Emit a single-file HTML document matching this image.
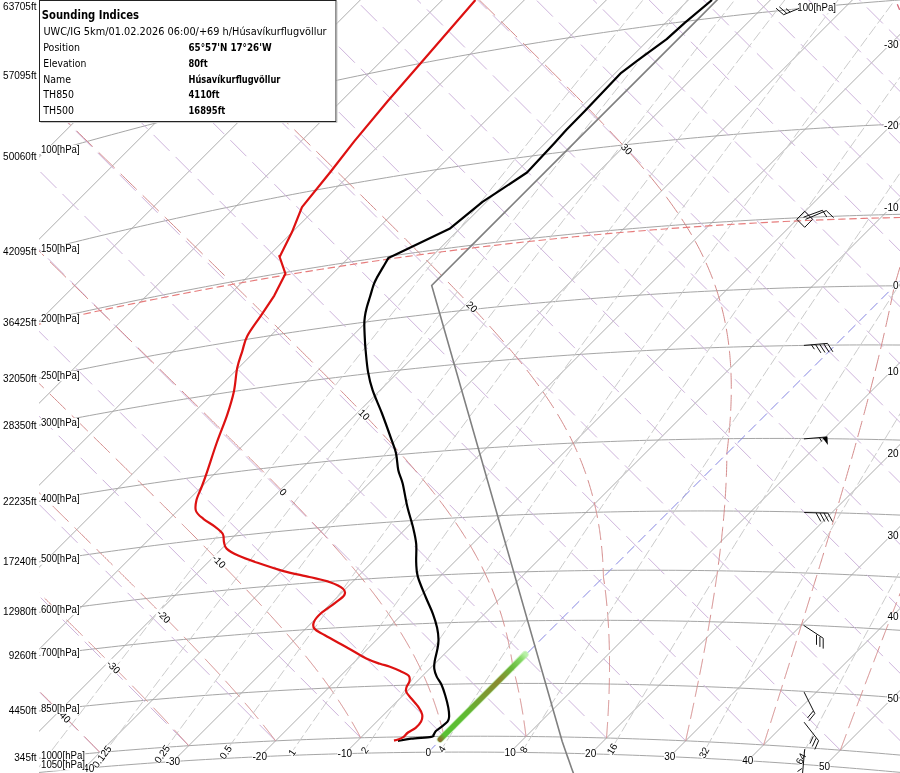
<!DOCTYPE html>
<html><head><meta charset="utf-8"><title>Sounding</title>
<style>html,body{margin:0;padding:0;background:#fff;width:900px;height:773px;overflow:hidden}svg{position:absolute;left:0;top:0;display:block}</style>
</head><body>
<svg width="900" height="773" viewBox="0 0 900 773">
<defs><clipPath id="pa"><rect x="39" y="0" width="861" height="773"/></clipPath></defs>
<rect width="900" height="773" fill="#fff"/>
<g clip-path="url(#pa)">
<path d="M-1230.41 1098.67 L-330.41 198.67 M-1093.06 1043.34 L-193.06 143.34 M-963.24 995.53 L-63.24 95.53 M-839.86 954.16 L60.14 54.16 M-722.04 918.35 L177.96 18.35 M-609.08 887.4 L290.92 -12.6 M-500.4 860.74 L399.6 -39.26 M-395.52 837.87 L504.48 -62.13 M-294.04 818.4 L605.96 -81.6 M-195.61 801.99 L704.39 -98.01 M-99.94 788.33 L800.06 -111.67 M-6.78 777.18 L893.22 -122.82 M84.09 768.32 L984.09 -131.68 M172.87 761.55 L1072.87 -138.45 M259.73 756.71 L1159.73 -143.29 M344.81 753.64 L1244.81 -146.36 M510.15 752.32 L1410.15 -147.68 M590.64 753.85 L1490.64 -146.15 M669.8 756.7 L1569.8 -143.3 M747.73 760.78 L1647.73 -139.22 M824.49 766.03 L1724.49 -133.97" stroke="#acacac" stroke-width="1" fill="none"/>
<path d="M39 1.59 L46.24 -0.92 L53.47 -3.42 L60.71 -5.91 L67.94 -8.38 L75.18 -10.83 L82.41 -13.28 L89.65 -15.71 L96.88 -18.12 L104.12 -20.52 L111.35 -22.91 L118.59 -25.29 L125.82 -27.65 L133.06 -30 L140.29 -32.33 L147.53 -34.65 L154.76 -36.96 L162 -39.25 L169.24 -41.53 L176.47 -43.8 L183.71 -46.05 L190.94 -48.29 L198.18 -50.52 L205.41 -52.73 L212.65 -54.93 L219.88 -57.11 L227.12 -59.28 L234.35 -61.44 L241.59 -63.58 L248.82 -65.71 L256.06 -67.83 L263.29 -69.93 L270.53 -72.02 L277.76 -74.1 L285 -76.16 L292.24 -78.21 L299.47 -80.24 L306.71 -82.26 L313.94 -84.27 L321.18 -86.26 L328.41 -88.24 L335.65 -90.21 L342.88 -92.16 L350.12 -94.1 L357.35 -96.03 L364.59 -97.94 L371.82 -99.84 L379.06 -101.73 L386.29 -103.6 L393.53 -105.46 L400.76 -107.31 L408 -109.14 L415.24 -110.96 L422.47 -112.76 L429.71 -114.55 L436.94 -116.33 L444.18 -118.09 L451.41 -119.85 L458.65 -121.58 L465.88 -123.31 L473.12 -125.02 L480.35 -126.71 L487.59 -128.4 L494.82 -130.07 L502.06 -131.73 L509.29 -133.37 L516.53 -135 L523.76 -136.62 L531 -138.22 L538.24 -139.81 L545.47 -141.39 L552.71 -142.95 L559.94 -144.5 L567.18 -146.04 L574.41 -147.56 L581.65 -149.07 L588.88 -150.57 L596.12 -152.05 L603.35 -153.52 L610.59 -154.98 L617.82 -156.42 L625.06 -157.85 L632.29 -159.27 L639.53 -160.67 L646.76 -162.06 L654 -163.44 L661.24 -164.81 L668.47 -166.16 L675.71 -167.5 L682.94 -168.82 L690.18 -170.13 L697.41 -171.43 L704.65 -172.72 L711.88 -173.99 L719.12 -175.25 L726.35 -176.5 L733.59 -177.73 L740.82 -178.95 L748.06 -180.16 L755.29 -181.35 L762.53 -182.53 L769.76 -183.7 L777 -184.85 L784.24 -185.99 L791.47 -187.12 L798.71 -188.24 L805.94 -189.34 L813.18 -190.43 L820.41 -191.51 L827.65 -192.57 L834.88 -193.63 L842.12 -194.66 L849.35 -195.69 L856.59 -196.7 L863.82 -197.7 L871.06 -198.69 L878.29 -199.66 L885.53 -200.62 L892.76 -201.57 L900 -202.51 M39 74.44 L46.24 72.13 L53.47 69.84 L60.71 67.56 L67.94 65.3 L75.18 63.05 L82.41 60.81 L89.65 58.59 L96.88 56.38 L104.12 54.18 L111.35 52 L118.59 49.83 L125.82 47.67 L133.06 45.53 L140.29 43.4 L147.53 41.29 L154.76 39.19 L162 37.1 L169.24 35.02 L176.47 32.96 L183.71 30.92 L190.94 28.88 L198.18 26.86 L205.41 24.86 L212.65 22.86 L219.88 20.89 L227.12 18.92 L234.35 16.97 L241.59 15.03 L248.82 13.1 L256.06 11.19 L263.29 9.3 L270.53 7.41 L277.76 5.54 L285 3.68 L292.24 1.84 L299.47 0.01 L306.71 -1.81 L313.94 -3.61 L321.18 -5.4 L328.41 -7.18 L335.65 -8.94 L342.88 -10.69 L350.12 -12.43 L357.35 -14.15 L364.59 -15.86 L371.82 -17.55 L379.06 -19.23 L386.29 -20.9 L393.53 -22.56 L400.76 -24.2 L408 -25.83 L415.24 -27.45 L422.47 -29.05 L429.71 -30.64 L436.94 -32.21 L444.18 -33.77 L451.41 -35.32 L458.65 -36.86 L465.88 -38.38 L473.12 -39.89 L480.35 -41.38 L487.59 -42.86 L494.82 -44.33 L502.06 -45.79 L509.29 -47.23 L516.53 -48.66 L523.76 -50.08 L531 -51.48 L538.24 -52.87 L545.47 -54.24 L552.71 -55.61 L559.94 -56.96 L567.18 -58.29 L574.41 -59.62 L581.65 -60.93 L588.88 -62.22 L596.12 -63.51 L603.35 -64.78 L610.59 -66.04 L617.82 -67.28 L625.06 -68.51 L632.29 -69.73 L639.53 -70.94 L646.76 -72.13 L654 -73.31 L661.24 -74.48 L668.47 -75.63 L675.71 -76.77 L682.94 -77.9 L690.18 -79.01 L697.41 -80.11 L704.65 -81.2 L711.88 -82.28 L719.12 -83.34 L726.35 -84.39 L733.59 -85.43 L740.82 -86.45 L748.06 -87.46 L755.29 -88.46 L762.53 -89.45 L769.76 -90.42 L777 -91.38 L784.24 -92.33 L791.47 -93.26 L798.71 -94.18 L805.94 -95.09 L813.18 -95.99 L820.41 -96.87 L827.65 -97.74 L834.88 -98.6 L842.12 -99.44 L849.35 -100.28 L856.59 -101.1 L863.82 -101.9 L871.06 -102.7 L878.29 -103.48 L885.53 -104.25 L892.76 -105.01 L900 -105.75 M39 155.06 L46.24 152.97 L53.47 150.9 L60.71 148.84 L67.94 146.79 L75.18 144.76 L82.41 142.74 L89.65 140.74 L96.88 138.74 L104.12 136.76 L111.35 134.8 L118.59 132.85 L125.82 130.91 L133.06 128.98 L140.29 127.07 L147.53 125.18 L154.76 123.29 L162 121.42 L169.24 119.56 L176.47 117.72 L183.71 115.89 L190.94 114.07 L198.18 112.27 L205.41 110.48 L212.65 108.71 L219.88 106.94 L227.12 105.19 L234.35 103.46 L241.59 101.74 L248.82 100.03 L256.06 98.33 L263.29 96.65 L270.53 94.98 L277.76 93.33 L285 91.68 L292.24 90.06 L299.47 88.44 L306.71 86.84 L313.94 85.25 L321.18 83.68 L328.41 82.11 L335.65 80.57 L342.88 79.03 L350.12 77.51 L357.35 76 L364.59 74.51 L371.82 73.02 L379.06 71.56 L386.29 70.1 L393.53 68.66 L400.76 67.23 L408 65.81 L415.24 64.41 L422.47 63.02 L429.71 61.65 L436.94 60.28 L444.18 58.94 L451.41 57.6 L458.65 56.28 L465.88 54.97 L473.12 53.67 L480.35 52.39 L487.59 51.11 L494.82 49.86 L502.06 48.61 L509.29 47.38 L516.53 46.16 L523.76 44.96 L531 43.77 L538.24 42.59 L545.47 41.42 L552.71 40.27 L559.94 39.13 L567.18 38 L574.41 36.89 L581.65 35.78 L588.88 34.7 L596.12 33.62 L603.35 32.56 L610.59 31.51 L617.82 30.47 L625.06 29.45 L632.29 28.44 L639.53 27.44 L646.76 26.45 L654 25.48 L661.24 24.52 L668.47 23.58 L675.71 22.64 L682.94 21.72 L690.18 20.81 L697.41 19.92 L704.65 19.03 L711.88 18.16 L719.12 17.3 L726.35 16.46 L733.59 15.63 L740.82 14.81 L748.06 14 L755.29 13.21 L762.53 12.42 L769.76 11.66 L777 10.9 L784.24 10.15 L791.47 9.42 L798.71 8.7 L805.94 8 L813.18 7.3 L820.41 6.62 L827.65 5.95 L834.88 5.3 L842.12 4.65 L849.35 4.02 L856.59 3.4 L863.82 2.79 L871.06 2.2 L878.29 1.62 L885.53 1.05 L892.76 0.49 L900 -0.05 M39 250.95 L46.24 249.11 L53.47 247.28 L60.71 245.47 L67.94 243.67 L75.18 241.88 L82.41 240.11 L89.65 238.35 L96.88 236.6 L104.12 234.87 L111.35 233.15 L118.59 231.44 L125.82 229.75 L133.06 228.07 L140.29 226.41 L147.53 224.75 L154.76 223.11 L162 221.49 L169.24 219.88 L176.47 218.28 L183.71 216.69 L190.94 215.12 L198.18 213.56 L205.41 212.02 L212.65 210.48 L219.88 208.96 L227.12 207.46 L234.35 205.97 L241.59 204.49 L248.82 203.02 L256.06 201.57 L263.29 200.13 L270.53 198.71 L277.76 197.29 L285 195.89 L292.24 194.51 L299.47 193.13 L306.71 191.77 L313.94 190.43 L321.18 189.09 L328.41 187.77 L335.65 186.47 L342.88 185.17 L350.12 183.89 L357.35 182.62 L364.59 181.37 L371.82 180.13 L379.06 178.9 L386.29 177.68 L393.53 176.48 L400.76 175.29 L408 174.11 L415.24 172.95 L422.47 171.8 L429.71 170.66 L436.94 169.54 L444.18 168.43 L451.41 167.33 L458.65 166.24 L465.88 165.17 L473.12 164.11 L480.35 163.06 L487.59 162.03 L494.82 161.01 L502.06 160 L509.29 159.01 L516.53 158.02 L523.76 157.05 L531 156.1 L538.24 155.15 L545.47 154.22 L552.71 153.3 L559.94 152.4 L567.18 151.5 L574.41 150.62 L581.65 149.76 L588.88 148.9 L596.12 148.06 L603.35 147.23 L610.59 146.41 L617.82 145.61 L625.06 144.82 L632.29 144.04 L639.53 143.27 L646.76 142.52 L654 141.78 L661.24 141.05 L668.47 140.33 L675.71 139.63 L682.94 138.94 L690.18 138.26 L697.41 137.59 L704.65 136.94 L711.88 136.29 L719.12 135.67 L726.35 135.05 L733.59 134.44 L740.82 133.85 L748.06 133.27 L755.29 132.71 L762.53 132.15 L769.76 131.61 L777 131.08 L784.24 130.56 L791.47 130.05 L798.71 129.56 L805.94 129.08 L813.18 128.61 L820.41 128.15 L827.65 127.71 L834.88 127.28 L842.12 126.86 L849.35 126.45 L856.59 126.05 L863.82 125.67 L871.06 125.3 L878.29 124.94 L885.53 124.59 L892.76 124.25 L900 123.93 M39 321.7 L46.24 320.03 L53.47 318.38 L60.71 316.74 L67.94 315.11 L75.18 313.5 L82.41 311.9 L89.65 310.31 L96.88 308.74 L104.12 307.18 L111.35 305.63 L118.59 304.1 L125.82 302.58 L133.06 301.07 L140.29 299.58 L147.53 298.1 L154.76 296.63 L162 295.18 L169.24 293.74 L176.47 292.31 L183.71 290.9 L190.94 289.5 L198.18 288.11 L205.41 286.74 L212.65 285.38 L219.88 284.03 L227.12 282.69 L234.35 281.37 L241.59 280.06 L248.82 278.77 L256.06 277.49 L263.29 276.22 L270.53 274.96 L277.76 273.72 L285 272.49 L292.24 271.27 L299.47 270.07 L306.71 268.88 L313.94 267.7 L321.18 266.54 L328.41 265.39 L335.65 264.25 L342.88 263.12 L350.12 262.01 L357.35 260.91 L364.59 259.83 L371.82 258.75 L379.06 257.69 L386.29 256.64 L393.53 255.61 L400.76 254.59 L408 253.58 L415.24 252.58 L422.47 251.6 L429.71 250.63 L436.94 249.67 L444.18 248.72 L451.41 247.79 L458.65 246.87 L465.88 245.96 L473.12 245.07 L480.35 244.19 L487.59 243.32 L494.82 242.47 L502.06 241.62 L509.29 240.79 L516.53 239.97 L523.76 239.17 L531 238.38 L538.24 237.6 L545.47 236.83 L552.71 236.07 L559.94 235.33 L567.18 234.6 L574.41 233.88 L581.65 233.18 L588.88 232.49 L596.12 231.81 L603.35 231.14 L610.59 230.48 L617.82 229.84 L625.06 229.21 L632.29 228.59 L639.53 227.99 L646.76 227.4 L654 226.82 L661.24 226.25 L668.47 225.69 L675.71 225.15 L682.94 224.62 L690.18 224.1 L697.41 223.59 L704.65 223.1 L711.88 222.61 L719.12 222.14 L726.35 221.69 L733.59 221.24 L740.82 220.81 L748.06 220.39 L755.29 219.98 L762.53 219.58 L769.76 219.19 L777 218.82 L784.24 218.46 L791.47 218.11 L798.71 217.78 L805.94 217.45 L813.18 217.14 L820.41 216.84 L827.65 216.55 L834.88 216.27 L842.12 216.01 L849.35 215.75 L856.59 215.51 L863.82 215.28 L871.06 215.06 L878.29 214.86 L885.53 214.66 L892.76 214.48 L900 214.31 M39 378.12 L46.24 376.59 L53.47 375.07 L60.71 373.56 L67.94 372.07 L75.18 370.59 L82.41 369.12 L89.65 367.67 L96.88 366.23 L104.12 364.8 L111.35 363.39 L118.59 361.99 L125.82 360.6 L133.06 359.23 L140.29 357.87 L147.53 356.52 L154.76 355.19 L162 353.86 L169.24 352.56 L176.47 351.26 L183.71 349.98 L190.94 348.71 L198.18 347.46 L205.41 346.21 L212.65 344.98 L219.88 343.77 L227.12 342.57 L234.35 341.38 L241.59 340.2 L248.82 339.03 L256.06 337.88 L263.29 336.75 L270.53 335.62 L277.76 334.51 L285 333.41 L292.24 332.32 L299.47 331.25 L306.71 330.19 L313.94 329.14 L321.18 328.11 L328.41 327.08 L335.65 326.08 L342.88 325.08 L350.12 324.1 L357.35 323.13 L364.59 322.17 L371.82 321.22 L379.06 320.29 L386.29 319.37 L393.53 318.47 L400.76 317.57 L408 316.69 L415.24 315.82 L422.47 314.97 L429.71 314.12 L436.94 313.29 L444.18 312.48 L451.41 311.67 L458.65 310.88 L465.88 310.1 L473.12 309.33 L480.35 308.58 L487.59 307.84 L494.82 307.11 L502.06 306.39 L509.29 305.68 L516.53 304.99 L523.76 304.31 L531 303.65 L538.24 302.99 L545.47 302.35 L552.71 301.72 L559.94 301.1 L567.18 300.5 L574.41 299.91 L581.65 299.32 L588.88 298.76 L596.12 298.2 L603.35 297.66 L610.59 297.13 L617.82 296.61 L625.06 296.1 L632.29 295.61 L639.53 295.13 L646.76 294.66 L654 294.2 L661.24 293.75 L668.47 293.32 L675.71 292.9 L682.94 292.49 L690.18 292.09 L697.41 291.71 L704.65 291.34 L711.88 290.98 L719.12 290.63 L726.35 290.29 L733.59 289.97 L740.82 289.65 L748.06 289.35 L755.29 289.06 L762.53 288.79 L769.76 288.52 L777 288.27 L784.24 288.03 L791.47 287.8 L798.71 287.58 L805.94 287.38 L813.18 287.18 L820.41 287 L827.65 286.83 L834.88 286.67 L842.12 286.53 L849.35 286.39 L856.59 286.27 L863.82 286.16 L871.06 286.06 L878.29 285.97 L885.53 285.89 L892.76 285.83 L900 285.77 M39 425.21 L46.24 423.79 L53.47 422.38 L60.71 420.98 L67.94 419.6 L75.18 418.22 L82.41 416.87 L89.65 415.52 L96.88 414.19 L104.12 412.87 L111.35 411.57 L118.59 410.27 L125.82 408.99 L133.06 407.73 L140.29 406.48 L147.53 405.24 L154.76 404.01 L162 402.79 L169.24 401.59 L176.47 400.41 L183.71 399.23 L190.94 398.07 L198.18 396.92 L205.41 395.79 L212.65 394.66 L219.88 393.55 L227.12 392.46 L234.35 391.37 L241.59 390.3 L248.82 389.24 L256.06 388.2 L263.29 387.17 L270.53 386.15 L277.76 385.14 L285 384.15 L292.24 383.17 L299.47 382.2 L306.71 381.24 L313.94 380.3 L321.18 379.37 L328.41 378.46 L335.65 377.55 L342.88 376.66 L350.12 375.78 L357.35 374.92 L364.59 374.06 L371.82 373.22 L379.06 372.39 L386.29 371.58 L393.53 370.78 L400.76 369.99 L408 369.21 L415.24 368.44 L422.47 367.69 L429.71 366.95 L436.94 366.22 L444.18 365.51 L451.41 364.81 L458.65 364.12 L465.88 363.44 L473.12 362.78 L480.35 362.12 L487.59 361.48 L494.82 360.86 L502.06 360.24 L509.29 359.64 L516.53 359.05 L523.76 358.47 L531 357.91 L538.24 357.35 L545.47 356.81 L552.71 356.28 L559.94 355.77 L567.18 355.26 L574.41 354.77 L581.65 354.29 L588.88 353.82 L596.12 353.37 L603.35 352.93 L610.59 352.49 L617.82 352.08 L625.06 351.67 L632.29 351.27 L639.53 350.89 L646.76 350.52 L654 350.16 L661.24 349.82 L668.47 349.48 L675.71 349.16 L682.94 348.85 L690.18 348.55 L697.41 348.27 L704.65 347.99 L711.88 347.73 L719.12 347.48 L726.35 347.24 L733.59 347.01 L740.82 346.8 L748.06 346.59 L755.29 346.4 L762.53 346.22 L769.76 346.06 L777 345.9 L784.24 345.75 L791.47 345.62 L798.71 345.5 L805.94 345.39 L813.18 345.29 L820.41 345.21 L827.65 345.13 L834.88 345.07 L842.12 345.02 L849.35 344.98 L856.59 344.95 L863.82 344.94 L871.06 344.93 L878.29 344.94 L885.53 344.96 L892.76 344.99 L900 345.03 M39 501.32 L46.24 500.07 L53.47 498.83 L60.71 497.6 L67.94 496.39 L75.18 495.18 L82.41 494 L89.65 492.82 L96.88 491.66 L104.12 490.51 L111.35 489.37 L118.59 488.25 L125.82 487.14 L133.06 486.04 L140.29 484.95 L147.53 483.88 L154.76 482.82 L162 481.78 L169.24 480.74 L176.47 479.72 L183.71 478.72 L190.94 477.72 L198.18 476.74 L205.41 475.77 L212.65 474.82 L219.88 473.87 L227.12 472.94 L234.35 472.02 L241.59 471.12 L248.82 470.23 L256.06 469.35 L263.29 468.48 L270.53 467.63 L277.76 466.78 L285 465.96 L292.24 465.14 L299.47 464.34 L306.71 463.54 L313.94 462.77 L321.18 462 L328.41 461.25 L335.65 460.51 L342.88 459.78 L350.12 459.06 L357.35 458.36 L364.59 457.67 L371.82 456.99 L379.06 456.33 L386.29 455.67 L393.53 455.03 L400.76 454.4 L408 453.79 L415.24 453.18 L422.47 452.59 L429.71 452.01 L436.94 451.45 L444.18 450.89 L451.41 450.35 L458.65 449.82 L465.88 449.3 L473.12 448.8 L480.35 448.31 L487.59 447.83 L494.82 447.36 L502.06 446.9 L509.29 446.46 L516.53 446.03 L523.76 445.61 L531 445.2 L538.24 444.8 L545.47 444.42 L552.71 444.05 L559.94 443.69 L567.18 443.34 L574.41 443.01 L581.65 442.68 L588.88 442.37 L596.12 442.07 L603.35 441.79 L610.59 441.51 L617.82 441.25 L625.06 440.99 L632.29 440.76 L639.53 440.53 L646.76 440.31 L654 440.11 L661.24 439.92 L668.47 439.73 L675.71 439.57 L682.94 439.41 L690.18 439.26 L697.41 439.13 L704.65 439.01 L711.88 438.9 L719.12 438.8 L726.35 438.71 L733.59 438.64 L740.82 438.57 L748.06 438.52 L755.29 438.48 L762.53 438.45 L769.76 438.44 L777 438.43 L784.24 438.44 L791.47 438.45 L798.71 438.48 L805.94 438.52 L813.18 438.57 L820.41 438.64 L827.65 438.71 L834.88 438.8 L842.12 438.89 L849.35 439 L856.59 439.12 L863.82 439.25 L871.06 439.39 L878.29 439.55 L885.53 439.71 L892.76 439.89 L900 440.08 M39 561.87 L46.24 560.74 L53.47 559.63 L60.71 558.54 L67.94 557.45 L75.18 556.38 L82.41 555.32 L89.65 554.28 L96.88 553.24 L104.12 552.22 L111.35 551.22 L118.59 550.22 L125.82 549.24 L133.06 548.27 L140.29 547.32 L147.53 546.37 L154.76 545.44 L162 544.52 L169.24 543.62 L176.47 542.73 L183.71 541.85 L190.94 540.98 L198.18 540.13 L205.41 539.29 L212.65 538.46 L219.88 537.64 L227.12 536.84 L234.35 536.05 L241.59 535.27 L248.82 534.51 L256.06 533.75 L263.29 533.01 L270.53 532.28 L277.76 531.57 L285 530.87 L292.24 530.18 L299.47 529.5 L306.71 528.83 L313.94 528.18 L321.18 527.54 L328.41 526.91 L335.65 526.3 L342.88 525.69 L350.12 525.1 L357.35 524.52 L364.59 523.96 L371.82 523.4 L379.06 522.86 L386.29 522.33 L393.53 521.81 L400.76 521.31 L408 520.82 L415.24 520.34 L422.47 519.87 L429.71 519.41 L436.94 518.97 L444.18 518.54 L451.41 518.12 L458.65 517.71 L465.88 517.32 L473.12 516.93 L480.35 516.56 L487.59 516.2 L494.82 515.86 L502.06 515.52 L509.29 515.2 L516.53 514.89 L523.76 514.59 L531 514.3 L538.24 514.03 L545.47 513.76 L552.71 513.51 L559.94 513.27 L567.18 513.04 L574.41 512.83 L581.65 512.63 L588.88 512.43 L596.12 512.25 L603.35 512.08 L610.59 511.93 L617.82 511.78 L625.06 511.65 L632.29 511.53 L639.53 511.42 L646.76 511.32 L654 511.23 L661.24 511.16 L668.47 511.1 L675.71 511.04 L682.94 511 L690.18 510.97 L697.41 510.96 L704.65 510.95 L711.88 510.96 L719.12 510.98 L726.35 511 L733.59 511.05 L740.82 511.1 L748.06 511.16 L755.29 511.23 L762.53 511.32 L769.76 511.42 L777 511.53 L784.24 511.65 L791.47 511.78 L798.71 511.92 L805.94 512.07 L813.18 512.24 L820.41 512.42 L827.65 512.6 L834.88 512.8 L842.12 513.01 L849.35 513.23 L856.59 513.47 L863.82 513.71 L871.06 513.96 L878.29 514.23 L885.53 514.51 L892.76 514.79 L900 515.09 M39 612.3 L46.24 611.29 L53.47 610.28 L60.71 609.29 L67.94 608.31 L75.18 607.34 L82.41 606.39 L89.65 605.45 L96.88 604.52 L104.12 603.61 L111.35 602.71 L118.59 601.82 L125.82 600.94 L133.06 600.07 L140.29 599.22 L147.53 598.38 L154.76 597.56 L162 596.74 L169.24 595.94 L176.47 595.16 L183.71 594.38 L190.94 593.62 L198.18 592.87 L205.41 592.13 L212.65 591.4 L219.88 590.69 L227.12 589.99 L234.35 589.3 L241.59 588.63 L248.82 587.96 L256.06 587.31 L263.29 586.67 L270.53 586.05 L277.76 585.44 L285 584.83 L292.24 584.25 L299.47 583.67 L306.71 583.11 L313.94 582.55 L321.18 582.02 L328.41 581.49 L335.65 580.97 L342.88 580.47 L350.12 579.98 L357.35 579.5 L364.59 579.04 L371.82 578.58 L379.06 578.14 L386.29 577.71 L393.53 577.3 L400.76 576.89 L408 576.5 L415.24 576.12 L422.47 575.75 L429.71 575.39 L436.94 575.05 L444.18 574.71 L451.41 574.39 L458.65 574.08 L465.88 573.79 L473.12 573.5 L480.35 573.23 L487.59 572.97 L494.82 572.72 L502.06 572.48 L509.29 572.26 L516.53 572.04 L523.76 571.84 L531 571.65 L538.24 571.48 L545.47 571.31 L552.71 571.15 L559.94 571.01 L567.18 570.88 L574.41 570.76 L581.65 570.65 L588.88 570.56 L596.12 570.47 L603.35 570.4 L610.59 570.34 L617.82 570.29 L625.06 570.25 L632.29 570.23 L639.53 570.21 L646.76 570.21 L654 570.22 L661.24 570.24 L668.47 570.27 L675.71 570.31 L682.94 570.36 L690.18 570.43 L697.41 570.51 L704.65 570.59 L711.88 570.69 L719.12 570.8 L726.35 570.93 L733.59 571.06 L740.82 571.2 L748.06 571.36 L755.29 571.53 L762.53 571.71 L769.76 571.9 L777 572.1 L784.24 572.31 L791.47 572.53 L798.71 572.77 L805.94 573.01 L813.18 573.27 L820.41 573.54 L827.65 573.81 L834.88 574.1 L842.12 574.4 L849.35 574.72 L856.59 575.04 L863.82 575.37 L871.06 575.72 L878.29 576.07 L885.53 576.44 L892.76 576.82 L900 577.2 M39 655.62 L46.24 654.69 L53.47 653.78 L60.71 652.87 L67.94 651.98 L75.18 651.1 L82.41 650.24 L89.65 649.39 L96.88 648.55 L104.12 647.72 L111.35 646.91 L118.59 646.1 L125.82 645.31 L133.06 644.54 L140.29 643.77 L147.53 643.02 L154.76 642.28 L162 641.56 L169.24 640.84 L176.47 640.14 L183.71 639.45 L190.94 638.78 L198.18 638.11 L205.41 637.46 L212.65 636.82 L219.88 636.2 L227.12 635.58 L234.35 634.98 L241.59 634.39 L248.82 633.81 L256.06 633.25 L263.29 632.7 L270.53 632.16 L277.76 631.63 L285 631.11 L292.24 630.61 L299.47 630.12 L306.71 629.64 L313.94 629.17 L321.18 628.72 L328.41 628.27 L335.65 627.84 L342.88 627.43 L350.12 627.02 L357.35 626.63 L364.59 626.25 L371.82 625.88 L379.06 625.52 L386.29 625.17 L393.53 624.84 L400.76 624.52 L408 624.21 L415.24 623.91 L422.47 623.62 L429.71 623.35 L436.94 623.09 L444.18 622.84 L451.41 622.6 L458.65 622.37 L465.88 622.16 L473.12 621.96 L480.35 621.77 L487.59 621.59 L494.82 621.42 L502.06 621.27 L509.29 621.12 L516.53 620.99 L523.76 620.87 L531 620.76 L538.24 620.66 L545.47 620.58 L552.71 620.51 L559.94 620.44 L567.18 620.39 L574.41 620.35 L581.65 620.33 L588.88 620.31 L596.12 620.31 L603.35 620.31 L610.59 620.33 L617.82 620.36 L625.06 620.41 L632.29 620.46 L639.53 620.52 L646.76 620.6 L654 620.69 L661.24 620.78 L668.47 620.89 L675.71 621.02 L682.94 621.15 L690.18 621.29 L697.41 621.45 L704.65 621.61 L711.88 621.79 L719.12 621.98 L726.35 622.18 L733.59 622.39 L740.82 622.61 L748.06 622.85 L755.29 623.09 L762.53 623.35 L769.76 623.61 L777 623.89 L784.24 624.18 L791.47 624.48 L798.71 624.79 L805.94 625.11 L813.18 625.45 L820.41 625.79 L827.65 626.15 L834.88 626.51 L842.12 626.89 L849.35 627.27 L856.59 627.67 L863.82 628.08 L871.06 628.5 L878.29 628.93 L885.53 629.37 L892.76 629.83 L900 630.29 M39 711.05 L46.24 710.23 L53.47 709.43 L60.71 708.63 L67.94 707.85 L75.18 707.09 L82.41 706.33 L89.65 705.59 L96.88 704.86 L104.12 704.14 L111.35 703.44 L118.59 702.74 L125.82 702.06 L133.06 701.4 L140.29 700.74 L147.53 700.1 L154.76 699.47 L162 698.85 L169.24 698.25 L176.47 697.65 L183.71 697.07 L190.94 696.51 L198.18 695.95 L205.41 695.41 L212.65 694.87 L219.88 694.36 L227.12 693.85 L234.35 693.35 L241.59 692.87 L248.82 692.4 L256.06 691.94 L263.29 691.5 L270.53 691.06 L277.76 690.64 L285 690.23 L292.24 689.84 L299.47 689.45 L306.71 689.08 L313.94 688.72 L321.18 688.37 L328.41 688.03 L335.65 687.71 L342.88 687.39 L350.12 687.09 L357.35 686.8 L364.59 686.53 L371.82 686.26 L379.06 686.01 L386.29 685.77 L393.53 685.54 L400.76 685.32 L408 685.11 L415.24 684.92 L422.47 684.74 L429.71 684.57 L436.94 684.41 L444.18 684.26 L451.41 684.13 L458.65 684 L465.88 683.89 L473.12 683.79 L480.35 683.7 L487.59 683.63 L494.82 683.56 L502.06 683.51 L509.29 683.47 L516.53 683.44 L523.76 683.42 L531 683.41 L538.24 683.41 L545.47 683.43 L552.71 683.46 L559.94 683.49 L567.18 683.54 L574.41 683.61 L581.65 683.68 L588.88 683.76 L596.12 683.86 L603.35 683.96 L610.59 684.08 L617.82 684.21 L625.06 684.35 L632.29 684.51 L639.53 684.67 L646.76 684.84 L654 685.03 L661.24 685.23 L668.47 685.43 L675.71 685.65 L682.94 685.88 L690.18 686.12 L697.41 686.38 L704.65 686.64 L711.88 686.92 L719.12 687.2 L726.35 687.5 L733.59 687.81 L740.82 688.12 L748.06 688.45 L755.29 688.8 L762.53 689.15 L769.76 689.51 L777 689.88 L784.24 690.27 L791.47 690.66 L798.71 691.07 L805.94 691.48 L813.18 691.91 L820.41 692.35 L827.65 692.8 L834.88 693.26 L842.12 693.73 L849.35 694.21 L856.59 694.7 L863.82 695.21 L871.06 695.72 L878.29 696.24 L885.53 696.78 L892.76 697.32 L900 697.88 M39 758.19 L46.24 757.46 L53.47 756.75 L60.71 756.05 L67.94 755.36 L75.18 754.68 L82.41 754.02 L89.65 753.37 L96.88 752.73 L104.12 752.1 L111.35 751.49 L118.59 750.89 L125.82 750.3 L133.06 749.72 L140.29 749.16 L147.53 748.6 L154.76 748.06 L162 747.54 L169.24 747.02 L176.47 746.52 L183.71 746.03 L190.94 745.55 L198.18 745.08 L205.41 744.63 L212.65 744.19 L219.88 743.76 L227.12 743.34 L234.35 742.93 L241.59 742.54 L248.82 742.16 L256.06 741.79 L263.29 741.43 L270.53 741.09 L277.76 740.75 L285 740.43 L292.24 740.12 L299.47 739.82 L306.71 739.54 L313.94 739.27 L321.18 739 L328.41 738.75 L335.65 738.52 L342.88 738.29 L350.12 738.08 L357.35 737.87 L364.59 737.68 L371.82 737.51 L379.06 737.34 L386.29 737.18 L393.53 737.04 L400.76 736.91 L408 736.79 L415.24 736.68 L422.47 736.58 L429.71 736.5 L436.94 736.42 L444.18 736.36 L451.41 736.31 L458.65 736.27 L465.88 736.25 L473.12 736.23 L480.35 736.23 L487.59 736.24 L494.82 736.25 L502.06 736.29 L509.29 736.33 L516.53 736.38 L523.76 736.45 L531 736.52 L538.24 736.61 L545.47 736.71 L552.71 736.82 L559.94 736.94 L567.18 737.07 L574.41 737.22 L581.65 737.37 L588.88 737.54 L596.12 737.72 L603.35 737.91 L610.59 738.11 L617.82 738.32 L625.06 738.54 L632.29 738.77 L639.53 739.02 L646.76 739.27 L654 739.54 L661.24 739.82 L668.47 740.11 L675.71 740.41 L682.94 740.72 L690.18 741.04 L697.41 741.37 L704.65 741.72 L711.88 742.07 L719.12 742.44 L726.35 742.82 L733.59 743.2 L740.82 743.6 L748.06 744.01 L755.29 744.43 L762.53 744.86 L769.76 745.3 L777 745.76 L784.24 746.22 L791.47 746.69 L798.71 747.18 L805.94 747.67 L813.18 748.18 L820.41 748.7 L827.65 749.22 L834.88 749.76 L842.12 750.31 L849.35 750.87 L856.59 751.44 L863.82 752.02 L871.06 752.61 L878.29 753.21 L885.53 753.82 L892.76 754.44 L900 755.07 M39 772.47 L46.24 771.77 L53.47 771.09 L60.71 770.41 L67.94 769.75 L75.18 769.1 L82.41 768.47 L89.65 767.84 L96.88 767.23 L104.12 766.63 L111.35 766.04 L118.59 765.47 L125.82 764.91 L133.06 764.36 L140.29 763.82 L147.53 763.29 L154.76 762.78 L162 762.28 L169.24 761.79 L176.47 761.32 L183.71 760.85 L190.94 760.4 L198.18 759.96 L205.41 759.53 L212.65 759.12 L219.88 758.71 L227.12 758.32 L234.35 757.94 L241.59 757.58 L248.82 757.22 L256.06 756.88 L263.29 756.55 L270.53 756.23 L277.76 755.92 L285 755.63 L292.24 755.34 L299.47 755.07 L306.71 754.81 L313.94 754.56 L321.18 754.33 L328.41 754.11 L335.65 753.89 L342.88 753.69 L350.12 753.51 L357.35 753.33 L364.59 753.16 L371.82 753.01 L379.06 752.87 L386.29 752.74 L393.53 752.62 L400.76 752.52 L408 752.42 L415.24 752.34 L422.47 752.27 L429.71 752.21 L436.94 752.16 L444.18 752.13 L451.41 752.1 L458.65 752.09 L465.88 752.09 L473.12 752.1 L480.35 752.12 L487.59 752.15 L494.82 752.19 L502.06 752.25 L509.29 752.32 L516.53 752.39 L523.76 752.48 L531 752.59 L538.24 752.7 L545.47 752.82 L552.71 752.96 L559.94 753.1 L567.18 753.26 L574.41 753.43 L581.65 753.61 L588.88 753.8 L596.12 754 L603.35 754.22 L610.59 754.44 L617.82 754.68 L625.06 754.92 L632.29 755.18 L639.53 755.45 L646.76 755.73 L654 756.02 L661.24 756.32 L668.47 756.64 L675.71 756.96 L682.94 757.3 L690.18 757.64 L697.41 758 L704.65 758.37 L711.88 758.75 L719.12 759.14 L726.35 759.54 L733.59 759.95 L740.82 760.37 L748.06 760.8 L755.29 761.25 L762.53 761.7 L769.76 762.17 L777 762.64 L784.24 763.13 L791.47 763.63 L798.71 764.13 L805.94 764.65 L813.18 765.18 L820.41 765.72 L827.65 766.27 L834.88 766.83 L842.12 767.4 L849.35 767.99 L856.59 768.58 L863.82 769.18 L871.06 769.79 L878.29 770.42 L885.53 771.05 L892.76 771.7 L900 772.35" stroke="#a6a6a6" stroke-width="1" fill="none"/>
<path d="M-84.09 772.47 L-100.09 756.47 M-106.09 750.47 L-122.09 734.47 M-128.09 728.47 L-144.09 712.47 M-150.09 706.47 L-166.09 690.47 M-172.09 684.47 L-188.09 668.47 M-194.09 662.47 L-210.09 646.47 M-216.09 640.47 L-232.09 624.47 M-238.09 618.47 L-254.09 602.47 M-260.09 596.47 L-276.09 580.47 M-282.09 574.47 L-298.09 558.47 M-304.09 552.47 L-320.09 536.47 M-326.09 530.47 L-342.09 514.47 M-348.09 508.47 L-364.09 492.47 M-370.09 486.47 L-386.09 470.47 M-392.09 464.47 L-408.09 448.47 M-414.09 442.47 L-430.09 426.47 M-436.09 420.47 L-452.09 404.47 M-458.09 398.47 L-474.09 382.47 M-480.09 376.47 L-496.09 360.47 M-502.09 354.47 L-518.09 338.47 M-524.09 332.47 L-540.09 316.47 M-546.09 310.47 L-562.09 294.47 M-568.09 288.47 L-584.09 272.47 M-590.09 266.47 L-606.09 250.47 M-612.09 244.47 L-628.09 228.47 M-634.09 222.47 L-650.09 206.47 M-656.09 200.47 L-672.09 184.47 M-678.09 178.47 L-694.09 162.47 M-700.09 156.47 L-716.09 140.47 M-722.09 134.47 L-738.09 118.47 M-744.09 112.47 L-760.09 96.47 M-766.09 90.47 L-782.09 74.47 M-788.09 68.47 L-804.09 52.47 M-810.09 46.47 L-826.09 30.47 M-832.09 24.47 L-848.09 8.47 M-854.09 2.47 L-870.09 -13.53 M-876.09 -19.53 L-892.09 -35.53 M-898.09 -41.53 L-914.09 -57.53 M-920.09 -63.53 L-936.09 -79.53 M-942.09 -85.53 L-958.09 -101.53 M-964.09 -107.53 L-980.09 -123.53 M-986.09 -129.53 L-1002.09 -145.53 M-1008.09 -151.53 L-1024.09 -167.53 M-1030.09 -173.53 L-1046.09 -189.53 M-1052.09 -195.53 L-1068.09 -211.53 M-1074.09 -217.53 L-1084.09 -227.53 M9.08 761.32 L-6.92 745.32 M-12.92 739.32 L-28.92 723.32 M-34.92 717.32 L-50.92 701.32 M-56.92 695.32 L-72.92 679.32 M-78.92 673.32 L-94.92 657.32 M-100.92 651.32 L-116.92 635.32 M-122.92 629.32 L-138.92 613.32 M-144.92 607.32 L-160.92 591.32 M-166.92 585.32 L-182.92 569.32 M-188.92 563.32 L-204.92 547.32 M-210.92 541.32 L-226.92 525.32 M-232.92 519.32 L-248.92 503.32 M-254.92 497.32 L-270.92 481.32 M-276.92 475.32 L-292.92 459.32 M-298.92 453.32 L-314.92 437.32 M-320.92 431.32 L-336.92 415.32 M-342.92 409.32 L-358.92 393.32 M-364.92 387.32 L-380.92 371.32 M-386.92 365.32 L-402.92 349.32 M-408.92 343.32 L-424.92 327.32 M-430.92 321.32 L-446.92 305.32 M-452.92 299.32 L-468.92 283.32 M-474.92 277.32 L-490.92 261.32 M-496.92 255.32 L-512.92 239.32 M-518.92 233.32 L-534.92 217.32 M-540.92 211.32 L-556.92 195.32 M-562.92 189.32 L-578.92 173.32 M-584.92 167.32 L-600.92 151.32 M-606.92 145.32 L-622.92 129.32 M-628.92 123.32 L-644.92 107.32 M-650.92 101.32 L-666.92 85.32 M-672.92 79.32 L-688.92 63.32 M-694.92 57.32 L-710.92 41.32 M-716.92 35.32 L-732.92 19.32 M-738.92 13.32 L-754.92 -2.68 M-760.92 -8.68 L-776.92 -24.68 M-782.92 -30.68 L-798.92 -46.68 M-804.92 -52.68 L-820.92 -68.68 M-826.92 -74.68 L-842.92 -90.68 M-848.92 -96.68 L-864.92 -112.68 M-870.92 -118.68 L-886.92 -134.68 M-892.92 -140.68 L-908.92 -156.68 M-914.92 -162.68 L-930.92 -178.68 M-936.92 -184.68 L-952.92 -200.68 M-958.92 -206.68 L-974.92 -222.68 M-980.92 -228.68 L-990.92 -238.68 M99.95 752.46 L83.95 736.46 M77.95 730.46 L61.95 714.46 M55.95 708.46 L39.95 692.46 M33.95 686.46 L17.95 670.46 M11.95 664.46 L-4.05 648.46 M-10.05 642.46 L-26.05 626.46 M-32.05 620.46 L-48.05 604.46 M-54.05 598.46 L-70.05 582.46 M-76.05 576.46 L-92.05 560.46 M-98.05 554.46 L-114.05 538.46 M-120.05 532.46 L-136.05 516.46 M-142.05 510.46 L-158.05 494.46 M-164.05 488.46 L-180.05 472.46 M-186.05 466.46 L-202.05 450.46 M-208.05 444.46 L-224.05 428.46 M-230.05 422.46 L-246.05 406.46 M-252.05 400.46 L-268.05 384.46 M-274.05 378.46 L-290.05 362.46 M-296.05 356.46 L-312.05 340.46 M-318.05 334.46 L-334.05 318.46 M-340.05 312.46 L-356.05 296.46 M-362.05 290.46 L-378.05 274.46 M-384.05 268.46 L-400.05 252.46 M-406.05 246.46 L-422.05 230.46 M-428.05 224.46 L-444.05 208.46 M-450.05 202.46 L-466.05 186.46 M-472.05 180.46 L-488.05 164.46 M-494.05 158.46 L-510.05 142.46 M-516.05 136.46 L-532.05 120.46 M-538.05 114.46 L-554.05 98.46 M-560.05 92.46 L-576.05 76.46 M-582.05 70.46 L-598.05 54.46 M-604.05 48.46 L-620.05 32.46 M-626.05 26.46 L-642.05 10.46 M-648.05 4.46 L-664.05 -11.54 M-670.05 -17.54 L-686.05 -33.54 M-692.05 -39.54 L-708.05 -55.54 M-714.05 -61.54 L-730.05 -77.54 M-736.05 -83.54 L-752.05 -99.54 M-758.05 -105.54 L-774.05 -121.54 M-780.05 -127.54 L-796.05 -143.54 M-802.05 -149.54 L-818.05 -165.54 M-824.05 -171.54 L-840.05 -187.54 M-846.05 -193.54 L-862.05 -209.54 M-868.05 -215.54 L-884.05 -231.54 M-890.05 -237.54 L-900.05 -247.54 M188.73 745.69 L172.73 729.69 M166.73 723.69 L150.73 707.69 M144.73 701.69 L128.73 685.69 M122.73 679.69 L106.73 663.69 M100.73 657.69 L84.73 641.69 M78.73 635.69 L62.73 619.69 M56.73 613.69 L40.73 597.69 M34.73 591.69 L18.73 575.69 M12.73 569.69 L-3.27 553.69 M-9.27 547.69 L-25.27 531.69 M-31.27 525.69 L-47.27 509.69 M-53.27 503.69 L-69.27 487.69 M-75.27 481.69 L-91.27 465.69 M-97.27 459.69 L-113.27 443.69 M-119.27 437.69 L-135.27 421.69 M-141.27 415.69 L-157.27 399.69 M-163.27 393.69 L-179.27 377.69 M-185.27 371.69 L-201.27 355.69 M-207.27 349.69 L-223.27 333.69 M-229.27 327.69 L-245.27 311.69 M-251.27 305.69 L-267.27 289.69 M-273.27 283.69 L-289.27 267.69 M-295.27 261.69 L-311.27 245.69 M-317.27 239.69 L-333.27 223.69 M-339.27 217.69 L-355.27 201.69 M-361.27 195.69 L-377.27 179.69 M-383.27 173.69 L-399.27 157.69 M-405.27 151.69 L-421.27 135.69 M-427.27 129.69 L-443.27 113.69 M-449.27 107.69 L-465.27 91.69 M-471.27 85.69 L-487.27 69.69 M-493.27 63.69 L-509.27 47.69 M-515.27 41.69 L-531.27 25.69 M-537.27 19.69 L-553.27 3.69 M-559.27 -2.31 L-575.27 -18.31 M-581.27 -24.31 L-597.27 -40.31 M-603.27 -46.31 L-619.27 -62.31 M-625.27 -68.31 L-641.27 -84.31 M-647.27 -90.31 L-663.27 -106.31 M-669.27 -112.31 L-685.27 -128.31 M-691.27 -134.31 L-707.27 -150.31 M-713.27 -156.31 L-729.27 -172.31 M-735.27 -178.31 L-751.27 -194.31 M-757.27 -200.31 L-773.27 -216.31 M-779.27 -222.31 L-795.27 -238.31 M-801.27 -244.31 L-811.27 -254.31 M275.58 740.85 L259.58 724.85 M253.58 718.85 L237.58 702.85 M231.58 696.85 L215.58 680.85 M209.58 674.85 L193.58 658.85 M187.58 652.85 L171.58 636.85 M165.58 630.85 L149.58 614.85 M143.58 608.85 L127.58 592.85 M121.58 586.85 L105.58 570.85 M99.58 564.85 L83.58 548.85 M77.58 542.85 L61.58 526.85 M55.58 520.85 L39.58 504.85 M33.58 498.85 L17.58 482.85 M11.58 476.85 L-4.42 460.85 M-10.42 454.85 L-26.42 438.85 M-32.42 432.85 L-48.42 416.85 M-54.42 410.85 L-70.42 394.85 M-76.42 388.85 L-92.42 372.85 M-98.42 366.85 L-114.42 350.85 M-120.42 344.85 L-136.42 328.85 M-142.42 322.85 L-158.42 306.85 M-164.42 300.85 L-180.42 284.85 M-186.42 278.85 L-202.42 262.85 M-208.42 256.85 L-224.42 240.85 M-230.42 234.85 L-246.42 218.85 M-252.42 212.85 L-268.42 196.85 M-274.42 190.85 L-290.42 174.85 M-296.42 168.85 L-312.42 152.85 M-318.42 146.85 L-334.42 130.85 M-340.42 124.85 L-356.42 108.85 M-362.42 102.85 L-378.42 86.85 M-384.42 80.85 L-400.42 64.85 M-406.42 58.85 L-422.42 42.85 M-428.42 36.85 L-444.42 20.85 M-450.42 14.85 L-466.42 -1.15 M-472.42 -7.15 L-488.42 -23.15 M-494.42 -29.15 L-510.42 -45.15 M-516.42 -51.15 L-532.42 -67.15 M-538.42 -73.15 L-554.42 -89.15 M-560.42 -95.15 L-576.42 -111.15 M-582.42 -117.15 L-598.42 -133.15 M-604.42 -139.15 L-620.42 -155.15 M-626.42 -161.15 L-642.42 -177.15 M-648.42 -183.15 L-664.42 -199.15 M-670.42 -205.15 L-686.42 -221.15 M-692.42 -227.15 L-708.42 -243.15 M-714.42 -249.15 L-724.42 -259.15 M360.66 737.79 L344.66 721.79 M338.66 715.79 L322.66 699.79 M316.66 693.79 L300.66 677.79 M294.66 671.79 L278.66 655.79 M272.66 649.79 L256.66 633.79 M250.66 627.79 L234.66 611.79 M228.66 605.79 L212.66 589.79 M206.66 583.79 L190.66 567.79 M184.66 561.79 L168.66 545.79 M162.66 539.79 L146.66 523.79 M140.66 517.79 L124.66 501.79 M118.66 495.79 L102.66 479.79 M96.66 473.79 L80.66 457.79 M74.66 451.79 L58.66 435.79 M52.66 429.79 L36.66 413.79 M30.66 407.79 L14.66 391.79 M8.66 385.79 L-7.34 369.79 M-13.34 363.79 L-29.34 347.79 M-35.34 341.79 L-51.34 325.79 M-57.34 319.79 L-73.34 303.79 M-79.34 297.79 L-95.34 281.79 M-101.34 275.79 L-117.34 259.79 M-123.34 253.79 L-139.34 237.79 M-145.34 231.79 L-161.34 215.79 M-167.34 209.79 L-183.34 193.79 M-189.34 187.79 L-205.34 171.79 M-211.34 165.79 L-227.34 149.79 M-233.34 143.79 L-249.34 127.79 M-255.34 121.79 L-271.34 105.79 M-277.34 99.79 L-293.34 83.79 M-299.34 77.79 L-315.34 61.79 M-321.34 55.79 L-337.34 39.79 M-343.34 33.79 L-359.34 17.79 M-365.34 11.79 L-381.34 -4.21 M-387.34 -10.21 L-403.34 -26.21 M-409.34 -32.21 L-425.34 -48.21 M-431.34 -54.21 L-447.34 -70.21 M-453.34 -76.21 L-469.34 -92.21 M-475.34 -98.21 L-491.34 -114.21 M-497.34 -120.21 L-513.34 -136.21 M-519.34 -142.21 L-535.34 -158.21 M-541.34 -164.21 L-557.34 -180.21 M-563.34 -186.21 L-579.34 -202.21 M-585.34 -208.21 L-601.34 -224.21 M-607.34 -230.21 L-623.34 -246.21 M-629.34 -252.21 L-639.34 -262.21 M444.1 736.36 L428.1 720.36 M422.1 714.36 L406.1 698.36 M400.1 692.36 L384.1 676.36 M378.1 670.36 L362.1 654.36 M356.1 648.36 L340.1 632.36 M334.1 626.36 L318.1 610.36 M312.1 604.36 L296.1 588.36 M290.1 582.36 L274.1 566.36 M268.1 560.36 L252.1 544.36 M246.1 538.36 L230.1 522.36 M224.1 516.36 L208.1 500.36 M202.1 494.36 L186.1 478.36 M180.1 472.36 L164.1 456.36 M158.1 450.36 L142.1 434.36 M136.1 428.36 L120.1 412.36 M114.1 406.36 L98.1 390.36 M92.1 384.36 L76.1 368.36 M70.1 362.36 L54.1 346.36 M48.1 340.36 L32.1 324.36 M26.1 318.36 L10.1 302.36 M4.1 296.36 L-11.9 280.36 M-17.9 274.36 L-33.9 258.36 M-39.9 252.36 L-55.9 236.36 M-61.9 230.36 L-77.9 214.36 M-83.9 208.36 L-99.9 192.36 M-105.9 186.36 L-121.9 170.36 M-127.9 164.36 L-143.9 148.36 M-149.9 142.36 L-165.9 126.36 M-171.9 120.36 L-187.9 104.36 M-193.9 98.36 L-209.9 82.36 M-215.9 76.36 L-231.9 60.36 M-237.9 54.36 L-253.9 38.36 M-259.9 32.36 L-275.9 16.36 M-281.9 10.36 L-297.9 -5.64 M-303.9 -11.64 L-319.9 -27.64 M-325.9 -33.64 L-341.9 -49.64 M-347.9 -55.64 L-363.9 -71.64 M-369.9 -77.64 L-385.9 -93.64 M-391.9 -99.64 L-407.9 -115.64 M-413.9 -121.64 L-429.9 -137.64 M-435.9 -143.64 L-451.9 -159.64 M-457.9 -165.64 L-473.9 -181.64 M-479.9 -187.64 L-495.9 -203.64 M-501.9 -209.64 L-517.9 -225.64 M-523.9 -231.64 L-539.9 -247.64 M-545.9 -253.64 L-555.9 -263.64 M526 736.47 L510 720.47 M504 714.47 L488 698.47 M482 692.47 L466 676.47 M460 670.47 L444 654.47 M438 648.47 L422 632.47 M416 626.47 L400 610.47 M394 604.47 L378 588.47 M372 582.47 L356 566.47 M350 560.47 L334 544.47 M328 538.47 L312 522.47 M306 516.47 L290 500.47 M284 494.47 L268 478.47 M262 472.47 L246 456.47 M240 450.47 L224 434.47 M218 428.47 L202 412.47 M196 406.47 L180 390.47 M174 384.47 L158 368.47 M152 362.47 L136 346.47 M130 340.47 L114 324.47 M108 318.47 L92 302.47 M86 296.47 L70 280.47 M64 274.47 L48 258.47 M42 252.47 L26 236.47 M20 230.47 L4 214.47 M-2 208.47 L-18 192.47 M-24 186.47 L-40 170.47 M-46 164.47 L-62 148.47 M-68 142.47 L-84 126.47 M-90 120.47 L-106 104.47 M-112 98.47 L-128 82.47 M-134 76.47 L-150 60.47 M-156 54.47 L-172 38.47 M-178 32.47 L-194 16.47 M-200 10.47 L-216 -5.53 M-222 -11.53 L-238 -27.53 M-244 -33.53 L-260 -49.53 M-266 -55.53 L-282 -71.53 M-288 -77.53 L-304 -93.53 M-310 -99.53 L-326 -115.53 M-332 -121.53 L-348 -137.53 M-354 -143.53 L-370 -159.53 M-376 -165.53 L-392 -181.53 M-398 -187.53 L-414 -203.53 M-420 -209.53 L-436 -225.53 M-442 -231.53 L-458 -247.53 M-464 -253.53 L-474 -263.53 M606.49 737.99 L590.49 721.99 M584.49 715.99 L568.49 699.99 M562.49 693.99 L546.49 677.99 M540.49 671.99 L524.49 655.99 M518.49 649.99 L502.49 633.99 M496.49 627.99 L480.49 611.99 M474.49 605.99 L458.49 589.99 M452.49 583.99 L436.49 567.99 M430.49 561.99 L414.49 545.99 M408.49 539.99 L392.49 523.99 M386.49 517.99 L370.49 501.99 M364.49 495.99 L348.49 479.99 M342.49 473.99 L326.49 457.99 M320.49 451.99 L304.49 435.99 M298.49 429.99 L282.49 413.99 M276.49 407.99 L260.49 391.99 M254.49 385.99 L238.49 369.99 M232.49 363.99 L216.49 347.99 M210.49 341.99 L194.49 325.99 M188.49 319.99 L172.49 303.99 M166.49 297.99 L150.49 281.99 M144.49 275.99 L128.49 259.99 M122.49 253.99 L106.49 237.99 M100.49 231.99 L84.49 215.99 M78.49 209.99 L62.49 193.99 M56.49 187.99 L40.49 171.99 M34.49 165.99 L18.49 149.99 M12.49 143.99 L-3.51 127.99 M-9.51 121.99 L-25.51 105.99 M-31.51 99.99 L-47.51 83.99 M-53.51 77.99 L-69.51 61.99 M-75.51 55.99 L-91.51 39.99 M-97.51 33.99 L-113.51 17.99 M-119.51 11.99 L-135.51 -4.01 M-141.51 -10.01 L-157.51 -26.01 M-163.51 -32.01 L-179.51 -48.01 M-185.51 -54.01 L-201.51 -70.01 M-207.51 -76.01 L-223.51 -92.01 M-229.51 -98.01 L-245.51 -114.01 M-251.51 -120.01 L-267.51 -136.01 M-273.51 -142.01 L-289.51 -158.01 M-295.51 -164.01 L-311.51 -180.01 M-317.51 -186.01 L-333.51 -202.01 M-339.51 -208.01 L-355.51 -224.01 M-361.51 -230.01 L-377.51 -246.01 M-383.51 -252.01 L-393.51 -262.01 M685.66 740.84 L669.66 724.84 M663.66 718.84 L647.66 702.84 M641.66 696.84 L625.66 680.84 M619.66 674.84 L603.66 658.84 M597.66 652.84 L581.66 636.84 M575.66 630.84 L559.66 614.84 M553.66 608.84 L537.66 592.84 M531.66 586.84 L515.66 570.84 M509.66 564.84 L493.66 548.84 M487.66 542.84 L471.66 526.84 M465.66 520.84 L449.66 504.84 M443.66 498.84 L427.66 482.84 M421.66 476.84 L405.66 460.84 M399.66 454.84 L383.66 438.84 M377.66 432.84 L361.66 416.84 M355.66 410.84 L339.66 394.84 M333.66 388.84 L317.66 372.84 M311.66 366.84 L295.66 350.84 M289.66 344.84 L273.66 328.84 M267.66 322.84 L251.66 306.84 M245.66 300.84 L229.66 284.84 M223.66 278.84 L207.66 262.84 M201.66 256.84 L185.66 240.84 M179.66 234.84 L163.66 218.84 M157.66 212.84 L141.66 196.84 M135.66 190.84 L119.66 174.84 M113.66 168.84 L97.66 152.84 M91.66 146.84 L75.66 130.84 M69.66 124.84 L53.66 108.84 M47.66 102.84 L31.66 86.84 M25.66 80.84 L9.66 64.84 M3.66 58.84 L-12.34 42.84 M-18.34 36.84 L-34.34 20.84 M-40.34 14.84 L-56.34 -1.16 M-62.34 -7.16 L-78.34 -23.16 M-84.34 -29.16 L-100.34 -45.16 M-106.34 -51.16 L-122.34 -67.16 M-128.34 -73.16 L-144.34 -89.16 M-150.34 -95.16 L-166.34 -111.16 M-172.34 -117.16 L-188.34 -133.16 M-194.34 -139.16 L-210.34 -155.16 M-216.34 -161.16 L-232.34 -177.16 M-238.34 -183.16 L-254.34 -199.16 M-260.34 -205.16 L-276.34 -221.16 M-282.34 -227.16 L-298.34 -243.16 M-304.34 -249.16 L-314.34 -259.16 M763.58 744.93 L747.58 728.93 M741.58 722.93 L725.58 706.93 M719.58 700.93 L703.58 684.93 M697.58 678.93 L681.58 662.93 M675.58 656.93 L659.58 640.93 M653.58 634.93 L637.58 618.93 M631.58 612.93 L615.58 596.93 M609.58 590.93 L593.58 574.93 M587.58 568.93 L571.58 552.93 M565.58 546.93 L549.58 530.93 M543.58 524.93 L527.58 508.93 M521.58 502.93 L505.58 486.93 M499.58 480.93 L483.58 464.93 M477.58 458.93 L461.58 442.93 M455.58 436.93 L439.58 420.93 M433.58 414.93 L417.58 398.93 M411.58 392.93 L395.58 376.93 M389.58 370.93 L373.58 354.93 M367.58 348.93 L351.58 332.93 M345.58 326.93 L329.58 310.93 M323.58 304.93 L307.58 288.93 M301.58 282.93 L285.58 266.93 M279.58 260.93 L263.58 244.93 M257.58 238.93 L241.58 222.93 M235.58 216.93 L219.58 200.93 M213.58 194.93 L197.58 178.93 M191.58 172.93 L175.58 156.93 M169.58 150.93 L153.58 134.93 M147.58 128.93 L131.58 112.93 M125.58 106.93 L109.58 90.93 M103.58 84.93 L87.58 68.93 M81.58 62.93 L65.58 46.93 M59.58 40.93 L43.58 24.93 M37.58 18.93 L21.58 2.93 M15.58 -3.07 L-0.42 -19.07 M-6.42 -25.07 L-22.42 -41.07 M-28.42 -47.07 L-44.42 -63.07 M-50.42 -69.07 L-66.42 -85.07 M-72.42 -91.07 L-88.42 -107.07 M-94.42 -113.07 L-110.42 -129.07 M-116.42 -135.07 L-132.42 -151.07 M-138.42 -157.07 L-154.42 -173.07 M-160.42 -179.07 L-176.42 -195.07 M-182.42 -201.07 L-198.42 -217.07 M-204.42 -223.07 L-220.42 -239.07 M-226.42 -245.07 L-236.42 -255.07 M840.35 750.17 L824.35 734.17 M818.35 728.17 L802.35 712.17 M796.35 706.17 L780.35 690.17 M774.35 684.17 L758.35 668.17 M752.35 662.17 L736.35 646.17 M730.35 640.17 L714.35 624.17 M708.35 618.17 L692.35 602.17 M686.35 596.17 L670.35 580.17 M664.35 574.17 L648.35 558.17 M642.35 552.17 L626.35 536.17 M620.35 530.17 L604.35 514.17 M598.35 508.17 L582.35 492.17 M576.35 486.17 L560.35 470.17 M554.35 464.17 L538.35 448.17 M532.35 442.17 L516.35 426.17 M510.35 420.17 L494.35 404.17 M488.35 398.17 L472.35 382.17 M466.35 376.17 L450.35 360.17 M444.35 354.17 L428.35 338.17 M422.35 332.17 L406.35 316.17 M400.35 310.17 L384.35 294.17 M378.35 288.17 L362.35 272.17 M356.35 266.17 L340.35 250.17 M334.35 244.17 L318.35 228.17 M312.35 222.17 L296.35 206.17 M290.35 200.17 L274.35 184.17 M268.35 178.17 L252.35 162.17 M246.35 156.17 L230.35 140.17 M224.35 134.17 L208.35 118.17 M202.35 112.17 L186.35 96.17 M180.35 90.17 L164.35 74.17 M158.35 68.17 L142.35 52.17 M136.35 46.17 L120.35 30.17 M114.35 24.17 L98.35 8.17 M92.35 2.17 L76.35 -13.83 M70.35 -19.83 L54.35 -35.83 M48.35 -41.83 L32.35 -57.83 M26.35 -63.83 L10.35 -79.83 M4.35 -85.83 L-11.65 -101.83 M-17.65 -107.83 L-33.65 -123.83 M-39.65 -129.83 L-55.65 -145.83 M-61.65 -151.83 L-77.65 -167.83 M-83.65 -173.83 L-99.65 -189.83 M-105.65 -195.83 L-121.65 -211.83 M-127.65 -217.83 L-143.65 -233.83 M-149.65 -239.83 L-159.65 -249.83 M904.9 745.39 L888.9 729.39 M882.9 723.39 L866.9 707.39 M860.9 701.39 L844.9 685.39 M838.9 679.39 L822.9 663.39 M816.9 657.39 L800.9 641.39 M794.9 635.39 L778.9 619.39 M772.9 613.39 L756.9 597.39 M750.9 591.39 L734.9 575.39 M728.9 569.39 L712.9 553.39 M706.9 547.39 L690.9 531.39 M684.9 525.39 L668.9 509.39 M662.9 503.39 L646.9 487.39 M640.9 481.39 L624.9 465.39 M618.9 459.39 L602.9 443.39 M596.9 437.39 L580.9 421.39 M574.9 415.39 L558.9 399.39 M552.9 393.39 L536.9 377.39 M530.9 371.39 L514.9 355.39 M508.9 349.39 L492.9 333.39 M486.9 327.39 L470.9 311.39 M464.9 305.39 L448.9 289.39 M442.9 283.39 L426.9 267.39 M420.9 261.39 L404.9 245.39 M398.9 239.39 L382.9 223.39 M376.9 217.39 L360.9 201.39 M354.9 195.39 L338.9 179.39 M332.9 173.39 L316.9 157.39 M310.9 151.39 L294.9 135.39 M288.9 129.39 L272.9 113.39 M266.9 107.39 L250.9 91.39 M244.9 85.39 L228.9 69.39 M222.9 63.39 L206.9 47.39 M200.9 41.39 L184.9 25.39 M178.9 19.39 L162.9 3.39 M156.9 -2.61 L140.9 -18.61 M134.9 -24.61 L118.9 -40.61 M112.9 -46.61 L96.9 -62.61 M90.9 -68.61 L74.9 -84.61 M68.9 -90.61 L52.9 -106.61 M46.9 -112.61 L30.9 -128.61 M24.9 -134.61 L8.9 -150.61 M2.9 -156.61 L-13.1 -172.61 M-19.1 -178.61 L-35.1 -194.61 M-41.1 -200.61 L-57.1 -216.61 M-63.1 -222.61 L-79.1 -238.61 M-85.1 -244.61 L-95.1 -254.61 M904.9 678.1 L888.9 662.1 M882.9 656.1 L866.9 640.1 M860.9 634.1 L844.9 618.1 M838.9 612.1 L822.9 596.1 M816.9 590.1 L800.9 574.1 M794.9 568.1 L778.9 552.1 M772.9 546.1 L756.9 530.1 M750.9 524.1 L734.9 508.1 M728.9 502.1 L712.9 486.1 M706.9 480.1 L690.9 464.1 M684.9 458.1 L668.9 442.1 M662.9 436.1 L646.9 420.1 M640.9 414.1 L624.9 398.1 M618.9 392.1 L602.9 376.1 M596.9 370.1 L580.9 354.1 M574.9 348.1 L558.9 332.1 M552.9 326.1 L536.9 310.1 M530.9 304.1 L514.9 288.1 M508.9 282.1 L492.9 266.1 M486.9 260.1 L470.9 244.1 M464.9 238.1 L448.9 222.1 M442.9 216.1 L426.9 200.1 M420.9 194.1 L404.9 178.1 M398.9 172.1 L382.9 156.1 M376.9 150.1 L360.9 134.1 M354.9 128.1 L338.9 112.1 M332.9 106.1 L316.9 90.1 M310.9 84.1 L294.9 68.1 M288.9 62.1 L272.9 46.1 M266.9 40.1 L250.9 24.1 M244.9 18.1 L228.9 2.1 M222.9 -3.9 L206.9 -19.9 M200.9 -25.9 L184.9 -41.9 M178.9 -47.9 L162.9 -63.9 M156.9 -69.9 L140.9 -85.9 M134.9 -91.9 L118.9 -107.9 M112.9 -113.9 L96.9 -129.9 M90.9 -135.9 L74.9 -151.9 M68.9 -157.9 L52.9 -173.9 M46.9 -179.9 L30.9 -195.9 M24.9 -201.9 L8.9 -217.9 M2.9 -223.9 L-13.1 -239.9 M-19.1 -245.9 L-35.1 -261.9 M-41.1 -267.9 L-57.1 -283.9 M-63.1 -289.9 L-79.1 -305.9 M-85.1 -311.9 L-95.1 -321.9 M904.9 612.75 L888.9 596.75 M882.9 590.75 L866.9 574.75 M860.9 568.75 L844.9 552.75 M838.9 546.75 L822.9 530.75 M816.9 524.75 L800.9 508.75 M794.9 502.75 L778.9 486.75 M772.9 480.75 L756.9 464.75 M750.9 458.75 L734.9 442.75 M728.9 436.75 L712.9 420.75 M706.9 414.75 L690.9 398.75 M684.9 392.75 L668.9 376.75 M662.9 370.75 L646.9 354.75 M640.9 348.75 L624.9 332.75 M618.9 326.75 L602.9 310.75 M596.9 304.75 L580.9 288.75 M574.9 282.75 L558.9 266.75 M552.9 260.75 L536.9 244.75 M530.9 238.75 L514.9 222.75 M508.9 216.75 L492.9 200.75 M486.9 194.75 L470.9 178.75 M464.9 172.75 L448.9 156.75 M442.9 150.75 L426.9 134.75 M420.9 128.75 L404.9 112.75 M398.9 106.75 L382.9 90.75 M376.9 84.75 L360.9 68.75 M354.9 62.75 L338.9 46.75 M332.9 40.75 L316.9 24.75 M310.9 18.75 L294.9 2.75 M288.9 -3.25 L272.9 -19.25 M266.9 -25.25 L250.9 -41.25 M244.9 -47.25 L228.9 -63.25 M222.9 -69.25 L206.9 -85.25 M200.9 -91.25 L184.9 -107.25 M178.9 -113.25 L162.9 -129.25 M156.9 -135.25 L140.9 -151.25 M134.9 -157.25 L118.9 -173.25 M112.9 -179.25 L96.9 -195.25 M90.9 -201.25 L74.9 -217.25 M68.9 -223.25 L52.9 -239.25 M46.9 -245.25 L30.9 -261.25 M24.9 -267.25 L8.9 -283.25 M2.9 -289.25 L-13.1 -305.25 M-19.1 -311.25 L-35.1 -327.25 M-41.1 -333.25 L-57.1 -349.25 M-63.1 -355.25 L-79.1 -371.25 M-85.1 -377.25 L-95.1 -387.25 M904.9 549.22 L888.9 533.22 M882.9 527.22 L866.9 511.22 M860.9 505.22 L844.9 489.22 M838.9 483.22 L822.9 467.22 M816.9 461.22 L800.9 445.22 M794.9 439.22 L778.9 423.22 M772.9 417.22 L756.9 401.22 M750.9 395.22 L734.9 379.22 M728.9 373.22 L712.9 357.22 M706.9 351.22 L690.9 335.22 M684.9 329.22 L668.9 313.22 M662.9 307.22 L646.9 291.22 M640.9 285.22 L624.9 269.22 M618.9 263.22 L602.9 247.22 M596.9 241.22 L580.9 225.22 M574.9 219.22 L558.9 203.22 M552.9 197.22 L536.9 181.22 M530.9 175.22 L514.9 159.22 M508.9 153.22 L492.9 137.22 M486.9 131.22 L470.9 115.22 M464.9 109.22 L448.9 93.22 M442.9 87.22 L426.9 71.22 M420.9 65.22 L404.9 49.22 M398.9 43.22 L382.9 27.22 M376.9 21.22 L360.9 5.22 M354.9 -0.78 L338.9 -16.78 M332.9 -22.78 L316.9 -38.78 M310.9 -44.78 L294.9 -60.78 M288.9 -66.78 L272.9 -82.78 M266.9 -88.78 L250.9 -104.78 M244.9 -110.78 L228.9 -126.78 M222.9 -132.78 L206.9 -148.78 M200.9 -154.78 L184.9 -170.78 M178.9 -176.78 L162.9 -192.78 M156.9 -198.78 L140.9 -214.78 M134.9 -220.78 L118.9 -236.78 M112.9 -242.78 L96.9 -258.78 M90.9 -264.78 L74.9 -280.78 M68.9 -286.78 L52.9 -302.78 M46.9 -308.78 L30.9 -324.78 M24.9 -330.78 L8.9 -346.78 M2.9 -352.78 L-13.1 -368.78 M-19.1 -374.78 L-35.1 -390.78 M-41.1 -396.78 L-57.1 -412.78 M-63.1 -418.78 L-79.1 -434.78 M-85.1 -440.78 L-95.1 -450.78 M904.9 487.42 L888.9 471.42 M882.9 465.42 L866.9 449.42 M860.9 443.42 L844.9 427.42 M838.9 421.42 L822.9 405.42 M816.9 399.42 L800.9 383.42 M794.9 377.42 L778.9 361.42 M772.9 355.42 L756.9 339.42 M750.9 333.42 L734.9 317.42 M728.9 311.42 L712.9 295.42 M706.9 289.42 L690.9 273.42 M684.9 267.42 L668.9 251.42 M662.9 245.42 L646.9 229.42 M640.9 223.42 L624.9 207.42 M618.9 201.42 L602.9 185.42 M596.9 179.42 L580.9 163.42 M574.9 157.42 L558.9 141.42 M552.9 135.42 L536.9 119.42 M530.9 113.42 L514.9 97.42 M508.9 91.42 L492.9 75.42 M486.9 69.42 L470.9 53.42 M464.9 47.42 L448.9 31.42 M442.9 25.42 L426.9 9.42 M420.9 3.42 L404.9 -12.58 M398.9 -18.58 L382.9 -34.58 M376.9 -40.58 L360.9 -56.58 M354.9 -62.58 L338.9 -78.58 M332.9 -84.58 L316.9 -100.58 M310.9 -106.58 L294.9 -122.58 M288.9 -128.58 L272.9 -144.58 M266.9 -150.58 L250.9 -166.58 M244.9 -172.58 L228.9 -188.58 M222.9 -194.58 L206.9 -210.58 M200.9 -216.58 L184.9 -232.58 M178.9 -238.58 L162.9 -254.58 M156.9 -260.58 L140.9 -276.58 M134.9 -282.58 L118.9 -298.58 M112.9 -304.58 L96.9 -320.58 M90.9 -326.58 L74.9 -342.58 M68.9 -348.58 L52.9 -364.58 M46.9 -370.58 L30.9 -386.58 M24.9 -392.58 L8.9 -408.58 M2.9 -414.58 L-13.1 -430.58 M-19.1 -436.58 L-35.1 -452.58 M-41.1 -458.58 L-57.1 -474.58 M-63.1 -480.58 L-79.1 -496.58 M-85.1 -502.58 L-95.1 -512.58 M904.9 427.25 L888.9 411.25 M882.9 405.25 L866.9 389.25 M860.9 383.25 L844.9 367.25 M838.9 361.25 L822.9 345.25 M816.9 339.25 L800.9 323.25 M794.9 317.25 L778.9 301.25 M772.9 295.25 L756.9 279.25 M750.9 273.25 L734.9 257.25 M728.9 251.25 L712.9 235.25 M706.9 229.25 L690.9 213.25 M684.9 207.25 L668.9 191.25 M662.9 185.25 L646.9 169.25 M640.9 163.25 L624.9 147.25 M618.9 141.25 L602.9 125.25 M596.9 119.25 L580.9 103.25 M574.9 97.25 L558.9 81.25 M552.9 75.25 L536.9 59.25 M530.9 53.25 L514.9 37.25 M508.9 31.25 L492.9 15.25 M486.9 9.25 L470.9 -6.75 M464.9 -12.75 L448.9 -28.75 M442.9 -34.75 L426.9 -50.75 M420.9 -56.75 L404.9 -72.75 M398.9 -78.75 L382.9 -94.75 M376.9 -100.75 L360.9 -116.75 M354.9 -122.75 L338.9 -138.75 M332.9 -144.75 L316.9 -160.75 M310.9 -166.75 L294.9 -182.75 M288.9 -188.75 L272.9 -204.75 M266.9 -210.75 L250.9 -226.75 M244.9 -232.75 L228.9 -248.75 M222.9 -254.75 L206.9 -270.75 M200.9 -276.75 L184.9 -292.75 M178.9 -298.75 L162.9 -314.75 M156.9 -320.75 L140.9 -336.75 M134.9 -342.75 L118.9 -358.75 M112.9 -364.75 L96.9 -380.75 M90.9 -386.75 L74.9 -402.75 M68.9 -408.75 L52.9 -424.75 M46.9 -430.75 L30.9 -446.75 M24.9 -452.75 L8.9 -468.75 M2.9 -474.75 L-13.1 -490.75 M-19.1 -496.75 L-35.1 -512.75 M-41.1 -518.75 L-57.1 -534.75 M-63.1 -540.75 L-79.1 -556.75 M-85.1 -562.75 L-95.1 -572.75 M904.9 368.63 L888.9 352.63 M882.9 346.63 L866.9 330.63 M860.9 324.63 L844.9 308.63 M838.9 302.63 L822.9 286.63 M816.9 280.63 L800.9 264.63 M794.9 258.63 L778.9 242.63 M772.9 236.63 L756.9 220.63 M750.9 214.63 L734.9 198.63 M728.9 192.63 L712.9 176.63 M706.9 170.63 L690.9 154.63 M684.9 148.63 L668.9 132.63 M662.9 126.63 L646.9 110.63 M640.9 104.63 L624.9 88.63 M618.9 82.63 L602.9 66.63 M596.9 60.63 L580.9 44.63 M574.9 38.63 L558.9 22.63 M552.9 16.63 L536.9 0.63 M530.9 -5.37 L514.9 -21.37 M508.9 -27.37 L492.9 -43.37 M486.9 -49.37 L470.9 -65.37 M464.9 -71.37 L448.9 -87.37 M442.9 -93.37 L426.9 -109.37 M420.9 -115.37 L404.9 -131.37 M398.9 -137.37 L382.9 -153.37 M376.9 -159.37 L360.9 -175.37 M354.9 -181.37 L338.9 -197.37 M332.9 -203.37 L316.9 -219.37 M310.9 -225.37 L294.9 -241.37 M288.9 -247.37 L272.9 -263.37 M266.9 -269.37 L250.9 -285.37 M244.9 -291.37 L228.9 -307.37 M222.9 -313.37 L206.9 -329.37 M200.9 -335.37 L184.9 -351.37 M178.9 -357.37 L162.9 -373.37 M156.9 -379.37 L140.9 -395.37 M134.9 -401.37 L118.9 -417.37 M112.9 -423.37 L96.9 -439.37 M90.9 -445.37 L74.9 -461.37 M68.9 -467.37 L52.9 -483.37 M46.9 -489.37 L30.9 -505.37 M24.9 -511.37 L8.9 -527.37 M2.9 -533.37 L-13.1 -549.37 M-19.1 -555.37 L-35.1 -571.37 M-41.1 -577.37 L-57.1 -593.37 M-63.1 -599.37 L-79.1 -615.37 M-85.1 -621.37 L-95.1 -631.37 M904.9 311.48 L888.9 295.48 M882.9 289.48 L866.9 273.48 M860.9 267.48 L844.9 251.48 M838.9 245.48 L822.9 229.48 M816.9 223.48 L800.9 207.48 M794.9 201.48 L778.9 185.48 M772.9 179.48 L756.9 163.48 M750.9 157.48 L734.9 141.48 M728.9 135.48 L712.9 119.48 M706.9 113.48 L690.9 97.48 M684.9 91.48 L668.9 75.48 M662.9 69.48 L646.9 53.48 M640.9 47.48 L624.9 31.48 M618.9 25.48 L602.9 9.48 M596.9 3.48 L580.9 -12.52 M574.9 -18.52 L558.9 -34.52 M552.9 -40.52 L536.9 -56.52 M530.9 -62.52 L514.9 -78.52 M508.9 -84.52 L492.9 -100.52 M486.9 -106.52 L470.9 -122.52 M464.9 -128.52 L448.9 -144.52 M442.9 -150.52 L426.9 -166.52 M420.9 -172.52 L404.9 -188.52 M398.9 -194.52 L382.9 -210.52 M376.9 -216.52 L360.9 -232.52 M354.9 -238.52 L338.9 -254.52 M332.9 -260.52 L316.9 -276.52 M310.9 -282.52 L294.9 -298.52 M288.9 -304.52 L272.9 -320.52 M266.9 -326.52 L250.9 -342.52 M244.9 -348.52 L228.9 -364.52 M222.9 -370.52 L206.9 -386.52 M200.9 -392.52 L184.9 -408.52 M178.9 -414.52 L162.9 -430.52 M156.9 -436.52 L140.9 -452.52 M134.9 -458.52 L118.9 -474.52 M112.9 -480.52 L96.9 -496.52 M90.9 -502.52 L74.9 -518.52 M68.9 -524.52 L52.9 -540.52 M46.9 -546.52 L30.9 -562.52 M24.9 -568.52 L8.9 -584.52 M2.9 -590.52 L-13.1 -606.52 M-19.1 -612.52 L-35.1 -628.52 M-41.1 -634.52 L-57.1 -650.52 M-63.1 -656.52 L-79.1 -672.52 M-85.1 -678.52 L-95.1 -688.52 M904.9 255.74 L888.9 239.74 M882.9 233.74 L866.9 217.74 M860.9 211.74 L844.9 195.74 M838.9 189.74 L822.9 173.74 M816.9 167.74 L800.9 151.74 M794.9 145.74 L778.9 129.74 M772.9 123.74 L756.9 107.74 M750.9 101.74 L734.9 85.74 M728.9 79.74 L712.9 63.74 M706.9 57.74 L690.9 41.74 M684.9 35.74 L668.9 19.74 M662.9 13.74 L646.9 -2.26 M640.9 -8.26 L624.9 -24.26 M618.9 -30.26 L602.9 -46.26 M596.9 -52.26 L580.9 -68.26 M574.9 -74.26 L558.9 -90.26 M552.9 -96.26 L536.9 -112.26 M530.9 -118.26 L514.9 -134.26 M508.9 -140.26 L492.9 -156.26 M486.9 -162.26 L470.9 -178.26 M464.9 -184.26 L448.9 -200.26 M442.9 -206.26 L426.9 -222.26 M420.9 -228.26 L404.9 -244.26 M398.9 -250.26 L382.9 -266.26 M376.9 -272.26 L360.9 -288.26 M354.9 -294.26 L338.9 -310.26 M332.9 -316.26 L316.9 -332.26 M310.9 -338.26 L294.9 -354.26 M288.9 -360.26 L272.9 -376.26 M266.9 -382.26 L250.9 -398.26 M244.9 -404.26 L228.9 -420.26 M222.9 -426.26 L206.9 -442.26 M200.9 -448.26 L184.9 -464.26 M178.9 -470.26 L162.9 -486.26 M156.9 -492.26 L140.9 -508.26 M134.9 -514.26 L118.9 -530.26 M112.9 -536.26 L96.9 -552.26 M90.9 -558.26 L74.9 -574.26 M68.9 -580.26 L52.9 -596.26 M46.9 -602.26 L30.9 -618.26 M24.9 -624.26 L8.9 -640.26 M2.9 -646.26 L-13.1 -662.26 M-19.1 -668.26 L-35.1 -684.26 M-41.1 -690.26 L-57.1 -706.26 M-63.1 -712.26 L-79.1 -728.26 M-85.1 -734.26 L-95.1 -744.26 M904.9 201.32 L888.9 185.32 M882.9 179.32 L866.9 163.32 M860.9 157.32 L844.9 141.32 M838.9 135.32 L822.9 119.32 M816.9 113.32 L800.9 97.32 M794.9 91.32 L778.9 75.32 M772.9 69.32 L756.9 53.32 M750.9 47.32 L734.9 31.32 M728.9 25.32 L712.9 9.32 M706.9 3.32 L690.9 -12.68 M684.9 -18.68 L668.9 -34.68 M662.9 -40.68 L646.9 -56.68 M640.9 -62.68 L624.9 -78.68 M618.9 -84.68 L602.9 -100.68 M596.9 -106.68 L580.9 -122.68 M574.9 -128.68 L558.9 -144.68 M552.9 -150.68 L536.9 -166.68 M530.9 -172.68 L514.9 -188.68 M508.9 -194.68 L492.9 -210.68 M486.9 -216.68 L470.9 -232.68 M464.9 -238.68 L448.9 -254.68 M442.9 -260.68 L426.9 -276.68 M420.9 -282.68 L404.9 -298.68 M398.9 -304.68 L382.9 -320.68 M376.9 -326.68 L360.9 -342.68 M354.9 -348.68 L338.9 -364.68 M332.9 -370.68 L316.9 -386.68 M310.9 -392.68 L294.9 -408.68 M288.9 -414.68 L272.9 -430.68 M266.9 -436.68 L250.9 -452.68 M244.9 -458.68 L228.9 -474.68 M222.9 -480.68 L206.9 -496.68 M200.9 -502.68 L184.9 -518.68 M178.9 -524.68 L162.9 -540.68 M156.9 -546.68 L140.9 -562.68 M134.9 -568.68 L118.9 -584.68 M112.9 -590.68 L96.9 -606.68 M90.9 -612.68 L74.9 -628.68 M68.9 -634.68 L52.9 -650.68 M46.9 -656.68 L30.9 -672.68 M24.9 -678.68 L8.9 -694.68 M2.9 -700.68 L-13.1 -716.68 M-19.1 -722.68 L-35.1 -738.68 M-41.1 -744.68 L-57.1 -760.68 M-63.1 -766.68 L-79.1 -782.68 M-85.1 -788.68 L-95.1 -798.68 M904.9 148.18 L888.9 132.18 M882.9 126.18 L866.9 110.18 M860.9 104.18 L844.9 88.18 M838.9 82.18 L822.9 66.18 M816.9 60.18 L800.9 44.18 M794.9 38.18 L778.9 22.18 M772.9 16.18 L756.9 0.18 M750.9 -5.82 L734.9 -21.82 M728.9 -27.82 L712.9 -43.82 M706.9 -49.82 L690.9 -65.82 M684.9 -71.82 L668.9 -87.82 M662.9 -93.82 L646.9 -109.82 M640.9 -115.82 L624.9 -131.82 M618.9 -137.82 L602.9 -153.82 M596.9 -159.82 L580.9 -175.82 M574.9 -181.82 L558.9 -197.82 M552.9 -203.82 L536.9 -219.82 M530.9 -225.82 L514.9 -241.82 M508.9 -247.82 L492.9 -263.82 M486.9 -269.82 L470.9 -285.82 M464.9 -291.82 L448.9 -307.82 M442.9 -313.82 L426.9 -329.82 M420.9 -335.82 L404.9 -351.82 M398.9 -357.82 L382.9 -373.82 M376.9 -379.82 L360.9 -395.82 M354.9 -401.82 L338.9 -417.82 M332.9 -423.82 L316.9 -439.82 M310.9 -445.82 L294.9 -461.82 M288.9 -467.82 L272.9 -483.82 M266.9 -489.82 L250.9 -505.82 M244.9 -511.82 L228.9 -527.82 M222.9 -533.82 L206.9 -549.82 M200.9 -555.82 L184.9 -571.82 M178.9 -577.82 L162.9 -593.82 M156.9 -599.82 L140.9 -615.82 M134.9 -621.82 L118.9 -637.82 M112.9 -643.82 L96.9 -659.82 M90.9 -665.82 L74.9 -681.82 M68.9 -687.82 L52.9 -703.82 M46.9 -709.82 L30.9 -725.82 M24.9 -731.82 L8.9 -747.82 M2.9 -753.82 L-13.1 -769.82 M-19.1 -775.82 L-35.1 -791.82 M-41.1 -797.82 L-57.1 -813.82 M-63.1 -819.82 L-79.1 -835.82 M-85.1 -841.82 L-95.1 -851.82 M904.9 96.26 L888.9 80.26 M882.9 74.26 L866.9 58.26 M860.9 52.26 L844.9 36.26 M838.9 30.26 L822.9 14.26 M816.9 8.26 L800.9 -7.74 M794.9 -13.74 L778.9 -29.74 M772.9 -35.74 L756.9 -51.74 M750.9 -57.74 L734.9 -73.74 M728.9 -79.74 L712.9 -95.74 M706.9 -101.74 L690.9 -117.74 M684.9 -123.74 L668.9 -139.74 M662.9 -145.74 L646.9 -161.74 M640.9 -167.74 L624.9 -183.74 M618.9 -189.74 L602.9 -205.74 M596.9 -211.74 L580.9 -227.74 M574.9 -233.74 L558.9 -249.74 M552.9 -255.74 L536.9 -271.74 M530.9 -277.74 L514.9 -293.74 M508.9 -299.74 L492.9 -315.74 M486.9 -321.74 L470.9 -337.74 M464.9 -343.74 L448.9 -359.74 M442.9 -365.74 L426.9 -381.74 M420.9 -387.74 L404.9 -403.74 M398.9 -409.74 L382.9 -425.74 M376.9 -431.74 L360.9 -447.74 M354.9 -453.74 L338.9 -469.74 M332.9 -475.74 L316.9 -491.74 M310.9 -497.74 L294.9 -513.74 M288.9 -519.74 L272.9 -535.74 M266.9 -541.74 L250.9 -557.74 M244.9 -563.74 L228.9 -579.74 M222.9 -585.74 L206.9 -601.74 M200.9 -607.74 L184.9 -623.74 M178.9 -629.74 L162.9 -645.74 M156.9 -651.74 L140.9 -667.74 M134.9 -673.74 L118.9 -689.74 M112.9 -695.74 L96.9 -711.74 M90.9 -717.74 L74.9 -733.74 M68.9 -739.74 L52.9 -755.74 M46.9 -761.74 L30.9 -777.74 M24.9 -783.74 L8.9 -799.74 M2.9 -805.74 L-13.1 -821.74 M-19.1 -827.74 L-35.1 -843.74 M-41.1 -849.74 L-57.1 -865.74 M-63.1 -871.74 L-79.1 -887.74 M-85.1 -893.74 L-95.1 -903.74 M904.9 45.49 L888.9 29.49 M882.9 23.49 L866.9 7.49 M860.9 1.49 L844.9 -14.51 M838.9 -20.51 L822.9 -36.51 M816.9 -42.51 L800.9 -58.51 M794.9 -64.51 L778.9 -80.51 M772.9 -86.51 L756.9 -102.51 M750.9 -108.51 L734.9 -124.51 M728.9 -130.51 L712.9 -146.51 M706.9 -152.51 L690.9 -168.51 M684.9 -174.51 L668.9 -190.51 M662.9 -196.51 L646.9 -212.51 M640.9 -218.51 L624.9 -234.51 M618.9 -240.51 L602.9 -256.51 M596.9 -262.51 L580.9 -278.51 M574.9 -284.51 L558.9 -300.51 M552.9 -306.51 L536.9 -322.51 M530.9 -328.51 L514.9 -344.51 M508.9 -350.51 L492.9 -366.51 M486.9 -372.51 L470.9 -388.51 M464.9 -394.51 L448.9 -410.51 M442.9 -416.51 L426.9 -432.51 M420.9 -438.51 L404.9 -454.51 M398.9 -460.51 L382.9 -476.51 M376.9 -482.51 L360.9 -498.51 M354.9 -504.51 L338.9 -520.51 M332.9 -526.51 L316.9 -542.51 M310.9 -548.51 L294.9 -564.51 M288.9 -570.51 L272.9 -586.51 M266.9 -592.51 L250.9 -608.51 M244.9 -614.51 L228.9 -630.51 M222.9 -636.51 L206.9 -652.51 M200.9 -658.51 L184.9 -674.51 M178.9 -680.51 L162.9 -696.51 M156.9 -702.51 L140.9 -718.51 M134.9 -724.51 L118.9 -740.51 M112.9 -746.51 L96.9 -762.51 M90.9 -768.51 L74.9 -784.51 M68.9 -790.51 L52.9 -806.51 M46.9 -812.51 L30.9 -828.51 M24.9 -834.51 L8.9 -850.51 M2.9 -856.51 L-13.1 -872.51 M-19.1 -878.51 L-35.1 -894.51 M-41.1 -900.51 L-57.1 -916.51 M-63.1 -922.51 L-79.1 -938.51 M-85.1 -944.51 L-95.1 -954.51 M904.9 -4.18 L888.9 -20.18 M882.9 -26.18 L866.9 -42.18 M860.9 -48.18 L844.9 -64.18 M838.9 -70.18 L822.9 -86.18 M816.9 -92.18 L800.9 -108.18 M794.9 -114.18 L778.9 -130.18 M772.9 -136.18 L756.9 -152.18 M750.9 -158.18 L734.9 -174.18 M728.9 -180.18 L712.9 -196.18 M706.9 -202.18 L690.9 -218.18 M684.9 -224.18 L668.9 -240.18 M662.9 -246.18 L646.9 -262.18 M640.9 -268.18 L624.9 -284.18 M618.9 -290.18 L602.9 -306.18 M596.9 -312.18 L580.9 -328.18 M574.9 -334.18 L558.9 -350.18 M552.9 -356.18 L536.9 -372.18 M530.9 -378.18 L514.9 -394.18 M508.9 -400.18 L492.9 -416.18 M486.9 -422.18 L470.9 -438.18 M464.9 -444.18 L448.9 -460.18 M442.9 -466.18 L426.9 -482.18 M420.9 -488.18 L404.9 -504.18 M398.9 -510.18 L382.9 -526.18 M376.9 -532.18 L360.9 -548.18 M354.9 -554.18 L338.9 -570.18 M332.9 -576.18 L316.9 -592.18 M310.9 -598.18 L294.9 -614.18 M288.9 -620.18 L272.9 -636.18 M266.9 -642.18 L250.9 -658.18 M244.9 -664.18 L228.9 -680.18 M222.9 -686.18 L206.9 -702.18 M200.9 -708.18 L184.9 -724.18 M178.9 -730.18 L162.9 -746.18 M156.9 -752.18 L140.9 -768.18 M134.9 -774.18 L118.9 -790.18 M112.9 -796.18 L96.9 -812.18 M90.9 -818.18 L74.9 -834.18 M68.9 -840.18 L52.9 -856.18 M46.9 -862.18 L30.9 -878.18 M24.9 -884.18 L8.9 -900.18 M2.9 -906.18 L-13.1 -922.18 M-19.1 -928.18 L-35.1 -944.18 M-41.1 -950.18 L-57.1 -966.18 M-63.1 -972.18 L-79.1 -988.18 M-85.1 -994.18 L-95.1 -1004.18" stroke="#ceb4dc" stroke-width="1" fill="none"/>
<path d="M99.95 752.46 L99.42 751.91 L98.89 751.37 L98.35 750.82 L97.82 750.27 L97.29 749.71 L96.75 749.16 L96.21 748.61 L95.67 748.06 L95.14 747.5 L94.6 746.95 L94.05 746.39 L93.51 745.83 L92.97 745.28 L92.42 744.72 L91.88 744.16 L91.33 743.6 L90.78 743.04 L90.24 742.48 L89.69 741.91 L89.14 741.35 L88.58 740.79 L88.03 740.22 L87.48 739.66 L86.92 739.09 L86.37 738.52 L85.81 737.95 L85.25 737.39 L84.69 736.82 L84.34 736.46 M78.44 730.46 L77.9 729.91 L77.32 729.33 L76.75 728.75 L76.17 728.17 L75.6 727.58 L75.02 727 L74.44 726.41 L73.86 725.82 L73.28 725.24 L72.69 724.65 L72.11 724.06 L71.53 723.47 L70.94 722.88 L70.35 722.29 L69.77 721.69 L69.18 721.1 L68.59 720.51 L68 719.91 L67.4 719.31 L66.81 718.72 L66.21 718.12 L65.62 717.52 L65.02 716.92 L64.42 716.32 L63.82 715.71 L63.22 715.11 L62.62 714.51 L62.58 714.46 M56.6 708.46 L56.54 708.41 L55.93 707.79 L55.31 707.18 L54.69 706.56 L54.08 705.94 L53.46 705.32 L52.84 704.7 L52.21 704.08 L51.59 703.46 L50.97 702.83 L50.34 702.21 L49.71 701.58 L49.09 700.96 L48.46 700.33 L47.83 699.7 L47.19 699.07 L46.56 698.44 L45.93 697.8 L45.29 697.17 L44.66 696.54 L44.02 695.9 L43.38 695.26 L42.74 694.63 L42.1 693.99 L41.45 693.35 L40.81 692.71 L40.6 692.5 M34.6 686.53 L34.3 686.23 L33.64 685.58 L32.98 684.92 L32.32 684.27 L31.66 683.61 L30.99 682.95 L30.33 682.29 L29.66 681.63 L28.99 680.97 L28.32 680.31 L27.65 679.64 L26.98 678.97 L26.31 678.31 L25.63 677.64 L24.96 676.97 L24.28 676.3 L23.6 675.63 L22.92 674.95 L22.24 674.28 L21.56 673.6 L20.87 672.92 L20.19 672.25 L19.5 671.57 L18.81 670.88 L18.6 670.67 M12.6 664.74 L12.55 664.69 L11.84 664 L11.14 663.3 L10.43 662.6 L9.72 661.91 L9.02 661.21 L8.3 660.5 L7.59 659.8 L6.88 659.1 L6.16 658.39 L5.45 657.68 L4.73 656.97 L4.01 656.26 L3.29 655.55 L2.56 654.84 L1.84 654.12 L1.11 653.41 L0.39 652.69 L-0.34 651.97 L-1.08 651.25 L-1.81 650.53 L-2.54 649.81 L-3.28 649.08 L-3.4 648.96 M-9.4 643.05 L-9.97 642.48 L-10.73 641.74 L-11.48 641 L-12.24 640.26 L-12.99 639.51 L-13.75 638.76 L-14.52 638.01 L-15.28 637.26 L-16.04 636.51 L-16.81 635.76 L-17.58 635 L-18.35 634.24 L-19.12 633.49 L-19.89 632.72 L-20.67 631.96 L-21.44 631.2 L-22.22 630.43 L-23 629.66 L-23.79 628.89 L-24.57 628.12 L-25.36 627.35 L-25.4 627.31 M-31.4 621.41 L-31.72 621.1 L-32.52 620.31 L-33.33 619.52 L-34.13 618.73 L-34.94 617.93 L-35.76 617.13 L-36.57 616.34 L-37.38 615.53 L-38.2 614.73 L-39.02 613.93 L-39.84 613.12 L-40.67 612.31 L-41.49 611.5 L-42.32 610.69 L-43.15 609.87 L-43.98 609.06 L-44.82 608.24 L-45.65 607.42 L-46.49 606.59 L-47.33 605.77 L-47.4 605.7 M-53.4 599.81 L-54.14 599.09 L-55 598.24 L-55.86 597.4 L-56.73 596.55 L-57.6 595.7 L-58.47 594.84 L-59.34 593.99 L-60.22 593.13 L-61.09 592.27 L-61.97 591.41 L-62.85 590.54 L-63.74 589.67 L-64.63 588.81 L-65.52 587.93 L-66.41 587.06 L-67.3 586.18 L-68.2 585.3 L-69.1 584.42 L-69.4 584.12 M-75.4 578.24 L-75.47 578.18 L-76.39 577.28 L-77.31 576.37 L-78.24 575.46 L-79.17 574.55 L-80.1 573.64 L-81.03 572.73 L-81.97 571.81 L-82.91 570.89 L-83.85 569.96 L-84.8 569.04 L-85.74 568.11 L-86.7 567.18 L-87.65 566.24 L-88.61 565.31 L-89.57 564.37 L-90.53 563.42 L-91.4 562.57 M-97.4 556.69 L-98.34 555.77 L-99.33 554.8 L-100.33 553.83 L-101.32 552.85 L-102.32 551.87 L-103.33 550.89 L-104.34 549.91 L-105.35 548.92 L-106.36 547.92 L-107.38 546.93 L-108.4 545.93 L-109.42 544.93 L-110.45 543.92 L-111.48 542.91 L-112.51 541.9 L-113.4 541.03 M-119.4 535.16 L-119.85 534.72 L-120.92 533.68 L-121.99 532.63 L-123.06 531.58 L-124.13 530.53 L-125.21 529.48 L-126.29 528.42 L-127.38 527.36 L-128.47 526.29 L-129.57 525.22 L-130.67 524.14 L-131.77 523.06 L-132.88 521.98 L-133.99 520.89 L-135.1 519.8 L-135.4 519.51 M-141.4 513.64 L-141.89 513.17 L-143.03 512.05 L-144.18 510.92 L-145.34 509.79 L-146.5 508.66 L-147.66 507.52 L-148.83 506.38 L-150.01 505.23 L-151.19 504.08 L-152.37 502.92 L-153.56 501.76 L-154.75 500.59 L-155.95 499.42 L-157.16 498.25 L-157.4 498 M-163.4 492.14 L-164.49 491.08 L-165.73 489.87 L-166.97 488.65 L-168.23 487.43 L-169.48 486.2 L-170.75 484.97 L-172.01 483.73 L-173.29 482.49 L-174.57 481.24 L-175.86 479.98 L-177.15 478.72 L-178.45 477.45 L-179.4 476.52 M-185.4 470.66 L-186.37 469.72 L-187.71 468.41 L-189.06 467.09 L-190.42 465.76 L-191.78 464.43 L-193.15 463.1 L-194.53 461.75 L-195.91 460.4 L-197.3 459.05 L-198.7 457.68 L-200.1 456.31 L-201.4 455.04 M-207.4 449.19 L-208.7 447.93 L-210.16 446.5 L-211.62 445.07 L-213.1 443.63 L-214.58 442.19 L-216.08 440.73 L-217.58 439.27 L-219.09 437.8 L-220.61 436.31 L-222.13 434.83 L-223.4 433.59 M-229.4 427.74 L-229.91 427.24 L-231.5 425.7 L-233.09 424.15 L-234.69 422.59 L-236.31 421.01 L-237.93 419.43 L-239.57 417.84 L-241.21 416.23 L-242.87 414.62 L-244.54 413 L-245.4 412.15 M-251.4 406.31 L-253.05 404.71 L-254.78 403.02 L-256.53 401.31 L-258.3 399.6 L-260.07 397.87 L-261.86 396.13 L-263.66 394.38 L-265.48 392.61 L-267.31 390.83 L-267.4 390.74 M-273.4 384.9 L-274.76 383.57 L-276.67 381.73 L-278.58 379.86 L-280.52 377.98 L-282.46 376.09 L-284.43 374.18 L-286.41 372.25 L-288.41 370.31 L-289.4 369.34 M-295.4 363.51 L-296.58 362.37 L-298.67 360.34 L-300.78 358.29 L-302.9 356.22 L-305.05 354.14 L-307.22 352.03 L-309.41 349.91 L-311.4 347.97 M-317.4 342.15 L-318.39 341.19 L-320.69 338.95 L-323.02 336.7 L-325.37 334.41 L-327.75 332.11 L-330.15 329.78 L-332.59 327.42 L-333.4 326.62 M-339.4 320.81 L-340.05 320.18 L-342.6 317.71 L-345.18 315.21 L-347.79 312.68 L-350.43 310.12 L-353.11 307.53 L-355.4 305.31 M-361.4 299.5 L-364.18 296.81 L-367.05 294.03 L-369.95 291.22 L-372.9 288.37 L-375.9 285.47 L-377.4 284.02 M-383.4 278.21 L-385.16 276.51 L-388.35 273.43 L-391.59 270.3 L-394.89 267.11 L-398.25 263.87 L-399.4 262.76 M-405.4 256.97 L-408.7 253.79 L-412.31 250.3 L-416 246.74 L-419.77 243.11 L-421.4 241.54 M-427.4 235.75 L-427.54 235.62 L-431.56 231.75 L-435.68 227.78 L-439.89 223.73 L-443.4 220.35 M-449.4 214.58 L-453.19 210.94 L-457.87 206.44 L-462.69 201.82 L-465.4 199.21 M-471.4 193.45 L-472.76 192.14 L-478.05 187.07 L-483.52 181.83 L-487.4 178.11 M-493.4 172.37 L-495.09 170.76 L-501.22 164.89 L-507.62 158.78 L-509.4 157.07 M-515.4 151.34 L-521.32 145.69 L-528.71 138.65 L-531.4 136.09 M-537.4 130.38 L-544.82 123.32 L-553.4 115.17 M-559.4 109.48 L-563.19 105.89 L-573.5 96.13 L-575.4 94.33 M-581.4 88.66 L-584.79 85.46 M188.73 745.69 L188.22 745.12 L187.7 744.55 L187.18 743.97 L186.67 743.39 L186.15 742.82 L185.63 742.24 L185.1 741.66 L184.58 741.08 L184.05 740.5 L183.53 739.92 L183 739.34 L182.47 738.75 L181.94 738.17 L181.41 737.59 L180.88 737 L180.34 736.41 L179.8 735.83 L179.27 735.24 L178.73 734.65 L178.19 734.06 L177.65 733.47 L177.1 732.88 L176.56 732.29 L176.01 731.69 L175.47 731.1 L174.92 730.5 L174.37 729.91 L174.17 729.69 M168.6 723.69 L168.22 723.29 L167.66 722.69 L167.09 722.08 L166.52 721.47 L165.95 720.86 L165.37 720.25 L164.8 719.64 L164.23 719.03 L163.65 718.42 L163.07 717.8 L162.49 717.19 L161.91 716.57 L161.33 715.95 L160.74 715.34 L160.16 714.72 L159.57 714.1 L158.98 713.48 L158.39 712.85 L157.8 712.23 L157.21 711.61 L156.61 710.98 L156.02 710.36 L155.42 709.73 L154.82 709.1 L154.22 708.47 L153.62 707.84 L153.48 707.69 M147.73 701.69 L147.53 701.49 L146.92 700.85 L146.3 700.21 L145.68 699.57 L145.06 698.92 L144.43 698.28 L143.81 697.63 L143.18 696.98 L142.55 696.33 L141.93 695.68 L141.3 695.03 L140.66 694.38 L140.03 693.73 L139.4 693.08 L138.76 692.42 L138.12 691.76 L137.48 691.11 L136.84 690.45 L136.2 689.79 L135.56 689.13 L134.91 688.47 L134.26 687.8 L133.62 687.14 L132.97 686.47 L132.32 685.81 L132.2 685.69 M126.32 679.69 L125.72 679.08 L125.05 678.4 L124.38 677.72 L123.71 677.04 L123.04 676.36 L122.37 675.67 L121.69 674.99 L121.01 674.3 L120.33 673.61 L119.65 672.92 L118.97 672.23 L118.29 671.54 L117.6 670.85 L116.92 670.15 L116.23 669.46 L115.54 668.76 L114.85 668.06 L114.15 667.36 L113.46 666.66 L112.76 665.96 L112.07 665.26 L111.37 664.55 L110.67 663.84 L110.52 663.69 M104.55 657.69 L104.28 657.43 L103.57 656.71 L102.85 655.99 L102.13 655.27 L101.41 654.54 L100.68 653.82 L99.96 653.09 L99.23 652.36 L98.5 651.63 L97.77 650.9 L97.04 650.17 L96.3 649.43 L95.57 648.7 L94.83 647.96 L94.09 647.22 L93.35 646.48 L92.61 645.74 L91.86 645 L91.12 644.25 L90.37 643.51 L89.62 642.76 L88.87 642.01 L88.56 641.71 M82.56 635.73 L82.02 635.2 L81.25 634.43 L80.48 633.67 L79.71 632.9 L78.94 632.13 L78.16 631.36 L77.38 630.59 L76.6 629.81 L75.82 629.03 L75.03 628.26 L74.25 627.48 L73.46 626.69 L72.67 625.91 L71.88 625.13 L71.08 624.34 L70.29 623.55 L69.49 622.76 L68.69 621.97 L67.89 621.18 L67.09 620.38 L66.56 619.86 M60.56 613.92 L59.77 613.14 L58.94 612.32 L58.12 611.51 L57.29 610.69 L56.46 609.87 L55.63 609.05 L54.8 608.22 L53.96 607.4 L53.12 606.57 L52.28 605.74 L51.44 604.91 L50.59 604.08 L49.75 603.24 L48.9 602.4 L48.05 601.56 L47.19 600.72 L46.34 599.88 L45.48 599.03 L44.62 598.19 L44.56 598.13 M38.56 592.21 L38.54 592.19 L37.66 591.33 L36.78 590.46 L35.9 589.59 L35.01 588.72 L34.12 587.85 L33.24 586.97 L32.34 586.09 L31.45 585.21 L30.55 584.33 L29.65 583.44 L28.75 582.55 L27.84 581.66 L26.94 580.77 L26.03 579.88 L25.12 578.98 L24.2 578.08 L23.28 577.18 L22.56 576.47 M16.56 570.57 L15.85 569.88 L14.91 568.95 L13.97 568.02 L13.02 567.09 L12.07 566.16 L11.12 565.23 L10.17 564.29 L9.21 563.35 L8.25 562.41 L7.29 561.46 L6.32 560.51 L5.35 559.56 L4.38 558.61 L3.41 557.65 L2.43 556.69 L1.45 555.73 L0.56 554.86 M-5.44 548.97 L-5.5 548.91 L-6.5 547.93 L-7.51 546.94 L-8.52 545.94 L-9.54 544.95 L-10.55 543.95 L-11.58 542.95 L-12.6 541.95 L-13.63 540.94 L-14.66 539.93 L-15.69 538.91 L-16.73 537.9 L-17.77 536.88 L-18.81 535.85 L-19.86 534.83 L-20.91 533.8 L-21.44 533.28 M-27.44 527.4 L-28.37 526.49 L-29.45 525.43 L-30.53 524.37 L-31.62 523.3 L-32.71 522.23 L-33.81 521.16 L-34.9 520.08 L-36.01 519 L-37.11 517.92 L-38.22 516.83 L-39.34 515.74 L-40.46 514.65 L-41.58 513.55 L-42.7 512.44 L-43.44 511.73 M-49.44 505.85 L-49.55 505.74 L-50.71 504.61 L-51.87 503.47 L-53.03 502.33 L-54.2 501.19 L-55.37 500.04 L-56.55 498.88 L-57.74 497.73 L-58.92 496.56 L-60.12 495.4 L-61.31 494.23 L-62.51 493.05 L-63.72 491.87 L-64.93 490.68 L-65.44 490.19 M-71.44 484.32 L-72.3 483.47 L-73.55 482.25 L-74.8 481.03 L-76.06 479.8 L-77.32 478.56 L-78.59 477.32 L-79.86 476.08 L-81.14 474.83 L-82.42 473.57 L-83.71 472.31 L-85.01 471.04 L-86.31 469.77 L-87.44 468.67 M-93.44 462.8 L-94.24 462.02 L-95.58 460.7 L-96.93 459.39 L-98.29 458.06 L-99.65 456.73 L-101.02 455.39 L-102.39 454.05 L-103.78 452.7 L-105.16 451.34 L-106.56 449.98 L-107.96 448.61 L-109.37 447.23 L-109.44 447.16 M-115.44 441.3 L-116.52 440.24 L-117.98 438.82 L-119.44 437.4 L-120.9 435.96 L-122.38 434.52 L-123.86 433.07 L-125.35 431.62 L-126.85 430.15 L-128.36 428.68 L-129.88 427.2 L-131.4 425.71 L-131.44 425.68 M-137.44 419.82 L-137.58 419.68 L-139.15 418.15 L-140.73 416.61 L-142.31 415.06 L-143.91 413.51 L-145.51 411.94 L-147.12 410.36 L-148.75 408.78 L-150.38 407.19 L-152.03 405.58 L-153.44 404.21 M-159.44 398.35 L-160.4 397.41 L-162.11 395.75 L-163.83 394.07 L-165.56 392.38 L-167.3 390.69 L-169.05 388.98 L-170.82 387.26 L-172.59 385.52 L-174.38 383.78 L-175.44 382.75 M-181.44 376.9 L-181.67 376.68 L-183.52 374.88 L-185.39 373.06 L-187.27 371.22 L-189.16 369.38 L-191.07 367.52 L-193 365.64 L-194.94 363.75 L-196.89 361.85 L-197.44 361.32 M-203.44 355.47 L-204.86 354.09 L-206.9 352.11 L-208.95 350.11 L-211.02 348.09 L-213.11 346.06 L-215.21 344.02 L-217.33 341.95 L-219.44 339.9 M-225.44 334.07 L-226.02 333.5 L-228.24 331.34 L-230.48 329.16 L-232.75 326.96 L-235.03 324.74 L-237.34 322.49 L-239.67 320.23 L-241.44 318.51 M-247.44 312.68 L-249.24 310.93 L-251.7 308.54 L-254.18 306.13 L-256.69 303.69 L-259.23 301.23 L-261.8 298.73 L-263.44 297.14 M-269.44 291.32 L-269.68 291.08 L-272.37 288.47 L-275.1 285.82 L-277.86 283.14 L-280.66 280.43 L-283.49 277.69 L-285.44 275.8 M-291.44 269.98 L-292.22 269.22 L-295.21 266.32 L-298.24 263.38 L-301.32 260.4 L-304.45 257.37 L-307.44 254.48 M-313.44 248.67 L-314.12 248.01 L-317.45 244.79 L-320.84 241.51 L-324.28 238.18 L-327.78 234.79 L-329.44 233.19 M-335.44 227.39 L-338.69 224.25 L-342.46 220.6 L-346.31 216.88 L-350.25 213.09 L-351.44 211.93 M-357.44 206.14 L-358.36 205.25 L-362.56 201.2 L-366.86 197.06 L-371.25 192.82 L-373.44 190.71 M-379.44 184.93 L-380.39 184.02 L-385.14 179.44 L-390.02 174.74 L-395.05 169.91 L-395.44 169.53 M-401.44 163.76 L-405.57 159.79 L-411.09 154.49 L-416.8 149.01 L-417.44 148.39 M-423.44 142.64 L-428.87 137.43 L-435.27 131.29 L-439.44 127.3 M-445.44 121.56 L-448.93 118.22 L-456.25 111.22 L-461.44 106.26 M-467.44 100.54 L-472.12 96.07 L-480.77 87.82 L-483.44 85.28 M-489.44 79.57 L-490.01 79.03 L-499.94 69.59 L-505.44 64.37 M-511.44 58.68 L-522.48 48.22 M275.58 740.85 L275.13 740.25 L274.68 739.65 L274.22 739.05 L273.77 738.45 L273.31 737.84 L272.85 737.24 L272.38 736.63 L271.92 736.03 L271.45 735.42 L270.99 734.81 L270.52 734.2 L270.04 733.59 L269.57 732.98 L269.09 732.37 L268.62 731.76 L268.14 731.14 L267.66 730.53 L267.17 729.91 L266.69 729.3 L266.2 728.68 L265.71 728.06 L265.22 727.44 L264.73 726.82 L264.23 726.2 L263.74 725.58 L263.24 724.96 L263.16 724.85 M258.3 718.85 L258.15 718.67 L257.63 718.04 L257.11 717.41 L256.59 716.77 L256.07 716.13 L255.54 715.5 L255.01 714.86 L254.48 714.22 L253.95 713.58 L253.41 712.94 L252.87 712.29 L252.34 711.65 L251.8 711.01 L251.25 710.36 L250.71 709.72 L250.16 709.07 L249.62 708.42 L249.06 707.77 L248.51 707.12 L247.96 706.47 L247.4 705.81 L246.85 705.16 L246.29 704.51 L245.72 703.85 L245.16 703.19 L244.87 702.85 M239.66 696.85 L239.41 696.57 L238.83 695.9 L238.24 695.23 L237.65 694.56 L237.06 693.89 L236.47 693.21 L235.87 692.54 L235.28 691.86 L234.68 691.19 L234.08 690.51 L233.47 689.83 L232.87 689.15 L232.26 688.47 L231.65 687.79 L231.04 687.1 L230.43 686.42 L229.81 685.73 L229.19 685.05 L228.58 684.36 L227.95 683.67 L227.33 682.98 L226.71 682.29 L226.08 681.6 L225.45 680.9 L225.41 680.85 M219.93 674.85 L219.7 674.6 L219.05 673.9 L218.4 673.19 L217.75 672.48 L217.09 671.77 L216.44 671.06 L215.78 670.35 L215.12 669.63 L214.45 668.92 L213.79 668.2 L213.12 667.49 L212.45 666.77 L211.78 666.05 L211.11 665.33 L210.43 664.6 L209.75 663.88 L209.08 663.15 L208.39 662.43 L207.71 661.7 L207.03 660.97 L206.34 660.24 L205.65 659.51 L205.03 658.85 M199.34 652.85 L198.64 652.11 L197.93 651.37 L197.22 650.62 L196.5 649.87 L195.78 649.12 L195.06 648.36 L194.34 647.61 L193.61 646.85 L192.89 646.1 L192.16 645.34 L191.43 644.58 L190.7 643.81 L189.96 643.05 L189.22 642.29 L188.49 641.52 L187.74 640.75 L187 639.98 L186.26 639.21 L185.51 638.44 L184.76 637.67 L184.01 636.89 L183.97 636.85 M178.13 630.85 L177.92 630.63 L177.15 629.84 L176.38 629.05 L175.6 628.26 L174.82 627.46 L174.04 626.67 L173.26 625.87 L172.48 625.07 L171.69 624.27 L170.9 623.46 L170.11 622.66 L169.32 621.85 L168.53 621.04 L167.73 620.23 L166.93 619.42 L166.13 618.61 L165.33 617.79 L164.52 616.98 L163.71 616.16 L162.9 615.34 L162.42 614.85 M156.48 608.85 L156.34 608.71 L155.51 607.87 L154.68 607.03 L153.84 606.19 L153.01 605.35 L152.17 604.5 L151.32 603.66 L150.48 602.81 L149.63 601.96 L148.78 601.1 L147.93 600.25 L147.08 599.39 L146.22 598.53 L145.36 597.67 L144.5 596.81 L143.64 595.95 L142.77 595.08 L141.91 594.21 L141.04 593.34 L140.55 592.85 M134.55 586.86 L133.98 586.3 L133.09 585.41 L132.2 584.52 L131.3 583.62 L130.4 582.73 L129.5 581.83 L128.59 580.93 L127.68 580.02 L126.77 579.12 L125.86 578.21 L124.94 577.3 L124.02 576.39 L123.1 575.47 L122.18 574.56 L121.25 573.64 L120.33 572.72 L119.39 571.79 L118.55 570.95 M112.55 565 L111.84 564.31 L110.89 563.36 L109.93 562.41 L108.97 561.46 L108 560.51 L107.04 559.55 L106.07 558.59 L105.09 557.63 L104.12 556.66 L103.14 555.7 L102.16 554.72 L101.17 553.75 L100.18 552.78 L99.19 551.8 L98.2 550.82 L97.2 549.83 L96.55 549.19 M90.55 543.27 L90.14 542.86 L89.12 541.86 L88.09 540.85 L87.06 539.83 L86.03 538.82 L85 537.8 L83.96 536.78 L82.92 535.75 L81.87 534.72 L80.83 533.69 L79.77 532.66 L78.72 531.62 L77.66 530.58 L76.6 529.53 L75.54 528.48 L74.55 527.51 M68.55 521.61 L67.99 521.06 L66.89 519.98 L65.8 518.9 L64.69 517.82 L63.59 516.74 L62.48 515.65 L61.37 514.56 L60.25 513.46 L59.14 512.36 L58.01 511.26 L56.89 510.15 L55.75 509.04 L54.62 507.92 L53.48 506.81 L52.55 505.89 M46.55 500 L45.39 498.87 L44.22 497.72 L43.04 496.56 L41.86 495.4 L40.68 494.24 L39.49 493.07 L38.29 491.9 L37.1 490.73 L35.89 489.55 L34.69 488.36 L33.47 487.18 L32.26 485.98 L31.04 484.78 L30.55 484.31 M24.55 478.42 L23.61 477.5 L22.35 476.27 L21.09 475.04 L19.82 473.8 L18.55 472.55 L17.28 471.3 L16 470.05 L14.71 468.79 L13.42 467.52 L12.12 466.25 L10.82 464.97 L9.51 463.69 L8.55 462.75 M2.55 456.87 L1.55 455.89 L0.2 454.57 L-1.15 453.25 L-2.51 451.92 L-3.88 450.58 L-5.25 449.24 L-6.63 447.89 L-8.01 446.53 L-9.4 445.17 L-10.8 443.8 L-12.21 442.43 L-13.45 441.21 M-19.45 435.34 L-20.77 434.05 L-22.22 432.63 L-23.68 431.21 L-25.14 429.77 L-26.61 428.33 L-28.09 426.88 L-29.58 425.43 L-31.08 423.97 L-32.58 422.5 L-34.09 421.02 L-35.45 419.69 M-41.45 413.82 L-41.76 413.52 L-43.32 412 L-44.88 410.47 L-46.46 408.93 L-48.04 407.38 L-49.64 405.82 L-51.24 404.26 L-52.85 402.68 L-54.47 401.1 L-56.1 399.51 L-57.45 398.18 M-63.45 392.32 L-64.38 391.41 L-66.07 389.76 L-67.77 388.1 L-69.48 386.44 L-71.19 384.76 L-72.92 383.07 L-74.66 381.37 L-76.41 379.66 L-78.17 377.94 L-79.45 376.69 M-85.45 370.83 L-87.15 369.17 L-88.99 367.39 L-90.83 365.59 L-92.69 363.77 L-94.56 361.95 L-96.44 360.11 L-98.34 358.26 L-100.25 356.4 L-101.45 355.22 M-107.45 349.37 L-108.03 348.81 L-110.01 346.88 L-112 344.93 L-114.01 342.97 L-116.04 340.99 L-118.08 339 L-120.14 337 L-122.21 334.97 L-123.45 333.76 M-129.45 327.92 L-130.69 326.72 L-132.85 324.61 L-135.03 322.48 L-137.23 320.34 L-139.45 318.18 L-141.68 316 L-143.94 313.8 L-145.45 312.33 M-151.45 306.49 L-153.19 304.8 L-155.55 302.49 L-157.94 300.17 L-160.36 297.82 L-162.79 295.45 L-165.25 293.05 L-167.45 290.91 M-173.45 285.08 L-175.36 283.22 L-177.95 280.7 L-180.58 278.15 L-183.23 275.57 L-185.91 272.96 L-188.63 270.32 L-189.45 269.52 M-195.45 263.69 L-196.97 262.22 L-199.82 259.45 L-202.7 256.65 L-205.62 253.81 L-208.58 250.94 L-211.45 248.15 M-217.45 242.32 L-217.7 242.08 L-220.83 239.05 L-224 235.97 L-227.22 232.85 L-230.48 229.68 L-233.45 226.8 M-239.45 220.98 L-240.59 219.88 L-244.07 216.51 L-247.61 213.08 L-251.21 209.59 L-254.87 206.05 L-255.45 205.48 M-261.45 199.67 L-262.39 198.76 L-266.26 195.02 L-270.21 191.2 L-274.23 187.31 L-277.45 184.19 M-283.45 178.39 L-286.82 175.13 L-291.21 170.9 L-295.69 166.56 L-299.45 162.93 M-305.45 157.14 L-309.83 152.91 L-314.8 148.13 L-319.9 143.21 L-321.45 141.71 M-327.45 135.93 L-330.56 132.94 L-336.14 127.56 L-341.91 122.01 L-343.45 120.53 M-349.45 114.76 L-354.06 110.32 L-360.49 104.15 L-365.45 99.38 M-371.45 93.63 L-374.15 91.04 L-381.44 84.05 L-387.45 78.29 M-393.45 72.55 L-397.15 69 L-405.67 60.86 L-409.45 57.25 M-415.45 51.52 L-424.36 43.02 L-431.45 36.26 M-437.45 30.55 L-445.98 22.45 L-453.45 15.35 M360.66 737.79 L360.34 737.16 L360.01 736.54 L359.68 735.91 L359.35 735.28 L359.01 734.65 L358.67 734.02 L358.34 733.39 L358 732.76 L357.65 732.13 L357.31 731.49 L356.96 730.86 L356.61 730.22 L356.26 729.58 L355.91 728.95 L355.55 728.31 L355.19 727.67 L354.83 727.03 L354.47 726.38 L354.11 725.74 L353.74 725.1 L353.37 724.45 L353 723.81 L352.63 723.16 L352.25 722.51 L351.88 721.86 L351.83 721.79 M348.27 715.79 L347.98 715.31 L347.57 714.64 L347.17 713.98 L346.76 713.32 L346.35 712.65 L345.94 711.99 L345.52 711.32 L345.11 710.65 L344.69 709.98 L344.27 709.31 L343.84 708.64 L343.41 707.97 L342.99 707.3 L342.55 706.62 L342.12 705.95 L341.68 705.27 L341.24 704.59 L340.8 703.91 L340.36 703.23 L339.91 702.55 L339.46 701.87 L339.01 701.18 L338.56 700.5 L338.1 699.81 L338.09 699.79 M334.02 693.79 L333.88 693.58 L333.4 692.88 L332.91 692.18 L332.43 691.48 L331.94 690.78 L331.45 690.08 L330.95 689.37 L330.45 688.67 L329.95 687.96 L329.45 687.25 L328.94 686.54 L328.44 685.83 L327.93 685.12 L327.41 684.41 L326.9 683.7 L326.38 682.98 L325.85 682.26 L325.33 681.55 L324.8 680.83 L324.27 680.11 L323.74 679.38 L323.21 678.66 L322.67 677.94 L322.55 677.79 M318.03 671.79 L317.7 671.36 L317.14 670.62 L316.57 669.89 L316 669.15 L315.43 668.4 L314.85 667.66 L314.27 666.92 L313.69 666.17 L313.1 665.43 L312.51 664.68 L311.92 663.93 L311.33 663.18 L310.73 662.43 L310.14 661.67 L309.53 660.92 L308.93 660.16 L308.32 659.4 L307.71 658.64 L307.1 657.88 L306.48 657.12 L305.86 656.36 L305.4 655.79 M300.46 649.79 L300.16 649.42 L299.52 648.64 L298.86 647.87 L298.21 647.08 L297.55 646.3 L296.9 645.52 L296.23 644.73 L295.57 643.95 L294.9 643.16 L294.23 642.37 L293.56 641.58 L292.88 640.78 L292.2 639.99 L291.52 639.19 L290.83 638.39 L290.14 637.6 L289.45 636.79 L288.76 635.99 L288.06 635.19 L287.36 634.38 L286.84 633.79 M281.57 627.79 L280.93 627.06 L280.2 626.24 L279.47 625.41 L278.73 624.59 L277.99 623.76 L277.25 622.93 L276.51 622.1 L275.76 621.27 L275.01 620.44 L274.26 619.6 L273.5 618.77 L272.74 617.93 L271.98 617.09 L271.22 616.24 L270.45 615.4 L269.68 614.55 L268.9 613.71 L268.13 612.86 L267.35 612 L267.15 611.79 M261.61 605.79 L261 605.13 L260.19 604.26 L259.38 603.39 L258.57 602.52 L257.75 601.64 L256.94 600.77 L256.11 599.89 L255.29 599.01 L254.46 598.13 L253.63 597.24 L252.8 596.36 L251.96 595.47 L251.12 594.58 L250.28 593.69 L249.43 592.8 L248.58 591.9 L247.73 591 L246.88 590.1 L246.57 589.79 M240.84 583.79 L240.81 583.75 L239.93 582.83 L239.04 581.91 L238.16 580.99 L237.27 580.07 L236.38 579.14 L235.48 578.21 L234.58 577.28 L233.68 576.35 L232.78 575.42 L231.87 574.48 L230.96 573.54 L230.05 572.6 L229.13 571.65 L228.21 570.71 L227.29 569.76 L226.36 568.81 L225.43 567.86 L225.36 567.79 M219.49 561.79 L218.84 561.12 L217.88 560.14 L216.92 559.17 L215.96 558.19 L215 557.21 L214.03 556.23 L213.06 555.24 L212.08 554.25 L211.1 553.26 L210.12 552.27 L209.14 551.27 L208.15 550.28 L207.16 549.27 L206.17 548.27 L205.17 547.26 L204.17 546.25 L203.7 545.79 M197.74 539.79 L197.06 539.11 L196.04 538.08 L195 537.04 L193.97 536 L192.93 534.96 L191.89 533.92 L190.84 532.87 L189.79 531.82 L188.74 530.77 L187.68 529.71 L186.62 528.65 L185.56 527.59 L184.49 526.53 L183.42 525.46 L182.34 524.39 L181.75 523.8 M175.75 517.82 L174.72 516.79 L173.61 515.69 L172.5 514.59 L171.39 513.49 L170.27 512.38 L169.15 511.27 L168.03 510.15 L166.9 509.03 L165.77 507.91 L164.63 506.78 L163.49 505.65 L162.35 504.52 L161.2 503.38 L160.05 502.24 L159.75 501.95 M153.75 496.02 L153.05 495.32 L151.87 494.15 L150.68 492.98 L149.49 491.8 L148.29 490.62 L147.1 489.44 L145.89 488.25 L144.68 487.06 L143.47 485.86 L142.25 484.66 L141.03 483.46 L139.81 482.25 L138.58 481.04 L137.75 480.23 M131.75 474.32 L131.09 473.66 L129.83 472.42 L128.56 471.17 L127.29 469.92 L126.01 468.66 L124.72 467.39 L123.43 466.13 L122.14 464.85 L120.84 463.58 L119.53 462.29 L118.22 461 L116.91 459.71 L115.75 458.58 M109.75 452.68 L108.9 451.85 L107.55 450.52 L106.19 449.18 L104.83 447.84 L103.45 446.49 L102.08 445.14 L100.69 443.78 L99.31 442.42 L97.91 441.05 L96.51 439.68 L95.1 438.3 L93.75 436.97 M87.75 431.09 L86.53 429.89 L85.08 428.46 L83.62 427.03 L82.15 425.59 L80.68 424.15 L79.2 422.7 L77.71 421.24 L76.22 419.78 L74.72 418.31 L73.21 416.83 L71.75 415.4 M65.75 409.53 L65.56 409.34 L64.01 407.82 L62.45 406.29 L60.88 404.75 L59.31 403.21 L57.72 401.66 L56.13 400.1 L54.53 398.53 L52.92 396.95 L51.3 395.37 L49.75 393.86 M43.75 387.98 L43.08 387.32 L41.41 385.69 L39.73 384.04 L38.04 382.39 L36.34 380.72 L34.63 379.05 L32.91 377.37 L31.18 375.68 L29.44 373.98 L27.75 372.33 M21.75 366.46 L20.59 365.32 L18.78 363.56 L16.97 361.78 L15.14 360 L13.31 358.2 L11.46 356.39 L9.6 354.57 L7.73 352.74 L5.84 350.9 L5.75 350.82 M-0.25 344.95 L-1.82 343.41 L-3.77 341.51 L-5.74 339.59 L-7.71 337.66 L-9.7 335.71 L-11.71 333.76 L-13.72 331.78 L-15.76 329.8 L-16.25 329.32 M-22.25 323.46 L-24.04 321.71 L-26.15 319.65 L-28.28 317.57 L-30.42 315.48 L-32.58 313.37 L-34.76 311.25 L-36.96 309.1 L-38.25 307.84 M-44.25 301.99 L-45.92 300.36 L-48.21 298.12 L-50.51 295.87 L-52.84 293.6 L-55.19 291.31 L-57.56 289 L-59.95 286.67 L-60.25 286.38 M-66.25 280.53 L-67.26 279.54 L-69.75 277.12 L-72.25 274.67 L-74.79 272.21 L-77.34 269.72 L-79.93 267.2 L-82.25 264.94 M-88.25 259.09 L-90.53 256.87 L-93.25 254.22 L-96.01 251.54 L-98.79 248.83 L-101.61 246.08 L-104.25 243.52 M-110.25 237.68 L-110.25 237.67 L-113.21 234.8 L-116.2 231.89 L-119.22 228.94 L-122.29 225.96 L-125.39 222.94 L-126.25 222.11 M-132.25 216.28 L-134.97 213.64 L-138.25 210.45 L-141.57 207.21 L-144.95 203.93 L-148.25 200.73 M-154.25 194.91 L-155.39 193.79 L-158.98 190.31 L-162.63 186.76 L-166.35 183.16 L-170.12 179.5 L-170.25 179.38 M-176.25 173.56 L-177.88 171.98 L-181.86 168.11 L-185.92 164.18 L-190.06 160.17 L-192.25 158.05 M-198.25 152.24 L-198.59 151.9 L-202.99 147.64 L-207.49 143.28 L-212.09 138.83 L-214.25 136.75 M-220.25 130.94 L-221.62 129.61 L-226.57 124.83 L-231.64 119.93 L-236.25 115.48 M-242.25 109.68 L-247.71 104.41 L-253.38 98.93 L-258.25 94.24 M-264.25 88.46 L-265.29 87.45 L-271.55 81.42 L-278.04 75.16 L-280.25 73.04 M-286.25 67.27 L-291.79 61.93 L-299.11 54.9 L-302.25 51.89 M-308.25 46.12 L-314.79 39.84 L-323.24 31.73 L-324.25 30.77 M-330.25 25.02 L-332.18 23.17 L-341.66 14.09 L-346.25 9.71 M-352.25 3.97 L-362.67 -5.98 L-368.25 -11.29 M-374.25 -17.01 L-374.46 -17.22 L-387.36 -29.49 M444.1 736.36 L443.93 735.72 L443.78 735.07 L443.63 734.43 L443.47 733.78 L443.32 733.13 L443.16 732.48 L443 731.83 L442.84 731.18 L442.68 730.52 L442.51 729.87 L442.35 729.21 L442.18 728.56 L442.01 727.9 L441.84 727.24 L441.66 726.58 L441.49 725.92 L441.31 725.25 L441.13 724.59 L440.95 723.92 L440.77 723.26 L440.59 722.59 L440.4 721.92 L440.22 721.25 L440.03 720.58 L439.97 720.36 M438.2 714.36 L438.03 713.79 L437.82 713.11 L437.61 712.42 L437.39 711.73 L437.18 711.05 L436.96 710.35 L436.74 709.66 L436.51 708.97 L436.29 708.28 L436.06 707.58 L435.83 706.88 L435.6 706.19 L435.37 705.49 L435.13 704.79 L434.89 704.08 L434.65 703.38 L434.41 702.68 L434.17 701.97 L433.92 701.26 L433.67 700.55 L433.42 699.84 L433.16 699.13 L432.91 698.42 L432.89 698.36 M430.65 692.36 L430.49 691.94 L430.21 691.22 L429.93 690.49 L429.64 689.76 L429.35 689.03 L429.06 688.3 L428.77 687.56 L428.47 686.83 L428.18 686.09 L427.87 685.36 L427.57 684.62 L427.26 683.88 L426.95 683.13 L426.64 682.39 L426.33 681.65 L426.01 680.9 L425.69 680.15 L425.37 679.4 L425.04 678.65 L424.71 677.9 L424.38 677.15 L424.04 676.39 L424.03 676.36 M421.29 670.36 L421.26 670.29 L420.9 669.53 L420.54 668.76 L420.17 667.98 L419.8 667.21 L419.42 666.44 L419.05 665.66 L418.67 664.88 L418.28 664.1 L417.9 663.32 L417.51 662.54 L417.12 661.75 L416.72 660.97 L416.32 660.18 L415.92 659.39 L415.51 658.6 L415.1 657.81 L414.69 657.01 L414.27 656.22 L413.86 655.42 L413.43 654.62 L413.29 654.36 M410.03 648.36 L409.93 648.17 L409.47 647.36 L409.01 646.54 L408.55 645.73 L408.09 644.91 L407.62 644.09 L407.15 643.27 L406.67 642.44 L406.19 641.62 L405.71 640.79 L405.22 639.96 L404.73 639.13 L404.23 638.3 L403.73 637.46 L403.23 636.63 L402.73 635.79 L402.21 634.95 L401.7 634.11 L401.18 633.27 L400.66 632.42 L400.63 632.36 M396.84 626.36 L396.34 625.6 L395.79 624.74 L395.22 623.87 L394.66 623.01 L394.09 622.14 L393.51 621.27 L392.94 620.4 L392.35 619.53 L391.77 618.66 L391.18 617.78 L390.58 616.9 L389.98 616.02 L389.38 615.14 L388.77 614.26 L388.16 613.37 L387.54 612.49 L386.92 611.6 L386.3 610.7 L386.06 610.36 M381.77 604.36 L381.14 603.5 L380.48 602.59 L379.81 601.68 L379.14 600.77 L378.46 599.85 L377.78 598.94 L377.09 598.02 L376.4 597.09 L375.71 596.17 L375.01 595.24 L374.3 594.32 L373.59 593.39 L372.88 592.45 L372.16 591.52 L371.44 590.58 L370.71 589.64 L369.98 588.7 L369.72 588.36 M364.98 582.36 L364.74 582.06 L363.97 581.1 L363.19 580.14 L362.42 579.18 L361.63 578.21 L360.85 577.24 L360.06 576.27 L359.26 575.3 L358.46 574.33 L357.65 573.35 L356.84 572.37 L356.03 571.39 L355.21 570.41 L354.39 569.42 L353.56 568.43 L352.72 567.44 L351.88 566.45 L351.81 566.36 M346.69 560.36 L345.88 559.42 L345.01 558.41 L344.13 557.4 L343.24 556.38 L342.35 555.36 L341.46 554.33 L340.56 553.31 L339.65 552.28 L338.74 551.25 L337.83 550.21 L336.91 549.18 L335.98 548.14 L335.06 547.1 L334.12 546.05 L333.18 545 L332.61 544.36 M327.18 538.36 L326.48 537.59 L325.51 536.52 L324.53 535.45 L323.54 534.38 L322.55 533.3 L321.55 532.22 L320.55 531.13 L319.55 530.04 L318.54 528.95 L317.52 527.86 L316.5 526.76 L315.48 525.67 L314.45 524.56 L313.41 523.46 L312.39 522.36 M306.73 516.36 L306.03 515.63 L304.96 514.5 L303.88 513.36 L302.8 512.23 L301.71 511.08 L300.62 509.94 L299.52 508.79 L298.42 507.64 L297.31 506.49 L296.2 505.33 L295.08 504.17 L293.96 503 L292.83 501.83 L291.7 500.66 L291.41 500.36 M285.59 494.36 L284.79 493.55 L283.63 492.35 L282.45 491.15 L281.27 489.94 L280.09 488.73 L278.9 487.52 L277.71 486.3 L276.51 485.08 L275.31 483.85 L274.1 482.62 L272.88 481.39 L271.66 480.15 L270.44 478.91 L269.9 478.36 M263.97 472.36 L262.98 471.37 L261.72 470.1 L260.45 468.82 L259.18 467.54 L257.9 466.25 L256.61 464.96 L255.32 463.67 L254.03 462.37 L252.73 461.07 L251.42 459.76 L250.11 458.44 L248.79 457.13 L248.03 456.36 M242.03 450.37 L240.77 449.11 L239.41 447.76 L238.05 446.4 L236.68 445.04 L235.3 443.67 L233.92 442.3 L232.53 440.92 L231.14 439.53 L229.74 438.14 L228.33 436.75 L226.92 435.34 L226.03 434.46 M220.03 428.52 L219.76 428.25 L218.31 426.82 L216.85 425.37 L215.39 423.92 L213.92 422.47 L212.44 421.01 L210.95 419.54 L209.46 418.07 L207.96 416.59 L206.46 415.1 L204.95 413.61 L204.03 412.71 M198.03 406.79 L197.28 406.05 L195.72 404.52 L194.16 402.98 L192.59 401.43 L191.01 399.87 L189.42 398.31 L187.83 396.74 L186.22 395.17 L184.61 393.58 L183 391.99 L182.03 391.04 M176.03 385.15 L174.78 383.91 L173.11 382.28 L171.43 380.63 L169.75 378.97 L168.05 377.31 L166.35 375.63 L164.63 373.95 L162.91 372.26 L161.18 370.56 L160.03 369.43 M154.03 363.55 L152.37 361.92 L150.58 360.17 L148.78 358.4 L146.97 356.62 L145.15 354.84 L143.32 353.04 L141.47 351.23 L139.62 349.42 L138.03 347.86 M132.03 341.98 L130.18 340.17 L128.26 338.28 L126.32 336.39 L124.38 334.48 L122.42 332.56 L120.44 330.63 L118.46 328.69 L116.46 326.73 L116.03 326.31 M110.03 320.44 L108.34 318.78 L106.27 316.76 L104.19 314.72 L102.09 312.67 L99.98 310.61 L97.86 308.53 L95.72 306.43 L94.03 304.78 M88.03 298.91 L87 297.91 L84.78 295.74 L82.54 293.55 L80.29 291.34 L78.02 289.12 L75.73 286.88 L73.42 284.63 L72.03 283.27 M66.03 277.41 L63.99 275.41 L61.59 273.06 L59.16 270.69 L56.71 268.3 L54.24 265.89 L51.75 263.46 L50.03 261.78 M44.03 255.92 L41.56 253.51 L38.95 250.96 L36.32 248.39 L33.66 245.79 L30.98 243.17 L28.27 240.53 L28.03 240.3 M22.03 234.44 L19.97 232.43 L17.14 229.67 L14.29 226.89 L11.4 224.07 L8.48 221.22 L6.03 218.84 M0.03 212.99 L-0.48 212.49 L-3.53 209.51 L-6.63 206.5 L-9.76 203.45 L-12.92 200.36 L-15.97 197.4 M-21.97 191.55 L-22.68 190.86 L-26.01 187.61 L-29.4 184.32 L-32.82 180.98 L-36.3 177.59 L-37.97 175.97 M-43.97 170.13 L-47.04 167.14 L-50.73 163.55 L-54.48 159.91 L-58.29 156.2 L-59.97 154.57 M-65.97 148.74 L-66.09 148.62 L-70.1 144.73 L-74.17 140.77 L-78.32 136.74 L-81.97 133.19 M-87.97 127.36 L-91.23 124.2 L-95.71 119.85 L-100.28 115.42 L-103.97 111.84 M-109.97 106.02 L-114.59 101.54 L-119.58 96.7 L-124.69 91.74 L-125.97 90.51 M-131.97 84.7 L-135.31 81.46 L-140.83 76.12 L-146.5 70.63 L-147.97 69.21 M-153.97 63.4 L-158.36 59.16 L-164.56 53.16 L-169.97 47.94 M-175.97 42.14 L-177.61 40.55 L-184.49 33.92 L-191.64 27.02 L-191.97 26.7 M-197.97 20.92 L-199.07 19.86 L-206.82 12.38 L-213.97 5.51 M-219.97 -0.27 L-223.44 -3.61 L-232.4 -12.22 L-235.97 -15.65 M-241.97 -21.41 L-251.92 -30.96 L-257.97 -36.76 M-263.97 -42.51 L-274.18 -52.28 L-279.97 -57.82 M-285.97 -63.56 L-286.67 -64.23 L-300.34 -77.27 M526 736.47 L525.93 735.81 L525.85 735.15 L525.76 734.49 L525.68 733.83 L525.6 733.17 L525.52 732.5 L525.43 731.84 L525.35 731.17 L525.26 730.5 L525.17 729.83 L525.08 729.16 L524.99 728.49 L524.9 727.82 L524.81 727.14 L524.72 726.47 L524.62 725.79 L524.53 725.11 L524.43 724.43 L524.34 723.75 L524.24 723.07 L524.14 722.39 L524.04 721.7 L523.94 721.02 L523.86 720.47 M522.93 714.47 L522.87 714.09 L522.75 713.39 L522.64 712.69 L522.52 711.98 L522.4 711.28 L522.28 710.57 L522.16 709.86 L522.04 709.16 L521.92 708.45 L521.8 707.73 L521.67 707.02 L521.55 706.31 L521.42 705.59 L521.29 704.87 L521.16 704.16 L521.03 703.44 L520.89 702.71 L520.76 701.99 L520.62 701.27 L520.49 700.54 L520.35 699.81 L520.21 699.09 L520.09 698.47 M518.88 692.47 L518.88 692.46 L518.73 691.72 L518.57 690.97 L518.41 690.22 L518.25 689.48 L518.09 688.73 L517.93 687.97 L517.76 687.22 L517.6 686.47 L517.43 685.71 L517.26 684.95 L517.09 684.19 L516.92 683.43 L516.74 682.67 L516.57 681.91 L516.39 681.14 L516.21 680.37 L516.03 679.61 L515.84 678.84 L515.66 678.06 L515.47 677.29 L515.28 676.51 L515.27 676.47 M513.76 670.47 L513.7 670.25 L513.5 669.46 L513.29 668.67 L513.08 667.87 L512.92 667.08 L512.8 666.28 L512.68 665.48 L512.57 664.68 L512.45 663.88 L512.32 663.07 L512.2 662.26 L512.07 661.45 L511.94 660.64 L511.81 659.83 L511.68 659.02 L511.54 658.2 L511.4 657.38 L511.26 656.56 L511.12 655.74 L510.97 654.92 L510.89 654.47 M509.76 648.47 L509.72 648.26 L509.55 647.42 L509.38 646.57 L509.21 645.73 L509.04 644.88 L508.86 644.03 L508.68 643.18 L508.49 642.33 L508.31 641.48 L508.12 640.62 L507.93 639.76 L507.73 638.9 L507.53 638.04 L507.33 637.17 L507.13 636.3 L506.92 635.43 L506.71 634.56 L506.5 633.69 L506.28 632.82 L506.2 632.47 M504.64 626.47 L504.44 625.74 L504.2 624.84 L503.95 623.95 L503.69 623.05 L503.44 622.15 L503.18 621.24 L502.92 620.34 L502.65 619.43 L502.38 618.52 L502.11 617.61 L501.83 616.69 L501.55 615.78 L501.27 614.86 L500.98 613.94 L500.69 613.01 L500.39 612.09 L500.09 611.16 L499.87 610.47 M497.83 604.47 L497.55 603.65 L497.21 602.7 L496.87 601.75 L496.52 600.8 L496.17 599.84 L495.82 598.88 L495.46 597.92 L495.1 596.96 L494.73 595.99 L494.36 595.02 L493.98 594.05 L493.6 593.08 L493.21 592.1 L492.82 591.12 L492.42 590.14 L492.02 589.16 L491.74 588.47 M489.19 582.47 L489.08 582.2 L488.63 581.2 L488.19 580.19 L487.73 579.18 L487.28 578.17 L486.81 577.15 L486.35 576.13 L485.87 575.11 L485.39 574.09 L484.91 573.07 L484.42 572.04 L483.92 571.01 L483.42 569.97 L482.91 568.94 L482.4 567.9 L481.88 566.85 L481.68 566.47 M478.6 560.47 L478.07 559.48 L477.51 558.41 L476.93 557.35 L476.35 556.28 L475.76 555.2 L475.17 554.13 L474.57 553.05 L473.96 551.97 L473.35 550.88 L472.73 549.79 L472.1 548.7 L471.47 547.61 L470.83 546.51 L470.19 545.41 L469.63 544.47 M465.99 538.47 L465.47 537.62 L464.77 536.5 L464.06 535.37 L463.34 534.24 L462.62 533.1 L461.89 531.96 L461.15 530.82 L460.4 529.68 L459.65 528.53 L458.89 527.38 L458.12 526.23 L457.35 525.07 L456.56 523.91 L455.77 522.74 L455.58 522.47 M451.42 516.47 L450.87 515.69 L450.03 514.5 L449.17 513.31 L448.31 512.12 L447.45 510.92 L446.57 509.72 L445.69 508.51 L444.8 507.3 L443.9 506.09 L442.99 504.87 L442.07 503.65 L441.15 502.43 L440.22 501.2 L439.66 500.47 M435.01 494.47 L434.46 493.76 L433.47 492.51 L432.48 491.25 L431.47 489.99 L430.46 488.72 L429.44 487.46 L428.41 486.18 L427.37 484.91 L426.32 483.62 L425.27 482.34 L424.21 481.05 L423.13 479.76 L422.06 478.47 M417.01 472.47 L416.53 471.91 L415.4 470.59 L414.26 469.26 L413.12 467.93 L411.96 466.59 L410.8 465.25 L409.63 463.91 L408.45 462.56 L407.26 461.2 L406.06 459.85 L404.86 458.48 L403.64 457.12 L403.07 456.47 M397.68 450.47 L397.45 450.21 L396.18 448.81 L394.91 447.41 L393.63 446 L392.34 444.59 L391.04 443.18 L389.73 441.75 L388.42 440.33 L387.09 438.9 L385.76 437.46 L384.42 436.02 L383.07 434.57 L382.97 434.47 M377.34 428.47 L376.19 427.25 L374.79 425.77 L373.38 424.28 L371.96 422.79 L370.54 421.29 L369.1 419.79 L367.66 418.28 L366.2 416.76 L364.74 415.24 L363.27 413.71 L362.07 412.47 M356.26 406.47 L355.79 405.98 L354.27 404.42 L352.74 402.84 L351.19 401.27 L349.64 399.68 L348.09 398.09 L346.52 396.49 L344.94 394.88 L343.36 393.27 L341.76 391.65 L340.6 390.47 M334.67 384.47 L333.65 383.44 L332 381.77 L330.34 380.1 L328.67 378.42 L326.99 376.74 L325.3 375.04 L323.6 373.34 L321.9 371.62 L320.18 369.9 L318.74 368.47 M312.74 362.48 L311.44 361.18 L309.67 359.41 L307.88 357.63 L306.08 355.84 L304.27 354.04 L302.45 352.23 L300.62 350.41 L298.78 348.59 L296.93 346.75 L296.74 346.57 M290.74 340.62 L289.41 339.3 L287.51 337.42 L285.59 335.52 L283.66 333.61 L281.71 331.69 L279.76 329.76 L277.79 327.82 L275.81 325.87 L274.74 324.81 M268.74 318.9 L267.78 317.95 L265.73 315.94 L263.68 313.91 L261.61 311.88 L259.53 309.83 L257.44 307.77 L255.33 305.69 L253.2 303.61 L252.74 303.15 M246.74 297.26 L244.57 295.12 L242.37 292.96 L240.16 290.79 L237.93 288.61 L235.69 286.4 L233.43 284.19 L231.16 281.96 L230.74 281.55 M224.74 275.66 L224.23 275.16 L221.89 272.86 L219.53 270.55 L217.15 268.22 L214.75 265.87 L212.34 263.5 L209.9 261.12 L208.74 259.98 M202.74 254.1 L202.48 253.85 L199.97 251.38 L197.43 248.9 L194.88 246.4 L192.3 243.88 L189.7 241.33 L187.07 238.76 L186.74 238.44 M180.74 232.57 L179.07 230.93 L176.35 228.27 L173.61 225.58 L170.84 222.87 L168.04 220.14 L165.22 217.38 L164.74 216.92 M158.74 211.05 L156.59 208.94 L153.65 206.07 L150.69 203.17 L147.69 200.24 L144.66 197.28 L142.74 195.41 M136.74 189.55 L135.38 188.21 L132.21 185.12 L129.01 182 L125.78 178.84 L122.5 175.64 L120.74 173.92 M114.74 168.06 L112.43 165.81 L109 162.45 L105.51 159.05 L101.98 155.61 L98.74 152.45 M92.74 146.6 L91.1 145 L87.38 141.36 L83.6 137.68 L79.76 133.94 L76.74 131 M70.74 125.15 L67.89 122.37 L63.81 118.39 L59.66 114.35 L55.45 110.25 L54.74 109.56 M48.74 103.72 L46.79 101.82 L42.35 97.49 L37.82 93.09 L33.21 88.6 L32.74 88.15 M26.74 82.31 L23.71 79.36 L18.81 74.59 L13.81 69.73 L10.74 66.75 M4.74 60.92 L3.47 59.69 L-1.88 54.49 L-7.36 49.17 L-11.26 45.38 M-17.26 39.56 L-18.73 38.13 L-24.65 32.39 L-30.73 26.49 L-33.26 24.04 M-39.26 18.22 L-43.43 14.17 L-50.09 7.73 L-55.26 2.72 M-61.26 -3.09 L-64.07 -5.81 L-71.44 -12.94 L-77.26 -18.57 M-83.26 -24.37 L-87.06 -28.04 L-95.37 -36.07 L-99.26 -39.82 M-105.26 -45.61 L-113.17 -53.25 L-121.26 -61.04 M-127.26 -66.82 L-132.91 -72.27 L-143.26 -82.23 M-149.26 -87.99 L-155.17 -93.68 L-165.26 -103.36 M-171.26 -109.12 L-180.91 -118.38 L-187.26 -124.45 M-193.26 -130.2 L-195.55 -132.4 M606.49 737.99 L606.54 737.32 L606.6 736.66 L606.65 735.99 L606.7 735.32 L606.75 734.64 L606.8 733.97 L606.85 733.29 L606.9 732.62 L606.95 731.94 L607 731.26 L607.05 730.58 L607.09 729.9 L607.14 729.22 L607.19 728.53 L607.24 727.85 L607.29 727.16 L607.33 726.47 L607.38 725.78 L607.42 725.09 L607.47 724.4 L607.52 723.71 L607.56 723.01 L607.61 722.32 L607.63 721.99 M607.99 715.99 L607.99 715.99 L608.03 715.28 L608.07 714.56 L608.11 713.85 L608.15 713.14 L608.19 712.42 L608.23 711.7 L608.27 710.98 L608.31 710.26 L608.34 709.54 L608.38 708.82 L608.42 708.09 L608.45 707.37 L608.49 706.64 L608.52 705.91 L608.56 705.18 L608.59 704.44 L608.62 703.71 L608.66 702.97 L608.69 702.24 L608.72 701.5 L608.75 700.76 L608.79 700.02 L608.79 699.99 M609.02 693.99 L609.04 693.27 L609.07 692.51 L609.09 691.75 L609.12 690.99 L609.14 690.22 L609.16 689.46 L609.18 688.69 L609.21 687.93 L609.23 687.16 L609.25 686.39 L609.27 685.61 L609.29 684.84 L609.31 684.06 L609.32 683.28 L609.34 682.5 L609.36 681.72 L609.37 680.94 L609.39 680.15 L609.4 679.37 L609.42 678.58 L609.43 677.99 M609.5 671.99 L609.51 671.4 L609.51 670.59 L609.52 669.78 L609.52 668.97 L609.53 668.16 L609.53 667.35 L609.53 666.53 L609.53 665.71 L609.53 664.89 L609.53 664.07 L609.53 663.25 L609.53 662.42 L609.53 661.59 L609.52 660.76 L609.52 659.93 L609.51 659.1 L609.5 658.26 L609.5 657.43 L609.49 656.59 L609.48 655.99 M609.38 649.99 L609.38 649.8 L609.36 648.94 L609.34 648.08 L609.32 647.22 L609.3 646.35 L609.27 645.49 L609.25 644.62 L609.22 643.75 L609.2 642.88 L609.17 642 L609.14 641.12 L609.11 640.24 L609.08 639.36 L609.05 638.48 L609.01 637.59 L608.98 636.71 L608.94 635.82 L608.9 634.92 L608.86 634.03 L608.86 633.99 M608.56 627.99 L608.55 627.7 L608.5 626.79 L608.44 625.87 L608.39 624.95 L608.34 624.03 L608.28 623.11 L608.22 622.18 L608.16 621.26 L608.1 620.33 L608.03 619.39 L607.97 618.46 L607.9 617.52 L607.83 616.58 L607.76 615.64 L607.69 614.69 L607.62 613.75 L607.54 612.79 L607.48 611.99 M606.96 605.99 L606.87 605.1 L606.78 604.13 L606.68 603.15 L606.59 602.17 L606.49 601.19 L606.39 600.21 L606.29 599.22 L606.18 598.23 L606.07 597.24 L605.96 596.24 L605.85 595.24 L605.74 594.24 L605.62 593.24 L605.5 592.23 L605.38 591.22 L605.26 590.21 L605.23 589.99 M604.45 583.99 L604.32 583.04 L604.18 582.01 L604.03 580.97 L603.88 579.93 L603.73 578.88 L603.57 577.83 L603.44 576.78 L603.41 575.73 L603.38 574.67 L603.35 573.61 L603.32 572.54 L603.28 571.47 L603.24 570.4 L603.2 569.33 L603.15 568.25 L603.14 567.99 M602.83 561.99 L602.81 561.71 L602.74 560.61 L602.67 559.51 L602.6 558.4 L602.52 557.29 L602.44 556.17 L602.35 555.05 L602.26 553.93 L602.17 552.8 L602.08 551.67 L601.98 550.54 L601.87 549.4 L601.76 548.26 L601.65 547.12 L601.54 545.99 M600.88 539.99 L600.76 539.01 L600.61 537.83 L600.46 536.65 L600.31 535.47 L600.15 534.29 L599.99 533.1 L599.82 531.9 L599.65 530.71 L599.47 529.5 L599.28 528.3 L599.1 527.09 L598.9 525.87 L598.7 524.66 L598.59 523.99 M597.53 517.99 L597.39 517.26 L597.15 516.01 L596.91 514.76 L596.66 513.51 L596.4 512.25 L596.14 510.98 L595.87 509.71 L595.59 508.44 L595.31 507.16 L595.02 505.88 L594.73 504.59 L594.42 503.3 L594.11 502 L594.11 501.99 M592.6 495.99 L592.46 495.45 L592.1 494.13 L591.74 492.8 L591.37 491.47 L590.99 490.13 L590.6 488.79 L590.21 487.44 L589.81 486.08 L589.4 484.73 L588.98 483.36 L588.55 482 L588.11 480.62 L587.9 479.99 M585.89 473.99 L585.78 473.68 L585.29 472.28 L584.78 470.87 L584.27 469.46 L583.75 468.04 L583.21 466.61 L582.67 465.18 L582.11 463.75 L581.55 462.3 L580.97 460.86 L580.38 459.41 L579.8 457.99 M577.24 451.99 L576.62 450.58 L575.95 449.09 L575.26 447.59 L574.57 446.09 L573.86 444.58 L573.15 443.06 L572.41 441.54 L571.67 440.02 L570.91 438.49 L570.14 436.95 L569.65 435.99 M566.52 429.99 L566.08 429.16 L565.23 427.59 L564.36 426.01 L563.47 424.42 L562.58 422.83 L561.66 421.23 L560.74 419.62 L559.79 418.01 L558.84 416.39 L557.86 414.76 L557.4 413.99 M553.69 407.99 L552.77 406.53 L551.7 404.86 L550.61 403.19 L549.51 401.5 L548.4 399.82 L547.26 398.12 L546.11 396.42 L544.95 394.71 L543.76 393 L543.06 391.99 M538.81 385.99 L537.59 384.3 L536.3 382.54 L535 380.77 L533.68 379 L532.34 377.21 L530.98 375.42 L529.6 373.62 L528.21 371.82 L526.8 370 L526.79 369.99 M522.05 363.99 L520.98 362.66 L519.48 360.8 L517.96 358.93 L516.42 357.06 L514.87 355.18 L513.29 353.29 L511.7 351.39 L510.09 349.48 L508.83 347.99 M503.68 341.99 L503.47 341.75 L501.77 339.79 L500.05 337.83 L498.31 335.85 L496.55 333.87 L494.78 331.87 L492.98 329.87 L491.17 327.85 L489.49 325.99 M484.02 319.99 L483.74 319.69 L481.84 317.62 L479.92 315.54 L477.98 313.45 L476.02 311.35 L474.04 309.24 L472.05 307.11 L470.03 304.97 L469.1 303.99 M463.4 297.99 L461.79 296.31 L459.69 294.11 L457.56 291.9 L455.42 289.67 L453.25 287.44 L451.07 285.19 L448.87 282.92 L447.96 281.99 M442.1 275.99 L439.88 273.72 L437.58 271.39 L435.26 269.04 L432.93 266.67 L430.57 264.29 L428.2 261.89 L426.31 259.99 M420.35 253.99 L418.5 252.14 L416.02 249.65 L413.52 247.16 L411 244.64 L408.46 242.1 L405.9 239.55 L404.36 238.01 M398.36 232.05 L398.08 231.78 L395.43 229.15 L392.76 226.49 L390.06 223.82 L387.34 221.13 L384.6 218.41 L382.36 216.2 M376.36 210.27 L376.22 210.13 L373.37 207.33 L370.5 204.5 L367.61 201.64 L364.69 198.76 L361.73 195.86 L360.36 194.5 M354.36 188.6 L352.72 186.99 L349.65 183.97 L346.56 180.93 L343.43 177.86 L340.27 174.76 L338.36 172.88 M332.36 166.99 L330.6 165.27 L327.31 162.05 L323.99 158.79 L320.63 155.49 L317.23 152.16 L316.36 151.3 M310.36 145.43 L310.32 145.39 L306.8 141.94 L303.24 138.46 L299.65 134.94 L296 131.37 L294.36 129.76 M288.36 123.89 L284.8 120.41 L280.97 116.66 L277.1 112.87 L273.16 109.02 L272.36 108.23 M266.36 102.37 L265.14 101.18 L261.04 97.17 L256.89 93.11 L252.67 88.99 L250.36 86.73 M244.36 80.87 L244.04 80.56 L239.63 76.25 L235.14 71.87 L230.58 67.41 L228.36 65.24 M222.36 59.38 L221.23 58.28 L216.43 53.6 L211.55 48.83 L206.57 43.98 L206.36 43.77 M200.36 37.92 L196.33 33.99 L191.06 28.85 L185.68 23.6 L184.36 22.31 M178.36 16.47 L174.56 12.77 L168.82 7.18 L162.94 1.45 L162.36 0.88 M156.36 -4.96 L150.75 -10.42 L144.42 -16.58 L140.36 -20.53 M134.36 -26.37 L131.23 -29.41 L124.36 -36.09 L118.36 -41.93 M112.36 -47.76 L109.96 -50.08 L102.41 -57.42 L96.36 -63.3 M90.36 -69.12 L86.5 -72.87 L78.09 -81.02 L74.36 -84.64 M68.36 -90.46 L60.2 -98.36 L52.36 -105.96 M46.36 -111.76 L40.64 -117.3 L30.36 -127.24 M24.36 -133.04 L18.95 -138.27 L8.36 -148.5 M2.36 -154.29 L-5.5 -161.87 L-13.64 -169.72 M-19.64 -175.5 L-33.77 -189.1 L-35.64 -190.9 M-41.64 -196.67 L-49.86 -204.56 M685.66 740.84 L685.81 740.17 L685.96 739.49 L686.11 738.82 L686.26 738.14 L686.41 737.46 L686.56 736.78 L686.71 736.1 L686.86 735.42 L687.01 734.74 L687.16 734.05 L687.31 733.37 L687.46 732.68 L687.61 731.99 L687.77 731.3 L687.92 730.61 L688.07 729.91 L688.22 729.22 L688.37 728.52 L688.53 727.83 L688.68 727.13 L688.83 726.43 L688.98 725.73 L689.14 725.02 L689.18 724.84 M690.48 718.84 L690.52 718.64 L690.68 717.92 L690.83 717.2 L690.99 716.48 L691.14 715.76 L691.3 715.03 L691.45 714.31 L691.61 713.58 L691.76 712.86 L691.92 712.13 L692.07 711.4 L692.23 710.66 L692.39 709.93 L692.54 709.19 L692.7 708.46 L692.86 707.72 L693.01 706.98 L693.17 706.24 L693.33 705.49 L693.49 704.75 L693.64 704 L693.8 703.25 L693.89 702.84 M695.14 696.84 L695.23 696.45 L695.38 695.68 L695.54 694.92 L695.7 694.15 L695.86 693.38 L696.02 692.61 L696.18 691.83 L696.34 691.06 L696.5 690.28 L696.66 689.5 L696.82 688.72 L696.98 687.94 L697.14 687.16 L697.3 686.37 L697.46 685.59 L697.62 684.8 L697.78 684.01 L697.95 683.21 L698.11 682.42 L698.27 681.62 L698.43 680.84 M699.63 674.84 L699.72 674.37 L699.89 673.56 L700.05 672.74 L700.21 671.92 L700.37 671.1 L700.54 670.28 L700.7 669.46 L700.86 668.63 L701.02 667.8 L701.19 666.97 L701.35 666.14 L701.51 665.3 L701.68 664.47 L701.84 663.63 L702 662.79 L702.17 661.95 L702.33 661.1 L702.49 660.25 L702.66 659.4 L702.77 658.84 M703.91 652.84 L703.97 652.54 L704.13 651.67 L704.3 650.8 L704.46 649.93 L704.63 649.05 L704.79 648.18 L704.96 647.3 L705.12 646.42 L705.29 645.53 L705.45 644.65 L705.61 643.76 L705.78 642.87 L705.94 641.98 L706.11 641.08 L706.27 640.18 L706.44 639.28 L706.6 638.38 L706.77 637.48 L706.88 636.84 M707.96 630.84 L708.08 630.16 L708.25 629.23 L708.41 628.3 L708.58 627.37 L708.74 626.44 L708.91 625.5 L709.07 624.56 L709.23 623.62 L709.4 622.68 L709.56 621.73 L709.73 620.78 L709.89 619.83 L710.05 618.88 L710.22 617.92 L710.38 616.96 L710.54 616 L710.71 615.04 L710.74 614.84 M711.74 608.84 L711.85 608.21 L712.01 607.22 L712.17 606.23 L712.34 605.24 L712.5 604.24 L712.66 603.24 L712.82 602.24 L712.98 601.24 L713.14 600.23 L713.3 599.22 L713.47 598.21 L713.63 597.19 L713.79 596.18 L713.95 595.15 L714.11 594.13 L714.27 593.1 L714.31 592.84 M715.22 586.84 L715.38 585.82 L715.53 584.77 L715.69 583.71 L715.85 582.65 L716 581.59 L716.16 580.52 L716.32 579.45 L716.47 578.38 L716.63 577.31 L716.78 576.23 L716.93 575.14 L717.09 574.06 L717.24 572.97 L717.39 571.88 L717.54 570.84 M718.36 564.84 L718.45 564.13 L718.6 563.01 L718.75 561.88 L718.9 560.75 L719.04 559.62 L719.19 558.48 L719.34 557.35 L719.48 556.2 L719.63 555.05 L719.77 553.9 L719.91 552.75 L720.06 551.59 L720.2 550.43 L720.34 549.26 L720.39 548.84 M721.09 542.84 L721.17 542.18 L721.3 540.98 L721.44 539.78 L721.57 538.58 L721.71 537.37 L721.84 536.16 L721.97 534.95 L722.1 533.73 L722.23 532.5 L722.36 531.27 L722.48 530.04 L722.61 528.8 L722.73 527.56 L722.81 526.84 M723.38 520.84 L723.46 520.01 L723.57 518.74 L723.69 517.46 L723.8 516.18 L723.91 514.89 L724.03 513.6 L724.13 512.3 L724.24 511 L724.35 509.69 L724.45 508.37 L724.56 507.06 L724.66 505.73 L724.73 504.84 M725.15 498.84 L725.23 497.69 L725.32 496.33 L725.41 494.97 L725.49 493.6 L725.58 492.22 L725.66 490.84 L725.74 489.46 L725.81 488.06 L725.89 486.67 L725.96 485.26 L726.03 483.86 L726.08 482.84 M726.34 476.84 L726.34 476.73 L726.4 475.28 L726.45 473.83 L726.5 472.38 L726.55 470.92 L726.59 469.45 L726.63 467.97 L726.67 466.49 L726.71 465.01 L726.74 463.51 L726.77 462.01 L726.79 460.84 M726.85 454.84 L726.86 454.42 L726.9 452.88 L727.09 451.33 L727.28 449.77 L727.47 448.21 L727.66 446.64 L727.84 445.07 L728.02 443.48 L728.2 441.89 L728.37 440.29 L728.52 438.84 M729.11 432.84 L729.17 432.19 L729.32 430.55 L729.47 428.89 L729.61 427.23 L729.74 425.57 L729.88 423.89 L730 422.21 L730.12 420.51 L730.24 418.81 L730.35 417.1 L730.37 416.84 M730.71 410.84 L730.74 410.18 L730.82 408.43 L730.9 406.67 L730.97 404.9 L731.03 403.12 L731.09 401.33 L731.14 399.53 L731.18 397.73 L731.22 395.91 L731.24 394.84 M731.29 388.84 L731.29 388.55 L731.28 386.69 L731.27 384.81 L731.25 382.93 L731.22 381.03 L731.18 379.13 L731.13 377.21 L731.07 375.28 L731 373.35 L730.98 372.84 M730.69 366.84 L730.61 365.49 L730.49 363.5 L730.35 361.5 L730.2 359.48 L730.03 357.46 L729.86 355.42 L729.67 353.37 L729.46 351.31 L729.41 350.84 M728.73 344.84 L728.5 342.95 L728.22 340.83 L727.92 338.69 L727.61 336.55 L727.27 334.39 L726.92 332.21 L726.56 330.03 L726.35 328.84 M725.22 322.84 L724.88 321.15 L724.41 318.9 L723.92 316.63 L723.41 314.35 L722.87 312.06 L722.3 309.75 L721.72 307.42 L721.56 306.84 M719.94 300.84 L719.8 300.36 L719.11 297.98 L718.39 295.58 L717.64 293.16 L716.86 290.73 L716.05 288.29 L715.21 285.83 L714.86 284.84 M712.67 278.84 L712.49 278.35 L711.51 275.82 L710.5 273.28 L709.45 270.72 L708.37 268.14 L707.25 265.55 L706.09 262.94 L706.04 262.84 M703.25 256.84 L702.36 255 L701.04 252.31 L699.67 249.61 L698.25 246.89 L696.8 244.16 L695.29 241.4 L694.98 240.84 M691.57 234.84 L690.5 233.01 L688.81 230.18 L687.07 227.32 L685.27 224.45 L683.43 221.55 L681.66 218.84 M677.65 212.84 L677.58 212.74 L675.53 209.76 L673.42 206.76 L671.26 203.74 L669.05 200.69 L666.77 197.62 L666.19 196.84 M661.62 190.84 L659.63 188.27 L657.14 185.11 L654.59 181.92 L651.98 178.7 L649.32 175.46 L648.8 174.84 M643.77 168.84 L640.99 165.59 L638.11 162.24 L635.16 158.86 L632.16 155.46 L629.83 152.84 M624.44 146.84 L622.82 145.06 L619.6 141.53 L616.32 137.97 L612.98 134.38 L609.67 130.84 M604 124.84 L602.63 123.39 L599.07 119.65 L595.45 115.88 L591.77 112.07 L588.64 108.84 M582.8 102.84 L580.4 100.39 L576.5 96.41 L572.53 92.39 L568.51 88.32 L567.04 86.84 M561.08 80.84 L560.29 80.04 L556.08 75.83 L551.82 71.56 L547.49 67.24 L545.09 64.86 M539.09 58.89 L538.64 58.44 L534.11 53.95 L529.51 49.39 L524.85 44.78 L523.09 43.05 M517.09 37.12 L515.3 35.35 L510.41 30.53 L505.44 25.64 L501.09 21.36 M495.09 15.46 L490.05 10.5 L484.74 5.29 L479.34 -0.01 L479.09 -0.25 M473.09 -6.14 L468.24 -10.89 L462.54 -16.48 L457.09 -21.82 M451.09 -27.69 L450.8 -27.98 L444.75 -33.9 L438.58 -39.94 L435.09 -43.35 M429.09 -49.22 L425.83 -52.41 L419.25 -58.85 L413.09 -64.86 M407.09 -70.73 L405.6 -72.19 L398.52 -79.11 L391.25 -86.2 L391.09 -86.36 M385.09 -92.22 L383.8 -93.48 L376.13 -100.97 L369.09 -107.83 M363.09 -113.69 L360.11 -116.6 L351.73 -124.77 L347.09 -129.29 M341.09 -135.14 L334.1 -141.96 L325.09 -150.73 M319.09 -156.57 L315.16 -160.4 L305.12 -170.17 L303.09 -172.15 M297.09 -177.99 L294.65 -180.36 L283.7 -191.01 L281.09 -193.55 M275.09 -199.38 L272.22 -202.18 L260.12 -213.92 L259.09 -214.92 M253.09 -220.75 L247.35 -226.33 L237.09 -236.27 M231.09 -242.09 L219.3 -253.52 L215.09 -257.6 M209.09 -263.41 L203.75 -268.59 L193.09 -278.89 M187.09 -284.7 L186.9 -284.89 L171.09 -300.16 M763.58 744.93 L763.8 744.25 L764.01 743.57 L764.23 742.89 L764.44 742.21 L764.66 741.53 L764.87 740.84 L765.09 740.16 L765.31 739.47 L765.53 738.78 L765.74 738.1 L765.96 737.41 L766.18 736.71 L766.4 736.02 L766.62 735.33 L766.84 734.63 L767.06 733.93 L767.28 733.23 L767.51 732.53 L767.73 731.83 L767.95 731.13 L768.17 730.42 L768.4 729.72 L768.62 729.01 L768.65 728.93 M770.55 722.93 L770.66 722.58 L770.89 721.86 L771.12 721.13 L771.35 720.41 L771.58 719.68 L771.81 718.95 L772.04 718.22 L772.27 717.49 L772.5 716.76 L772.73 716.03 L772.97 715.29 L773.2 714.55 L773.43 713.81 L773.67 713.07 L773.9 712.33 L774.14 711.59 L774.37 710.84 L774.61 710.1 L774.85 709.35 L775.08 708.6 L775.32 707.85 L775.56 707.09 L775.61 706.93 M777.51 700.93 L777.73 700.24 L777.97 699.47 L778.22 698.7 L778.46 697.92 L778.71 697.15 L778.95 696.37 L779.2 695.59 L779.45 694.81 L779.69 694.03 L779.94 693.24 L780.19 692.46 L780.44 691.67 L780.69 690.88 L780.94 690.09 L781.19 689.3 L781.44 688.5 L781.69 687.71 L781.95 686.91 L782.2 686.11 L782.45 685.31 L782.57 684.93 M784.47 678.93 L784.5 678.82 L784.76 678 L785.02 677.18 L785.28 676.36 L785.54 675.53 L785.8 674.7 L786.06 673.88 L786.32 673.04 L786.59 672.21 L786.85 671.38 L787.11 670.54 L787.38 669.7 L787.65 668.86 L787.91 668.02 L788.18 667.17 L788.44 666.32 L788.71 665.47 L788.98 664.62 L789.25 663.77 L789.52 662.93 M791.41 656.93 L791.43 656.86 L791.7 655.99 L791.98 655.12 L792.25 654.24 L792.53 653.36 L792.81 652.48 L793.09 651.59 L793.36 650.71 L793.64 649.82 L793.92 648.93 L794.21 648.03 L794.49 647.14 L794.77 646.24 L795.05 645.34 L795.34 644.44 L795.62 643.53 L795.91 642.62 L796.19 641.71 L796.44 640.93 M798.32 634.93 L798.5 634.35 L798.8 633.42 L799.09 632.48 L799.38 631.54 L799.68 630.6 L799.97 629.66 L800.27 628.72 L800.56 627.77 L800.86 626.82 L801.16 625.87 L801.46 624.91 L801.76 623.96 L802.06 623 L802.36 622.03 L802.66 621.07 L802.96 620.1 L803.27 619.13 L803.33 618.93 M805.2 612.93 L805.41 612.25 L805.72 611.26 L806.04 610.26 L806.35 609.26 L806.66 608.26 L806.97 607.25 L807.29 606.24 L807.6 605.23 L807.92 604.22 L808.23 603.2 L808.55 602.18 L808.87 601.16 L809.19 600.13 L809.51 599.1 L809.83 598.07 L810.15 597.03 L810.18 596.93 M812.04 590.93 L812.1 590.75 L812.42 589.7 L812.75 588.64 L813.08 587.57 L813.41 586.5 L813.74 585.43 L814.08 584.36 L814.41 583.28 L814.74 582.2 L815.08 581.11 L815.41 580.03 L815.75 578.93 L816.09 577.84 L816.43 576.74 L816.77 575.64 L816.99 574.93 M818.83 568.93 L819.17 567.83 L819.52 566.69 L819.86 565.56 L820.21 564.42 L820.56 563.28 L820.91 562.13 L821.27 560.98 L821.62 559.83 L821.97 558.67 L822.33 557.51 L822.68 556.34 L823.04 555.17 L823.4 554 L823.73 552.93 M825.55 546.93 L825.57 546.87 L825.94 545.67 L826.3 544.46 L826.67 543.25 L827.04 542.04 L827.41 540.82 L827.78 539.6 L828.15 538.37 L828.52 537.13 L828.9 535.9 L829.27 534.66 L829.65 533.41 L830.03 532.16 L830.4 530.93 M832.2 524.93 L832.31 524.56 L832.7 523.27 L833.08 521.99 L833.47 520.69 L833.86 519.39 L834.25 518.09 L834.64 516.78 L835.03 515.47 L835.42 514.15 L835.82 512.83 L836.21 511.5 L836.61 510.17 L836.98 508.93 M838.76 502.93 L839.02 502.05 L839.42 500.68 L839.83 499.31 L840.23 497.93 L840.64 496.54 L841.05 495.14 L841.46 493.75 L841.88 492.34 L842.29 490.93 L842.7 489.51 L843.12 488.09 L843.46 486.93 M845.21 480.93 L845.22 480.89 L845.64 479.43 L846.07 477.97 L846.49 476.49 L846.92 475.02 L847.35 473.53 L847.78 472.04 L848.21 470.54 L848.64 469.04 L849.08 467.53 L849.51 466.01 L849.83 464.93 M851.54 458.93 L851.71 458.32 L852.15 456.77 L852.6 455.2 L853.04 453.63 L853.49 452.05 L853.94 450.46 L854.39 448.86 L854.84 447.26 L855.29 445.65 L855.74 444.03 L856.05 442.93 M857.73 436.93 L858.03 435.82 L858.49 434.16 L858.96 432.48 L859.42 430.8 L859.89 429.11 L860.35 427.41 L860.82 425.71 L861.29 423.99 L861.76 422.27 L862.12 420.93 M863.75 414.93 L864.13 413.51 L864.61 411.73 L865.09 409.94 L865.57 408.15 L866.05 406.34 L866.54 404.52 L867.02 402.7 L867.51 400.86 L867.99 399.01 L868.02 398.93 M869.59 392.93 L869.95 391.53 L870.45 389.63 L870.94 387.72 L871.44 385.8 L871.93 383.87 L872.43 381.93 L872.93 379.98 L873.43 378.01 L873.7 376.93 M875.21 370.93 L875.44 370.04 L875.94 368.02 L876.44 365.99 L876.95 363.94 L877.46 361.88 L877.97 359.81 L878.47 357.73 L878.98 355.63 L879.15 354.93 M880.6 348.93 L881.03 347.11 L881.54 344.95 L882.05 342.77 L882.57 340.58 L883.08 338.37 L883.59 336.15 L884.11 333.91 L884.34 332.93 M885.7 326.93 L886.17 324.82 L886.68 322.51 L887.2 320.19 L887.71 317.84 L888.23 315.48 L888.74 313.11 L889.21 310.93 M890.48 304.93 L890.79 303.44 L891.3 300.97 L891.81 298.49 L892.32 296 L892.83 293.48 L893.33 290.94 L893.73 288.93 M895.27 282.93 L895.97 280.6 L896.76 277.97 L897.55 275.31 L898.34 272.63 L899.13 269.93 L899.92 267.21 L900 266.93 M901.72 260.93 L902.29 258.91 L903.08 256.09 L903.87 253.26 L904.65 250.39 L905.44 247.51 L906.14 244.93 M907.73 238.93 L907.79 238.7 L908.57 235.71 L909.34 232.7 L910.12 229.65 L910.89 226.58 L911.65 223.49 L911.79 222.93 M913.24 216.93 L913.93 214.02 L914.67 210.8 L915.41 207.55 L916.15 204.28 L916.88 200.96 L916.89 200.93 M918.17 194.93 L918.31 194.24 L919.01 190.83 L919.71 187.39 L920.39 183.91 L921.06 180.39 L921.33 178.93 M922.43 172.93 L923 169.61 L923.62 165.94 L924.22 162.24 L924.8 158.49 L925.04 156.93 M925.9 150.93 L925.91 150.86 L926.44 146.98 L926.94 143.06 L927.41 139.09 L927.86 135.08 L927.87 134.93 M928.47 128.93 L928.66 126.91 L929.01 122.75 L929.33 118.54 L929.61 114.28 L929.68 112.93 M929.98 106.93 L930.04 105.6 L930.18 101.17 L930.27 96.69 L930.31 92.15 L930.3 90.93 M930.24 84.93 L930.2 82.89 L930.05 78.17 L929.82 73.39 L929.54 68.93 M929.06 62.93 L928.64 58.64 L928.06 53.59 L927.37 48.46 L927.14 46.93 M926.17 40.93 L925.66 37.99 L924.61 32.64 L923.42 27.22 L922.87 24.93 M921.34 18.93 L920.59 16.12 L918.93 10.45 L917.09 4.69 L916.47 2.93 M914.32 -3.07 L912.81 -7.08 L910.36 -13.1 L907.74 -19.07 M904.92 -25.07 L904.75 -25.43 L901.58 -31.74 L898.14 -38.15 L896.47 -41.07 M892.97 -47.07 L890.44 -51.27 L886.15 -57.99 L882.74 -63.07 M878.58 -69.07 L876.68 -71.77 L871.48 -78.84 L866.7 -85.07 M861.95 -91.07 L860.14 -93.35 L854 -100.8 L848.67 -107.07 M843.45 -113.07 L840.77 -116.14 L833.69 -124.04 L829.08 -129.07 M823.54 -135.07 L818.61 -140.35 L810.61 -148.78 L808.4 -151.07 M802.63 -157.07 L802.31 -157.41 L793.7 -166.24 L786.98 -173.07 M781.04 -179.07 L775.54 -184.62 L765.98 -194.19 L765.1 -195.07 M759.1 -201.04 L756.08 -204.04 L745.84 -214.2 L743.1 -216.91 M737.1 -222.84 L735.23 -224.69 L724.22 -235.53 L721.1 -238.6 M715.1 -244.5 L712.8 -246.76 L700.92 -258.42 L699.1 -260.2 M693.1 -266.08 L688.55 -270.54 L677.1 -281.75 M671.1 -287.63 L662.14 -296.39 L655.1 -303.27 M649.1 -309.14 L647.98 -310.24 L633.1 -324.77 M627.1 -330.63 L617.3 -340.19 L611.1 -346.25 M605.1 -352.11 L600.58 -356.52 L589.1 -367.71 M583.1 -373.56 L582.72 -373.93 L567.1 -389.15 M561.1 -395 L545.1 -410.57 M539.1 -416.41 L523.1 -431.97 M840.35 750.17 L840.6 749.49 L840.85 748.81 L841.11 748.13 L841.36 747.44 L841.62 746.76 L841.88 746.07 L842.13 745.38 L842.39 744.69 L842.65 744 L842.91 743.3 L843.16 742.61 L843.42 741.91 L843.68 741.22 L843.94 740.52 L844.21 739.82 L844.47 739.12 L844.73 738.41 L844.99 737.71 L845.26 737 L845.52 736.3 L845.79 735.59 L846.05 734.88 L846.32 734.17 M848.56 728.17 L848.74 727.7 L849.01 726.97 L849.29 726.24 L849.56 725.51 L849.83 724.78 L850.11 724.05 L850.38 723.32 L850.66 722.58 L850.94 721.84 L851.22 721.11 L851.49 720.37 L851.77 719.62 L852.05 718.88 L852.33 718.14 L852.61 717.39 L852.89 716.64 L853.18 715.89 L853.46 715.14 L853.74 714.39 L854.03 713.63 L854.31 712.88 L854.58 712.17 M856.84 706.17 L856.91 706 L857.2 705.22 L857.49 704.45 L857.79 703.67 L858.08 702.89 L858.37 702.11 L858.67 701.33 L858.97 700.55 L859.26 699.76 L859.56 698.98 L859.86 698.19 L860.16 697.4 L860.46 696.6 L860.76 695.81 L861.06 695.01 L861.36 694.22 L861.67 693.42 L861.97 692.61 L862.28 691.81 L862.58 691.01 L862.89 690.2 L862.9 690.17 M865.18 684.17 L865.37 683.67 L865.68 682.85 L865.99 682.02 L866.31 681.19 L866.63 680.36 L866.94 679.53 L867.26 678.7 L867.58 677.86 L867.9 677.02 L868.22 676.18 L868.54 675.34 L868.86 674.5 L869.18 673.65 L869.51 672.8 L869.83 671.95 L870.16 671.1 L870.48 670.24 L870.81 669.39 L871.14 668.53 L871.27 668.17 M873.57 662.17 L873.8 661.58 L874.13 660.7 L874.47 659.82 L874.81 658.93 L875.15 658.05 L875.49 657.16 L875.83 656.27 L876.17 655.38 L876.52 654.48 L876.86 653.59 L877.21 652.69 L877.55 651.79 L877.9 650.88 L878.25 649.98 L878.6 649.07 L878.95 648.16 L879.3 647.24 L879.65 646.33 L879.71 646.17 M882.02 640.17 L882.14 639.85 L882.5 638.91 L882.86 637.97 L883.23 637.03 L883.59 636.09 L883.96 635.14 L884.32 634.19 L884.69 633.24 L885.06 632.29 L885.43 631.33 L885.8 630.37 L886.17 629.41 L886.54 628.45 L886.91 627.48 L887.29 626.51 L887.67 625.54 L888.04 624.56 L888.19 624.17 M890.52 618.17 L890.72 617.66 L891.1 616.66 L891.49 615.66 L891.88 614.66 L892.27 613.65 L892.66 612.64 L893.05 611.63 L893.45 610.61 L893.84 609.59 L894.24 608.57 L894.64 607.55 L895.04 606.52 L895.44 605.49 L895.84 604.46 L896.24 603.42 L896.65 602.38 L896.73 602.17 M899.07 596.17 L899.1 596.07 L899.52 595.01 L899.93 593.95 L900.35 592.88 L900.77 591.81 L901.19 590.73 L901.61 589.65 L902.03 588.57 L902.46 587.48 L902.88 586.39 L903.31 585.3 L903.74 584.2 L904.17 583.11 L904.6 582 L905.03 580.9 L905.31 580.17 M907.66 574.17 L908.1 573.05 L908.55 571.91 L908.99 570.77 L909.44 569.63 L909.89 568.48 L910.34 567.33 L910.8 566.17 L911.25 565.02 L911.71 563.85 L912.17 562.69 L912.63 561.52 L913.09 560.34 L913.55 559.16 L913.94 558.17 M916.3 552.17 L916.37 552 L916.84 550.8 L917.32 549.58 L917.8 548.37 L918.28 547.15 L918.76 545.92 L919.25 544.69 L919.73 543.46 L920.22 542.22 L920.71 540.98 L921.21 539.73 L921.7 538.48 L922.2 537.22 L922.61 536.17 M924.98 530.17 L925.21 529.58 L925.72 528.3 L926.24 527 L926.75 525.7 L927.27 524.4 L927.78 523.09 L928.3 521.77 L928.83 520.46 L929.35 519.13 L929.88 517.8 L930.41 516.47 L930.94 515.13 L931.32 514.17 M933.7 508.17 L934.17 506.98 L934.72 505.6 L935.27 504.21 L935.82 502.83 L936.38 501.43 L936.93 500.03 L937.49 498.63 L938.06 497.21 L938.62 495.8 L939.19 494.37 L939.75 492.94 L940.06 492.17 M942.45 486.17 L942.64 485.7 L943.22 484.24 L943.81 482.77 L944.4 481.29 L944.99 479.8 L945.59 478.31 L946.19 476.81 L946.79 475.31 L947.39 473.79 L948 472.28 L948.61 470.75 L948.84 470.17 M951.24 464.17 L951.7 463.02 L952.32 461.45 L952.95 459.88 L953.59 458.3 L954.22 456.71 L954.86 455.11 L955.5 453.51 L956.15 451.9 L956.8 450.28 L957.45 448.65 L957.64 448.17 M960.05 442.17 L960.09 442.06 L960.76 440.4 L961.43 438.72 L962.11 437.04 L962.79 435.35 L963.47 433.65 L964.15 431.94 L964.84 430.22 L965.54 428.49 L966.23 426.76 L966.47 426.17 M968.88 420.17 L969.06 419.73 L969.78 417.95 L970.5 416.16 L971.22 414.36 L971.95 412.55 L972.68 410.73 L973.41 408.91 L974.15 407.07 L974.9 405.22 L975.32 404.17 M977.74 398.17 L977.92 397.73 L978.68 395.83 L979.45 393.92 L980.23 391.99 L981 390.06 L981.79 388.12 L982.58 386.16 L983.37 384.2 L984.17 382.22 L984.19 382.17 M986.61 376.17 L987.4 374.2 L988.23 372.16 L989.05 370.11 L989.88 368.05 L990.72 365.98 L991.56 363.89 L992.41 361.79 L993.06 360.17 M995.49 354.17 L995.86 353.26 L996.73 351.09 L997.61 348.91 L998.5 346.71 L999.39 344.51 L1000.29 342.28 L1001.19 340.04 L1001.95 338.17 M1004.37 332.17 L1004.87 330.94 L1005.81 328.62 L1006.75 326.29 L1007.7 323.94 L1008.65 321.58 L1009.61 319.2 L1010.58 316.8 L1010.84 316.17 M1013.26 310.17 L1013.53 309.51 L1014.52 307.04 L1015.53 304.55 L1016.54 302.05 L1017.56 299.53 L1018.58 296.98 L1019.62 294.42 L1019.72 294.17 M1022.14 288.17 L1022.77 286.62 L1023.83 283.98 L1024.91 281.32 L1025.99 278.63 L1027.08 275.93 L1028.18 273.2 L1028.59 272.17 M1031.01 266.17 L1031.53 264.88 L1032.66 262.07 L1033.81 259.22 L1034.96 256.36 L1036.12 253.47 L1037.3 250.55 L1037.45 250.17 M1039.86 244.17 L1040.88 241.65 L1042.09 238.63 L1043.31 235.58 L1044.55 232.5 L1045.79 229.4 L1046.28 228.17 M1048.69 222.17 L1049.59 219.91 L1050.88 216.68 L1052.19 213.43 L1053.5 210.14 L1054.83 206.82 L1055.09 206.17 M1057.48 200.17 L1057.52 200.08 L1058.88 196.66 L1060.26 193.2 L1061.65 189.71 L1063.05 186.18 L1063.85 184.17 M1066.23 178.17 L1067.35 175.36 L1068.81 171.68 L1070.28 167.95 L1071.77 164.18 L1072.56 162.17 M1074.93 156.17 L1076.33 152.62 L1077.88 148.67 L1079.45 144.68 L1081.04 140.64 L1081.22 140.17 M1083.57 134.17 L1084.26 132.4 L1085.9 128.21 L1087.56 123.96 L1089.23 119.66 L1089.81 118.17 M1092.14 112.17 L1092.63 110.89 L1094.37 106.41 L1096.12 101.88 L1097.89 97.28 L1098.31 96.17 M1100.62 90.17 L1101.49 87.89 L1103.33 83.09 L1105.18 78.22 L1106.78 74.17 M1109.52 68.17 L1111.85 63.17 L1114.26 58 L1116.7 52.74 L1116.96 52.17 M1119.74 46.17 L1121.67 41.97 L1124.22 36.45 L1126.79 30.84 L1127.09 30.17 M1129.84 24.17 L1132.05 19.31 L1134.74 13.4 L1137.11 8.17 M1139.81 2.17 L1140.23 1.24 L1143.04 -5.01 L1145.89 -11.38 L1146.98 -13.83 M1149.64 -19.83 L1151.72 -24.51 L1154.7 -31.28 L1156.69 -35.83 M1159.31 -41.83 L1160.79 -45.23 L1163.91 -52.44 L1166.22 -57.83 M1168.79 -63.83 L1170.29 -67.35 L1173.55 -75.06 L1175.55 -79.83 M1178.06 -85.83 L1180.23 -91.05 L1183.64 -99.35 L1184.65 -101.83 M1187.09 -107.83 L1187.11 -107.86 L1190.62 -116.59 L1193.49 -123.83 M1195.85 -129.83 L1197.79 -134.79 L1201.44 -144.28 L1202.03 -145.83 M1204.3 -151.83 L1205.14 -154.05 L1208.87 -164.11 L1210.22 -167.83 M1212.39 -173.83 L1212.64 -174.5 L1216.43 -185.22 L1218.01 -189.83 M1220.08 -195.83 L1220.24 -196.29 L1224.05 -207.75 L1225.36 -211.83 M1227.28 -217.83 L1227.86 -219.62 L1231.63 -231.93 L1232.18 -233.83 M1233.92 -239.83 L1235.35 -244.72 L1238.38 -255.83 M1239.94 -261.83 L1242.47 -271.84 L1243.84 -277.83 M1245.21 -283.83 L1245.77 -286.27 L1248.5 -299.83 M1249.56 -305.83 L1251.46 -317.12 L1252.08 -321.83 M1252.86 -327.83 L1253.62 -333.65 L1254.48 -343.83 M1254.99 -349.83 L1255.09 -351 L1255.52 -365.83 M1255.52 -371.83 L1254.9 -387.83 M1254.23 -393.83 L1252.42 -408.76 L1252.18 -409.83 M1250.85 -415.83 L1247.67 -430.18 L1247.11 -431.83 M1245.05 -437.83 L1239.92 -452.83 L1239.44 -453.83 M1236.56 -459.83 L1228.87 -475.83 M1225.25 -481.83 L1215.2 -497.83 M1211.2 -503.83 L1198.92 -519.83 M1194.32 -525.83 L1191.75 -529.18 L1180.62 -541.83 M1175.34 -547.83 L1166.27 -558.14 L1160.83 -563.83 M1155.1 -569.83 L1139.82 -585.83" stroke="#d48a8a" stroke-width="1" fill="none"/>
<path d="M34.49 772.91 L39.66 766.15 L41.14 764.21 M43.21 761.51 L44.83 759.38 L49.86 752.81 M51.93 750.11 L55.19 745.86 L58.59 741.41 M60.66 738.71 L65.55 732.34 L67.33 730.01 M69.4 727.31 L70.74 725.57 L75.93 718.81 L76.08 718.61 M78.15 715.91 L81.12 712.05 L84.84 707.21 M86.91 704.51 L91.51 698.53 L93.6 695.81 M95.68 693.11 L96.7 691.78 L101.91 685.02 L102.37 684.41 M104.45 681.71 L107.11 678.26 L111.15 673.01 M113.23 670.31 L117.52 664.74 L119.94 661.61 M122.02 658.91 L122.74 657.99 L127.95 651.23 L128.74 650.21 M130.82 647.51 L133.17 644.48 L137.54 638.81 M139.63 636.11 L143.61 630.97 L146.36 627.41 M148.44 624.71 L148.83 624.21 L154.06 617.46 L155.18 616.01 M157.27 613.31 L159.29 610.71 L164.01 604.61 M166.1 601.91 L169.75 597.2 L172.84 593.21 M174.94 590.51 L174.99 590.45 L180.23 583.7 L181.69 581.81 M183.79 579.11 L185.47 576.94 L190.54 570.41 M192.64 567.71 L195.96 563.44 L199.4 559.01 M201.5 556.31 L206.46 549.94 L208.27 547.61 M210.38 544.91 L211.71 543.19 L216.97 536.45 L217.15 536.21 M219.25 533.51 L222.23 529.7 L226.04 524.81 M228.14 522.11 L232.75 516.2 L234.93 513.41 M237.04 510.71 L238.02 509.45 L243.29 502.71 L243.83 502.01 M245.94 499.31 L248.56 495.96 L252.74 490.61 M254.85 487.91 L259.1 482.47 L261.65 479.21 M263.77 476.51 L264.38 475.72 L269.66 468.98 L270.58 467.81 M272.69 465.11 L274.94 462.24 L279.51 456.41 M281.62 453.71 L285.52 448.75 L288.45 445.01 M290.56 442.31 L290.81 442 L296.1 435.26 L297.39 433.61 M299.51 430.91 L301.39 428.52 L306.35 422.21 M308.47 419.51 L311.99 415.04 L315.31 410.81 M317.43 408.11 L322.59 401.55 L324.28 399.41 M326.4 396.71 L327.9 394.81 L333.21 388.07 L333.25 388.01 M335.38 385.31 L338.52 381.33 L342.24 376.61 M344.37 373.91 L349.14 367.85 L351.23 365.21 M353.36 362.51 L354.46 361.11 L359.78 354.38 L360.23 353.81 M362.36 351.11 L365.1 347.64 L369.23 342.41 M371.37 339.71 L375.75 334.16 L378.25 331.01 M380.38 328.31 L381.08 327.43 L386.41 320.69 L387.27 319.61 M389.4 316.91 L391.75 313.95 L396.29 308.21 M398.43 305.51 L402.42 300.48 L405.33 296.81 M407.47 294.11 L407.76 293.75 L413.1 287.01 L414.37 285.41 M416.51 282.71 L418.44 280.28 L423.42 274.01 M425.56 271.31 L429.14 266.81 L432.47 262.61 M434.62 259.91 L439.84 253.34 L441.54 251.21 M443.68 248.51 L445.2 246.61 L450.56 239.88 L450.61 239.81 M452.76 237.11 L455.92 233.14 L459.68 228.41 M461.83 225.71 L466.64 219.68 L468.77 217.01 M470.92 214.31 L472.01 212.95 L477.38 206.22 L477.86 205.61 M480.01 202.91 L482.75 199.49 L486.96 194.21 M489.11 191.51 L493.49 186.03 L496.06 182.81 M498.22 180.11 L498.87 179.3 L504.25 172.57 L505.17 171.41 M507.33 168.71 L509.63 165.84 L514.29 160.01 M516.45 157.31 L520.4 152.38 L523.42 148.61 M525.58 145.91 L525.79 145.65 L531.18 138.92 L532.55 137.21 M534.71 134.51 L536.57 132.2 L541.69 125.81 M543.85 123.11 L547.36 118.74 L550.83 114.41 M553 111.71 L558.16 105.29 L559.98 103.01 M562.15 100.31 L563.56 98.56 L568.96 91.84 L569.14 91.61 M571.31 88.91 L574.37 85.11 L578.31 80.21 M580.48 77.51 L585.19 71.66 L587.48 68.81 M589.65 66.11 L590.6 64.94 L596.01 58.21 L596.66 57.41 M598.83 54.71 L601.43 51.49 L605.84 46.01 M608.02 43.31 L612.27 38.04 L615.03 34.61 M617.21 31.91 L617.69 31.32 L623.12 24.59 L624.23 23.21 M626.41 20.51 L628.54 17.87 L633.44 11.81 M635.62 9.11 L639.4 4.43 L642.65 0.41 M644.83 -2.29 L644.84 -2.3 L650.27 -9.02 L651.86 -10.99 M654.05 -13.69 L655.71 -15.74 L661.09 -22.39 M663.27 -25.09 L666.59 -29.18 L670.32 -33.79 M672.5 -36.49 L677.47 -42.62 L679.55 -45.19 M681.74 -47.89 L682.92 -49.34 L688.37 -56.06 L688.8 -56.59 M690.99 -59.29 L693.82 -62.78 L698.05 -67.99 M700.24 -70.69 L704.73 -76.22 L707.3 -79.39 M709.49 -82.09 L710.18 -82.94 L715.64 -89.66 L716.56 -90.79 M718.76 -93.49 L721.1 -96.38 L725.83 -102.19 M728.02 -104.89 L732.03 -109.81 L735.1 -113.59 M737.3 -116.29 L737.5 -116.53 L742.96 -123.25 L744.38 -124.99 M746.58 -127.69 L748.43 -129.96 L753.67 -136.39 M755.87 -139.09 L759.38 -143.4 L762.96 -147.79 M765.16 -150.49 L770.33 -156.83 L772.26 -159.19 M774.46 -161.89 L775.81 -163.55 L781.3 -170.26 L781.56 -170.59 M783.77 -173.29 L786.78 -176.98 L790.87 -181.99 M793.08 -184.69 L797.75 -190.41 L800.19 -193.39 M802.4 -196.09 L803.24 -197.12 L808.73 -203.84 L809.51 -204.79 M811.72 -207.49 L814.23 -210.55 L818.84 -216.19 M821.05 -218.89 L825.22 -223.98 L828.17 -227.59 M830.38 -230.29 L830.71 -230.69 L836.22 -237.41 L837.51 -238.99 M839.73 -241.69 L841.72 -244.12 L846.86 -250.39 M849.07 -253.09 L852.73 -257.54 L856.21 -261.79 M858.42 -264.49 L863.74 -270.97 L865.57 -273.19 M867.78 -275.89 L869.26 -277.68 L874.77 -284.39 L874.93 -284.59 M877.15 -287.29 L880.28 -291.11 L884.3 -295.99 M886.52 -298.69 L891.32 -304.53 L893.67 -307.39 M895.89 -310.09 L896.84 -311.24 L902.36 -317.95 L903.05 -318.79 M905.28 -321.49 L907.89 -324.66 L912.44 -330.19 M914.66 -332.89 L918.94 -338.08 L921.83 -341.59 M924.06 -344.29 L924.47 -344.79 L930 -351.5 L931.23 -352.99 M933.46 -355.69 L935.54 -358.21 L940.63 -364.39 M942.86 -367.09 L946.61 -371.63 L950.04 -375.79 M952.27 -378.49 L957.69 -385.05 L959.45 -387.19 M961.68 -389.89 L963.23 -391.76 L968.77 -398.46 L968.87 -398.59 M971.11 -401.29 L974.32 -405.17 L978.3 -409.99 M980.53 -412.69 L985.41 -418.59 L987.73 -421.39 M989.96 -424.09 L990.96 -425.3 L996.52 -432 L997.17 -432.79 M999.4 -435.49 L1002.07 -438.71 L1006.61 -444.19 M1008.85 -446.89 L1013.18 -452.12 L1016.06 -455.59 M1018.29 -458.29 L1018.74 -458.83 L1024.3 -465.54 L1025.51 -466.99 M1027.75 -469.69 L1029.87 -472.24 L1034.97 -478.39 M1037.21 -481.09 L1041 -485.66 L1044.43 -489.79 M1046.67 -492.49 L1052.14 -499.07 L1053.9 -501.19 M1056.14 -503.89 L1057.71 -505.77 L1063.28 -512.48 L1063.37 -512.59 M1065.62 -515.29 L1068.86 -519.18 L1072.85 -523.99 M1075.1 -526.69 L1080.01 -532.59 L1082.34 -535.39 M1084.58 -538.09 L1085.59 -539.3 L1091.17 -546 L1091.83 -546.79 M1094.08 -549.49 L1096.76 -552.71 L1101.32 -558.19 M1103.57 -560.89 L1107.93 -566.11 M93.39 767.52 L98.47 760.74 L99.91 758.82 M101.93 756.12 L103.55 753.96 L108.46 747.42 M110.49 744.72 L113.73 740.4 L117.02 736.02 M119.05 733.32 L123.92 726.84 L125.59 724.62 M127.62 721.92 L129.01 720.07 L134.11 713.29 L134.16 713.22 M136.2 710.52 L139.22 706.51 L142.75 701.82 M144.78 699.12 L149.43 692.96 L151.35 690.42 M153.38 687.72 L154.54 686.19 L159.66 679.41 L159.95 679.02 M161.99 676.32 L164.77 672.64 L168.56 667.62 M170.61 664.92 L175.02 659.09 L177.19 656.22 M179.23 653.52 L180.14 652.32 L185.27 645.55 L185.82 644.82 M187.86 642.12 L190.4 638.78 L194.46 633.42 M196.51 630.72 L200.67 625.24 L203.11 622.02 M205.16 619.32 L205.81 618.47 L210.95 611.7 L211.77 610.62 M213.82 607.92 L216.1 604.93 L220.43 599.22 M222.49 596.52 L226.39 591.39 L229.11 587.82 M231.17 585.12 L231.55 584.62 L236.7 577.86 L237.8 576.42 M239.85 573.72 L241.86 571.09 L246.49 565.02 M248.55 562.32 L252.18 557.56 L255.19 553.62 M257.25 550.92 L257.35 550.8 L262.52 544.03 L263.9 542.22 M265.97 539.52 L267.69 537.27 L272.62 530.82 M274.69 528.12 L278.04 523.74 L281.35 519.42 M283.42 516.72 L288.4 510.22 L290.08 508.02 M292.15 505.32 L293.59 503.46 L298.77 496.7 L298.83 496.62 M300.9 493.92 L303.96 489.94 L307.58 485.22 M309.66 482.52 L314.35 476.42 L316.34 473.82 M318.42 471.12 L319.55 469.66 L324.75 462.9 L325.11 462.42 M327.19 459.72 L329.95 456.14 L333.89 451.02 M335.97 448.32 L340.36 442.63 L342.68 439.62 M344.76 436.92 L345.57 435.87 L350.78 429.11 L351.47 428.22 M353.56 425.52 L356 422.36 L360.27 416.82 M362.36 414.12 L366.44 408.85 L369.09 405.42 M371.17 402.72 L371.66 402.09 L376.89 395.34 L377.9 394.02 M379.99 391.32 L382.11 388.58 L386.73 382.62 M388.82 379.92 L392.58 375.08 L395.57 371.22 M397.66 368.52 L397.81 368.33 L403.05 361.57 L404.41 359.82 M406.51 357.12 L408.29 354.82 L413.26 348.42 M415.36 345.72 L418.78 341.32 L422.12 337.02 M424.22 334.32 L429.28 327.82 L430.99 325.62 M433.09 322.92 L434.53 321.07 L439.78 314.32 L439.86 314.22 M441.96 311.52 L445.04 307.57 L448.74 302.82 M450.85 300.12 L455.56 294.08 L457.63 291.42 M459.74 288.72 L460.83 287.33 L466.09 280.58 L466.53 280.02 M468.64 277.32 L471.36 273.84 L475.44 268.62 M477.55 265.92 L481.91 260.35 L484.35 257.22 M486.47 254.52 L487.19 253.6 L492.47 246.86 L493.27 245.82 M495.39 243.12 L497.75 240.11 L502.2 234.42 M504.32 231.72 L508.32 226.62 L511.14 223.02 M513.26 220.32 L513.61 219.88 L518.9 213.14 L520.08 211.62 M522.2 208.92 L524.19 206.39 L529.04 200.22 M531.16 197.52 L534.78 192.91 L537.99 188.82 M540.12 186.12 L545.38 179.43 L546.96 177.42 M549.09 174.72 L550.69 172.69 L555.94 166.02 M558.06 163.32 L561.31 159.21 L564.92 154.62 M567.05 151.92 L571.93 145.73 L573.91 143.22 M576.04 140.52 L577.25 138.99 L582.57 132.25 L582.9 131.82 M585.03 129.12 L587.89 125.51 L591.91 120.42 M594.04 117.72 L598.54 112.03 L600.92 109.02 M603.05 106.32 L603.86 105.3 L609.19 98.56 L609.93 97.62 M612.07 94.92 L614.52 91.82 L618.96 86.22 M621.1 83.52 L625.2 78.35 L627.99 74.82 M630.13 72.12 L630.53 71.62 L635.87 64.88 L637.03 63.42 M639.17 60.72 L641.22 58.15 L646.08 52.02 M648.22 49.32 L651.91 44.68 L655.13 40.62 M657.28 37.92 L662.61 31.21 L664.19 29.22 M666.34 26.52 L667.97 24.48 L673.26 17.82 M675.41 15.12 L678.68 11.01 L682.34 6.42 M684.49 3.72 L689.41 -2.45 L691.42 -4.98 M693.57 -7.68 L694.77 -9.18 L700.14 -15.91 L700.51 -16.38 M702.66 -19.08 L705.51 -22.64 L709.6 -27.78 M711.76 -30.48 L716.25 -36.11 L718.71 -39.18 M720.86 -41.88 L721.63 -42.84 L727.01 -49.57 L727.82 -50.58 M729.97 -53.28 L732.39 -56.29 L736.93 -61.98 M739.09 -64.68 L743.15 -69.75 L746.05 -73.38 M748.22 -76.08 L748.54 -76.48 L753.93 -83.21 L755.18 -84.78 M757.35 -87.48 L759.32 -89.94 L764.32 -96.18 M766.49 -98.88 L770.11 -103.39 L773.46 -107.58 M775.63 -110.28 L780.9 -116.84 L782.61 -118.98 M784.78 -121.68 L786.3 -123.57 L791.71 -130.3 L791.77 -130.38 M793.94 -133.08 L797.11 -137.02 L800.93 -141.78 M803.11 -144.48 L807.93 -150.47 L810.1 -153.18 M812.28 -155.88 L813.34 -157.2 L818.75 -163.92 L819.28 -164.58 M821.46 -167.28 L824.17 -170.65 L828.46 -175.98 M830.64 -178.68 L835.01 -184.09 L837.65 -187.38 M839.83 -190.08 L840.43 -190.82 L845.85 -197.54 L846.85 -198.78 M849.03 -201.48 L851.28 -204.26 L856.05 -210.18 M858.23 -212.88 L862.14 -217.71 L865.26 -221.58 M867.44 -224.28 L867.57 -224.43 L873 -231.15 L874.48 -232.98 M876.66 -235.68 L878.44 -237.87 L883.7 -244.38 M885.88 -247.08 L889.32 -251.32 L892.93 -255.78 M895.11 -258.48 L900.2 -264.76 L902.16 -267.18 M904.35 -269.88 L905.65 -271.48 L911.09 -278.2 L911.4 -278.58 M913.59 -281.28 L916.54 -284.92 L920.65 -289.98 M922.84 -292.68 L927.45 -298.36 L929.9 -301.38 M932.09 -304.08 L932.91 -305.08 L938.36 -311.79 L939.16 -312.78 M941.36 -315.48 L943.82 -318.51 L948.43 -324.18 M950.62 -326.88 L954.75 -331.95 L957.7 -335.58 M959.9 -338.28 L960.21 -338.67 L965.68 -345.38 L966.98 -346.98 M969.18 -349.68 L971.15 -352.1 L976.26 -358.38 M978.46 -361.08 L982.09 -365.54 L985.55 -369.78 M987.75 -372.48 L993.05 -378.97 L994.85 -381.18 M997.05 -383.88 L998.52 -385.68 L1004.01 -392.4 L1004.15 -392.58 M1006.35 -395.28 L1009.49 -399.12 L1013.46 -403.98 M1015.66 -406.68 L1020.46 -412.55 L1022.77 -415.38 M1024.98 -418.08 L1025.95 -419.26 L1031.44 -425.98 L1032.09 -426.78 M1034.3 -429.48 L1036.93 -432.69 L1041.42 -438.18 M1043.63 -440.88 L1047.92 -446.12 L1050.75 -449.58 M1052.96 -452.28 L1053.42 -452.83 L1058.92 -459.55 L1060.09 -460.98 M1062.3 -463.68 L1064.42 -466.26 L1069.43 -472.38 M1071.65 -475.08 L1075.43 -479.68 L1078.78 -483.78 M1081 -486.48 L1086.44 -493.11 L1088.14 -495.18 M1090.36 -497.88 L1091.95 -499.82 L1097.46 -506.53 L1097.5 -506.58 M1099.72 -509.28 L1102.98 -513.25 L1106.87 -517.98 M1109.09 -520.68 L1114.01 -526.67 L1116.24 -529.38 M1118.46 -532.08 L1119.53 -533.38 L1125.05 -540.09 L1125.62 -540.78 M1127.84 -543.48 L1130.58 -546.8 L1135 -552.18 M1137.23 -554.88 L1141.63 -560.22 L1144.39 -563.58 M1146.62 -566.28 L1147.16 -566.93 L1152.69 -573.64 M155.33 762.74 L160.31 755.94 L161.7 754.04 M163.68 751.34 L165.3 749.14 L170.06 742.64 M172.05 739.94 L175.28 735.54 L178.43 731.24 M180.42 728.54 L185.27 721.94 L186.82 719.84 M188.8 717.14 L190.27 715.15 L195.21 708.44 M197.2 705.74 L200.28 701.55 L203.61 697.04 M205.6 694.34 L210.31 687.96 L212.02 685.64 M214.01 682.94 L215.32 681.17 L220.34 674.38 L220.44 674.24 M222.44 671.54 L225.37 667.58 L228.87 662.84 M230.87 660.14 L235.42 654 L237.32 651.44 M239.32 648.74 L240.45 647.21 L245.49 640.42 L245.77 640.04 M247.77 637.34 L250.52 633.63 L254.23 628.64 M256.23 625.94 L260.61 620.05 L262.7 617.24 M264.7 614.54 L265.66 613.26 L270.71 606.47 L271.18 605.84 M273.19 603.14 L275.76 599.69 L279.67 594.44 M281.68 591.74 L285.87 586.12 L288.17 583.04 M290.18 580.34 L290.93 579.33 L296 572.55 L296.67 571.64 M298.69 568.94 L301.07 565.76 L305.19 560.24 M307.21 557.54 L311.21 552.2 L313.72 548.84 M315.74 546.14 L316.29 545.42 L321.36 538.63 L322.26 537.44 M324.28 534.74 L326.45 531.85 L330.8 526.04 M332.83 523.34 L336.62 518.29 L339.36 514.64 M341.39 511.94 L341.71 511.51 L346.8 504.74 L347.92 503.24 M349.95 500.54 L351.9 497.96 L356.5 491.84 M358.53 489.14 L362.1 484.4 L365.08 480.44 M367.12 477.74 L367.2 477.63 L372.31 470.85 L373.68 469.04 M375.71 466.34 L377.42 464.08 L382.28 457.64 M384.32 454.94 L387.65 450.53 L390.89 446.24 M392.93 443.54 L397.89 436.98 L399.51 434.84 M401.55 432.14 L403.01 430.21 L408.14 423.44 M410.18 420.74 L413.27 416.66 L416.77 412.04 M418.82 409.34 L423.54 403.12 L425.42 400.64 M427.47 397.94 L428.67 396.35 L433.82 389.58 L434.07 389.24 M436.13 386.54 L438.96 382.81 L442.74 377.84 M444.79 375.14 L449.25 369.28 L451.41 366.44 M453.47 363.74 L454.4 362.51 L459.56 355.74 L460.09 355.04 M462.15 352.34 L464.72 348.98 L468.78 343.64 M470.84 340.94 L475.04 335.45 L477.48 332.24 M479.54 329.54 L480.2 328.68 L485.37 321.92 L486.19 320.84 M488.25 318.14 L490.54 315.15 L494.91 309.44 M496.97 306.74 L500.89 301.63 L503.63 298.04 M505.7 295.34 L506.06 294.86 L511.25 288.1 L512.36 286.64 M514.43 283.94 L516.43 281.34 L521.11 275.24 M523.18 272.54 L526.8 267.82 L529.86 263.84 M531.93 261.14 L531.99 261.06 L537.19 254.3 L538.61 252.44 M540.69 249.74 L542.38 247.54 L547.38 241.04 M549.46 238.34 L552.78 234.02 L556.16 229.64 M558.24 226.94 L563.19 220.51 L564.94 218.24 M567.02 215.54 L568.4 213.75 L573.61 206.99 L573.73 206.84 M575.82 204.14 L578.83 200.24 L582.53 195.44 M584.62 192.74 L589.26 186.73 L591.34 184.04 M593.43 181.34 L594.49 179.97 L599.71 173.22 L600.16 172.64 M602.25 169.94 L604.94 166.46 L608.98 161.24 M611.07 158.54 L615.4 152.96 L617.81 149.84 M619.91 147.14 L620.63 146.21 L625.87 139.45 L626.65 138.44 M628.75 135.74 L631.11 132.7 L635.5 127.04 M637.6 124.34 L641.59 119.2 L644.36 115.64 M646.46 112.94 L646.84 112.45 L652.09 105.7 L653.22 104.24 M655.32 101.54 L657.34 98.95 L662.09 92.84 M664.2 90.14 L667.85 85.45 L670.97 81.44 M673.08 78.74 L673.11 78.7 L678.37 71.96 L679.86 70.04 M681.97 67.34 L683.63 65.21 L688.76 58.64 M690.87 55.94 L694.17 51.71 L697.66 47.24 M699.77 44.54 L704.71 38.22 L706.57 35.84 M708.68 33.14 L709.99 31.48 L715.26 24.73 L715.49 24.44 M717.6 21.74 L720.54 17.99 L724.42 13.04 M726.53 10.34 L731.11 4.5 L733.35 1.64 M735.47 -1.06 L736.4 -2.25 L741.69 -8.99 L742.29 -9.76 M744.41 -12.46 L746.98 -15.73 L751.24 -21.16 M753.36 -23.86 L757.57 -29.22 L760.2 -32.56 M762.32 -35.26 L762.87 -35.96 L768.17 -42.7 L769.16 -43.96 M771.29 -46.66 L773.48 -49.44 L778.13 -55.36 M780.26 -58.06 L784.09 -62.92 L787.11 -66.76 M789.24 -69.46 L789.4 -69.66 L794.71 -76.4 L796.1 -78.16 M798.23 -80.86 L800.03 -83.14 L805.09 -89.56 M807.22 -92.26 L810.66 -96.62 L814.09 -100.96 M816.23 -103.66 L821.31 -110.09 L823.1 -112.36 M825.24 -115.06 L826.64 -116.83 L831.97 -123.57 L832.12 -123.76 M834.25 -126.46 L837.3 -130.3 L841.14 -135.16 M843.28 -137.86 L847.97 -143.78 L850.17 -146.56 M852.31 -149.26 L853.3 -150.51 L858.64 -157.25 L859.21 -157.96 M861.35 -160.66 L863.99 -163.98 L868.25 -169.36 M870.4 -172.06 L874.68 -177.45 L877.3 -180.76 M879.45 -183.46 L880.03 -184.18 L885.38 -190.92 L886.36 -192.16 M888.51 -194.86 L890.73 -197.65 L895.43 -203.56 M897.58 -206.26 L901.44 -211.12 L904.5 -214.96 M906.65 -217.66 L906.8 -217.85 L912.16 -224.58 L913.58 -226.36 M915.73 -229.06 L917.53 -231.31 L922.67 -237.76 M924.82 -240.46 L928.26 -244.78 L931.76 -249.16 M933.91 -251.86 L939.01 -258.24 L940.86 -260.56 M943.02 -263.26 L944.38 -264.97 L949.76 -271.7 L949.97 -271.96 M952.13 -274.66 L955.14 -278.43 L959.08 -283.36 M961.24 -286.06 L965.9 -291.88 L968.2 -294.76 M970.36 -297.46 L971.29 -298.61 L976.67 -305.34 L977.33 -306.16 M979.49 -308.86 L982.06 -312.07 L986.46 -317.56 M988.63 -320.26 L992.85 -325.52 L995.61 -328.96 M997.77 -331.66 L998.25 -332.25 L1003.64 -338.98 L1004.75 -340.36 M1006.92 -343.06 L1009.04 -345.7 L1013.91 -351.76 M1016.08 -354.46 L1019.85 -359.16 L1023.07 -363.16 M1025.24 -365.86 L1025.26 -365.88 L1030.67 -372.61 L1032.24 -374.56 M1034.41 -377.26 L1036.08 -379.33 L1041.41 -385.96 M1043.58 -388.66 L1046.9 -392.78 L1050.59 -397.36 M1052.77 -400.06 L1057.74 -406.23 L1059.78 -408.76 M1061.96 -411.46 L1063.16 -412.95 L1068.58 -419.68 L1068.97 -420.16 M1071.15 -422.86 L1074.01 -426.4 L1078.17 -431.56 M1080.35 -434.26 L1084.86 -439.84 L1087.38 -442.96 M1089.56 -445.66 L1090.29 -446.57 L1095.73 -453.29 L1096.59 -454.36 M1098.78 -457.06 L1101.16 -460.01 L1105.81 -465.76 M1108 -468.46 L1112.04 -473.45 L1115.04 -477.16 M1117.22 -479.86 L1117.48 -480.17 L1122.92 -486.89 L1124.27 -488.56 M1126.46 -491.26 L1128.37 -493.61 L1133.51 -499.96 M1135.7 -502.66 L1139.26 -507.05 L1142.75 -511.36 M1144.94 -514.06 L1150.17 -520.49 L1152 -522.76 M1154.2 -525.46 L1155.62 -527.21 L1161.08 -533.93 L1161.26 -534.16 M1163.46 -536.86 L1166.54 -540.65 L1170.53 -545.56 M1172.72 -548.26 L1177.46 -554.09 L1179.8 -556.96 M1181.99 -559.66 L1182.92 -560.8 L1188.39 -567.52 L1189.07 -568.36 M1191.27 -571.06 L1193.86 -574.24 L1198.35 -579.76 M220.58 758.68 L225.46 751.85 L226.8 749.98 M228.73 747.28 L230.33 745.03 L234.95 738.58 M236.88 735.88 L240.1 731.38 L243.12 727.18 M245.05 724.48 L249.88 717.74 L251.29 715.78 M253.23 713.08 L254.78 710.92 L259.48 704.38 M261.42 701.68 L264.58 697.28 L267.68 692.98 M269.62 690.28 L274.4 683.64 L275.89 681.58 M277.83 678.88 L279.31 676.82 L284.11 670.18 M286.06 667.48 L289.15 663.19 L292.34 658.78 M294.29 656.08 L299 649.57 L300.58 647.38 M302.53 644.68 L303.93 642.75 L308.83 635.98 M310.79 633.28 L313.79 629.13 L317.1 624.58 M319.06 621.88 L323.68 615.51 L325.37 613.18 M327.33 610.48 L328.62 608.7 L333.57 601.89 L333.65 601.78 M335.62 599.08 L338.52 595.08 L341.95 590.38 M343.92 587.68 L348.44 581.47 L350.26 578.98 M352.22 576.28 L353.4 574.66 L358.36 567.86 L358.57 567.58 M360.54 564.88 L363.33 561.05 L366.9 556.18 M368.87 553.48 L373.28 547.45 L375.23 544.78 M377.21 542.08 L378.26 540.64 L383.24 533.84 L383.58 533.38 M385.56 530.68 L388.22 527.04 L391.94 521.98 M393.92 519.28 L398.2 513.44 L400.31 510.58 M402.29 507.88 L403.19 506.64 L408.19 499.84 L408.68 499.18 M410.67 496.48 L413.19 493.05 L417.07 487.78 M419.06 485.08 L423.2 479.45 L425.47 476.38 M427.46 473.68 L428.21 472.66 L433.22 465.86 L433.87 464.98 M435.87 462.28 L438.23 459.07 L442.29 453.58 M444.29 450.88 L448.27 445.48 L450.72 442.18 M452.72 439.48 L453.3 438.69 L458.33 431.9 L459.16 430.78 M461.16 428.08 L463.36 425.11 L467.6 419.38 M469.61 416.68 L473.42 411.53 L476.06 407.98 M478.06 405.28 L478.46 404.74 L483.51 397.95 L484.53 396.58 M486.53 393.88 L488.55 391.16 L493 385.18 M495.01 382.48 L498.65 377.58 L501.49 373.78 M503.5 371.08 L503.71 370.8 L508.76 364.01 L509.98 362.38 M512 359.68 L513.82 357.23 L518.49 350.98 M520.5 348.28 L523.95 343.66 L527 339.58 M529.02 336.88 L529.02 336.87 L534.09 330.09 L535.53 328.18 M537.55 325.48 L539.17 323.31 L544.06 316.78 M546.08 314.08 L549.32 309.75 L552.6 305.38 M554.63 302.68 L559.49 296.19 L561.15 293.98 M563.18 291.28 L564.58 289.41 L569.67 282.63 L569.71 282.58 M571.74 279.88 L574.77 275.85 L578.29 271.18 M580.32 268.48 L584.97 262.3 L586.86 259.78 M588.9 257.08 L590.07 255.52 L595.18 248.74 L595.45 248.38 M597.49 245.68 L600.28 241.97 L604.05 236.98 M606.09 234.28 L610.51 228.42 L612.66 225.58 M614.7 222.88 L615.63 221.64 L620.75 214.87 L621.27 214.18 M623.32 211.48 L625.87 208.1 L629.9 202.78 M631.94 200.08 L636.12 194.55 L638.53 191.38 M640.58 188.68 L641.26 187.78 L646.39 181.01 L647.18 179.98 M649.22 177.28 L651.53 174.24 L655.83 168.58 M657.88 165.88 L661.81 160.7 L664.49 157.18 M666.54 154.48 L666.95 153.93 L672.1 147.17 L673.16 145.78 M675.21 143.08 L677.25 140.4 L681.84 134.38 M683.89 131.68 L687.56 126.86 L690.52 122.98 M692.58 120.28 L692.72 120.1 L697.88 113.33 L699.22 111.58 M701.28 108.88 L703.04 106.57 L707.92 100.18 M709.98 97.48 L713.37 93.04 L716.63 88.78 M718.7 86.08 L723.72 79.51 L725.36 77.38 M727.42 74.68 L728.9 72.75 L734.08 65.99 L734.08 65.98 M736.15 63.28 L739.26 59.23 L742.82 54.58 M744.89 51.88 L749.63 45.7 L751.57 43.18 M753.64 40.48 L754.82 38.94 L760.01 32.18 L760.32 31.78 M762.4 29.08 L765.21 25.42 L769.09 20.38 M771.17 17.68 L775.6 11.91 L777.86 8.98 M779.94 6.28 L780.81 5.15 L786.01 -1.61 L786.64 -2.42 M788.72 -5.12 L791.22 -8.37 L795.43 -13.82 M797.51 -16.52 L801.64 -21.88 L804.23 -25.22 M806.31 -27.92 L806.86 -28.64 L812.08 -35.39 L813.03 -36.62 M815.12 -39.32 L817.3 -42.15 L821.84 -48.02 M823.93 -50.72 L827.75 -55.65 L830.66 -59.42 M832.75 -62.12 L832.97 -62.41 L838.2 -69.16 L839.49 -70.82 M841.59 -73.52 L843.44 -75.91 L848.33 -82.22 M850.42 -84.92 L853.91 -89.42 L857.18 -93.62 M859.27 -96.32 L864.39 -102.92 L866.03 -105.02 M868.13 -107.72 L869.64 -109.67 L874.89 -116.42 L874.89 -116.42 M876.99 -119.12 L880.14 -123.17 L883.76 -127.82 M885.86 -130.52 L890.64 -136.67 L892.64 -139.22 M894.74 -141.92 L895.9 -143.42 L901.16 -150.17 L901.52 -150.62 M903.63 -153.32 L906.42 -156.91 L910.41 -162.02 M912.52 -164.72 L916.96 -170.41 L919.31 -173.42 M921.42 -176.12 L922.23 -177.15 L927.5 -183.9 L928.22 -184.82 M930.33 -187.52 L932.77 -190.65 L937.14 -196.22 M939.25 -198.92 L943.33 -204.14 L946.06 -207.62 M948.17 -210.32 L948.61 -210.88 L953.89 -217.62 L954.99 -219.02 M957.11 -221.72 L959.18 -224.37 L963.93 -230.42 M966.05 -233.12 L969.76 -237.85 L972.87 -241.82 M974.99 -244.52 L975.05 -244.6 L980.35 -251.34 L981.83 -253.22 M983.95 -255.92 L985.64 -258.08 L990.79 -264.62 M992.91 -267.32 L996.25 -271.56 L999.76 -276.02 M1001.88 -278.72 L1006.86 -285.05 L1008.73 -287.42 M1010.86 -290.12 L1012.17 -291.79 L1017.48 -298.52 L1017.72 -298.82 M1019.85 -301.52 L1022.79 -305.26 L1026.71 -310.22 M1028.84 -312.92 L1033.43 -318.74 L1035.71 -321.62 M1037.84 -324.32 L1038.75 -325.48 L1044.07 -332.22 L1044.71 -333.02 M1046.85 -335.72 L1049.4 -338.96 L1053.72 -344.42 M1055.86 -347.12 L1060.06 -352.43 L1062.74 -355.82 M1064.88 -358.52 L1065.39 -359.17 L1070.72 -365.9 L1071.77 -367.22 M1073.91 -369.92 L1076.06 -372.64 L1080.81 -378.62 M1082.95 -381.32 L1086.74 -386.11 L1089.85 -390.02 M1091.99 -392.72 L1092.08 -392.84 L1097.43 -399.58 L1098.9 -401.42 M1101.04 -404.12 L1102.78 -406.31 L1107.95 -412.82 M1110.1 -415.52 L1113.48 -419.78 L1117.01 -424.22 M1119.16 -426.92 L1124.19 -433.24 L1126.08 -435.62 M1128.23 -438.32 L1129.55 -439.98 L1134.91 -446.71 L1135.16 -447.02 M1137.31 -449.72 L1140.27 -453.44 L1144.24 -458.42 M1146.4 -461.12 L1151 -466.9 L1153.33 -469.82 M1155.49 -472.52 L1156.37 -473.63 L1161.75 -480.36 L1162.43 -481.22 M1164.59 -483.92 L1167.12 -487.1 L1171.54 -492.62 M1173.69 -495.32 L1177.87 -500.55 L1180.65 -504.02 M1182.81 -506.72 L1183.25 -507.28 L1188.64 -514.01 L1189.77 -515.42 M1191.93 -518.12 L1194.02 -520.74 L1198.89 -526.82 M1201.05 -529.52 L1204.8 -534.2 L1208.02 -538.22 M1210.19 -540.92 L1210.19 -540.93 L1215.58 -547.65 L1217.16 -549.62 M1219.33 -552.32 L1220.97 -554.38 L1226.31 -561.02 M1228.47 -563.72 L1231.77 -567.83 L1235.46 -572.42 M1237.63 -575.12 L1242.58 -581.29 L1244.62 -583.82 M1246.79 -586.52 L1247.98 -588.01 M289.46 755.45 L294.21 748.6 L295.5 746.75 M297.37 744.05 L298.98 741.74 L303.42 735.35 M305.3 732.65 L308.51 728.04 L311.36 723.95 M313.24 721.25 L313.28 721.19 L318.06 714.35 L319.31 712.55 M321.2 709.85 L322.84 707.5 L327.28 701.15 M329.16 698.45 L332.41 693.81 L335.25 689.75 M337.14 687.05 L337.21 686.96 L342 680.12 L343.24 678.35 M345.13 675.65 L346.8 673.27 L351.24 666.95 M353.13 664.25 L356.41 659.59 L359.25 655.55 M361.15 652.85 L361.22 652.75 L366.03 645.91 L367.27 644.15 M369.17 641.45 L370.85 639.07 L375.3 632.75 M377.21 630.05 L380.49 625.4 L383.35 621.35 M385.26 618.65 L385.32 618.56 L390.15 611.72 L391.41 609.95 M393.32 607.25 L394.99 604.89 L399.48 598.55 M401.39 595.85 L404.67 591.22 L407.56 587.15 M409.47 584.45 L409.52 584.39 L414.36 577.56 L415.65 575.75 M417.57 573.05 L419.22 570.73 L423.75 564.35 M425.68 561.65 L428.93 557.07 L431.87 552.95 M433.79 550.25 L433.8 550.24 L438.66 543.42 L440 541.55 M441.92 538.85 L443.53 536.59 L448.13 530.15 M450.06 527.45 L453.29 522.94 L456.28 518.75 M458.21 516.05 L463.05 509.29 L464.44 507.35 M466.38 504.65 L467.94 502.47 L472.61 495.95 M474.55 493.25 L477.72 488.83 L480.79 484.55 M482.73 481.85 L487.52 475.19 L488.99 473.15 M490.93 470.45 L492.43 468.37 L497.19 461.75 M499.14 459.05 L502.24 454.74 L505.41 450.35 M507.35 447.65 L512.08 441.1 L513.63 438.95 M515.58 436.25 L517 434.29 L521.87 427.55 M523.82 424.85 L526.85 420.66 L530.12 416.15 M532.07 413.45 L536.72 407.04 L538.37 404.75 M540.33 402.05 L541.65 400.23 L546.59 393.42 L546.64 393.35 M548.6 390.65 L551.54 386.61 L554.92 381.95 M556.88 379.25 L561.44 372.99 L563.21 370.55 M565.18 367.85 L566.39 366.18 L571.35 359.38 L571.51 359.15 M573.48 356.45 L576.31 352.57 L579.82 347.75 M581.79 345.05 L586.24 338.96 L588.14 336.35 M590.12 333.65 L591.21 332.16 L596.18 325.35 L596.47 324.95 M598.45 322.25 L601.16 318.55 L604.82 313.55 M606.79 310.85 L611.12 304.95 L613.17 302.15 M615.15 299.45 L616.1 298.15 L621.09 291.35 L621.53 290.75 M623.51 288.05 L626.09 284.55 L629.9 279.35 M631.89 276.65 L636.08 270.95 L638.29 267.95 M640.27 265.25 L641.08 264.15 L646.08 257.36 L646.68 256.55 M648.67 253.85 L651.09 250.56 L655.08 245.15 M657.07 242.45 L661.12 236.97 L663.49 233.75 M665.49 231.05 L666.13 230.18 L671.15 223.38 L671.92 222.35 M673.91 219.65 L676.17 216.59 L680.35 210.95 M682.35 208.25 L686.23 203.01 L688.79 199.55 M690.79 196.85 L691.26 196.22 L696.3 189.42 L697.24 188.15 M699.24 185.45 L701.33 182.64 L705.7 176.75 M707.71 174.05 L711.42 169.06 L714.17 165.35 M716.18 162.65 L716.46 162.27 L721.51 155.48 L722.66 153.95 M724.67 151.25 L726.57 148.7 L731.15 142.55 M733.16 139.85 L736.68 135.12 L739.65 131.15 M741.66 128.45 L741.74 128.34 L746.81 121.56 L748.16 119.75 M750.17 117.05 L751.87 114.77 L756.68 108.35 M758.69 105.65 L762.02 101.21 L765.2 96.95 M767.22 94.25 L772.17 87.64 L773.74 85.55 M775.77 82.85 L777.26 80.86 L782.29 74.15 M784.32 71.45 L787.43 67.3 L790.85 62.75 M792.87 60.05 L797.61 53.74 L799.41 51.35 M801.44 48.65 L802.71 46.97 L807.81 40.19 L807.99 39.95 M810.02 37.25 L812.91 33.41 L816.57 28.55 M818.61 25.85 L823.12 19.86 L825.16 17.15 M827.2 14.45 L828.23 13.09 L833.34 6.31 L833.77 5.75 M835.81 3.05 L838.46 -0.46 L842.38 -5.65 M844.42 -8.35 L848.7 -14.01 L851 -17.05 M853.04 -19.75 L853.82 -20.78 L858.95 -27.55 L859.63 -28.45 M861.67 -31.15 L864.08 -34.33 L868.27 -39.85 M870.31 -42.55 L874.35 -47.87 L876.92 -51.25 M878.96 -53.95 L879.49 -54.64 L884.63 -61.41 L885.57 -62.65 M887.62 -65.35 L889.77 -68.18 L894.24 -74.05 M896.29 -76.75 L900.06 -81.71 L902.91 -85.45 M904.97 -88.15 L905.22 -88.48 L910.37 -95.25 L911.59 -96.85 M913.65 -99.55 L915.53 -102.01 L920.28 -108.25 M922.34 -110.95 L925.85 -115.54 L928.98 -119.65 M931.05 -122.35 L936.18 -129.07 L937.69 -131.05 M939.76 -133.75 L941.35 -135.84 L946.41 -142.45 M948.48 -145.15 L951.7 -149.36 L955.14 -153.85 M957.2 -156.55 L962.06 -162.89 L963.87 -165.25 M965.94 -167.95 L967.24 -169.65 L972.43 -176.41 L972.61 -176.65 M974.68 -179.35 L977.62 -183.17 L981.36 -188.05 M983.44 -190.75 L988 -196.69 L990.12 -199.45 M992.2 -202.15 L993.2 -203.45 L998.4 -210.21 L998.89 -210.85 M1000.97 -213.55 L1003.6 -216.97 L1007.67 -222.25 M1009.75 -224.95 L1014.01 -230.48 L1016.45 -233.65 M1018.53 -236.35 L1019.22 -237.24 L1024.43 -243.99 L1025.24 -245.05 M1027.33 -247.75 L1029.64 -250.75 L1034.04 -256.45 M1036.13 -259.15 L1040.08 -264.26 L1042.85 -267.85 M1044.94 -270.55 L1045.3 -271.01 L1050.52 -277.77 L1051.67 -279.25 M1053.76 -281.95 L1055.75 -284.52 L1060.5 -290.65 M1062.59 -293.35 L1066.21 -298.03 L1069.33 -302.05 M1071.42 -304.75 L1071.45 -304.78 L1076.68 -311.53 L1078.17 -313.45 M1080.27 -316.15 L1081.92 -318.29 L1087.02 -324.85 M1089.12 -327.55 L1092.41 -331.79 L1095.88 -336.25 M1097.98 -338.95 L1102.9 -345.29 L1104.74 -347.65 M1106.84 -350.35 L1108.16 -352.04 L1113.41 -358.79 L1113.62 -359.05 M1115.72 -361.75 L1118.67 -365.53 L1122.5 -370.45 M1124.6 -373.15 L1129.19 -379.03 L1131.39 -381.85 M1133.49 -384.55 L1134.45 -385.78 L1139.72 -392.53 L1140.28 -393.25 M1142.39 -395.95 L1144.98 -399.27 L1149.19 -404.65 M1151.3 -407.35 L1155.53 -412.76 L1158.1 -416.05 M1160.21 -418.75 L1160.8 -419.51 L1166.08 -426.25 L1167.02 -427.45 M1169.13 -430.15 L1171.36 -433 L1175.95 -438.85 M1178.06 -441.55 L1181.93 -446.49 L1184.88 -450.25 M1187 -452.95 L1187.22 -453.23 L1192.51 -459.97 L1193.82 -461.65 M1195.94 -464.35 L1197.8 -466.72 L1202.77 -473.05 M1204.89 -475.75 L1208.39 -480.2 L1211.73 -484.45 M1213.85 -487.15 L1218.99 -493.68 L1220.7 -495.85 M1222.82 -498.55 L1224.3 -500.43 L1229.6 -507.17 L1229.67 -507.25 M1231.79 -509.95 L1234.91 -513.91 L1238.65 -518.65 M1240.78 -521.35 L1245.53 -527.39 L1247.64 -530.05 M1249.76 -532.75 L1250.85 -534.12 L1256.17 -540.86 L1256.63 -541.45 M1258.76 -544.15 L1261.49 -547.6 L1265.63 -552.85 M1267.76 -555.55 L1272.13 -561.08 L1274.64 -564.25 M1276.78 -566.95 L1277.46 -567.81 L1282.79 -574.55 L1283.66 -575.65 M1285.79 -578.35 L1288.12 -581.29 L1292.68 -587.05 M1294.82 -589.75 L1298.79 -594.76 M362.3 753.22 L366.93 746.33 L368.15 744.52 M369.97 741.82 L371.56 739.44 L375.83 733.12 M377.65 730.42 L380.84 725.68 L383.51 721.72 M385.34 719.02 L385.48 718.8 L390.13 711.92 L391.22 710.32 M393.04 707.62 L394.79 705.04 L398.93 698.92 M400.76 696.22 L404.1 691.28 L406.66 687.52 M408.49 684.82 L408.77 684.4 L413.44 677.53 L414.4 676.12 M416.23 673.42 L418.11 670.65 L422.15 664.72 M423.99 662.02 L427.47 656.91 L429.92 653.32 M431.76 650.62 L432.16 650.04 L436.85 643.17 L437.7 641.92 M439.55 639.22 L441.54 636.3 L445.49 630.52 M447.34 627.82 L450.94 622.56 L453.3 619.12 M455.15 616.42 L455.64 615.7 L460.35 608.83 L461.12 607.72 M462.97 605.02 L465.07 601.97 L468.95 596.32 M470.81 593.62 L474.5 588.24 L476.79 584.92 M478.65 582.22 L479.23 581.38 L483.96 574.52 L484.65 573.52 M486.51 570.82 L488.69 567.66 L492.52 562.12 M494.39 559.42 L498.17 553.95 L500.4 550.72 M502.27 548.02 L502.91 547.09 L507.66 540.23 L508.3 539.32 M510.17 536.62 L512.41 533.38 L516.2 527.92 M518.08 525.22 L521.93 519.67 L524.12 516.52 M526 513.82 L526.69 512.82 L531.46 505.97 L532.05 505.12 M533.93 502.42 L536.23 499.12 L540 493.72 M541.88 491.02 L545.78 485.42 L547.95 482.32 M549.84 479.62 L550.56 478.58 L555.35 471.73 L555.92 470.92 M557.81 468.22 L560.14 464.89 L563.9 459.52 M565.79 456.82 L569.73 451.2 L571.89 448.12 M573.79 445.42 L574.53 444.36 L579.33 437.51 L579.89 436.72 M581.79 434.02 L584.14 430.67 L587.91 425.32 M589.81 422.62 L593.77 416.99 L595.94 413.92 M597.84 411.22 L598.59 410.16 L603.41 403.32 L603.98 402.52 M605.88 399.82 L608.24 396.48 L612.03 391.12 M613.94 388.42 L617.9 382.81 L620.09 379.72 M622 377.02 L622.74 375.98 L627.58 369.14 L628.16 368.32 M630.08 365.62 L632.42 362.31 L636.25 356.92 M638.17 354.22 L642.12 348.65 L644.35 345.52 M646.26 342.82 L646.97 341.82 L651.83 334.99 L652.45 334.12 M654.38 331.42 L656.69 328.16 L660.57 322.72 M662.5 320.02 L666.43 314.51 L668.7 311.32 M670.63 308.62 L671.3 307.68 L676.17 300.86 L676.85 299.92 M678.78 297.22 L681.05 294.03 L685 288.52 M686.93 285.82 L690.82 280.39 L693.16 277.12 M695.1 274.42 L695.71 273.57 L700.6 266.74 L701.34 265.72 M703.28 263.02 L705.5 259.92 L709.53 254.32 M711.47 251.62 L715.3 246.29 L717.72 242.92 M719.67 240.22 L720.2 239.47 L725.11 232.65 L725.93 231.52 M727.88 228.82 L730.03 225.83 L734.15 220.12 M736.1 217.42 L739.86 212.2 L742.38 208.72 M744.33 206.02 L744.79 205.39 L749.71 198.58 L750.62 197.32 M752.58 194.62 L754.64 191.76 L758.88 185.92 M760.83 183.22 L764.51 178.14 L767.14 174.52 M769.1 171.82 L769.45 171.33 L774.39 164.52 L775.41 163.12 M777.37 160.42 L779.34 157.71 L783.69 151.72 M785.66 149.02 L789.24 144.09 L791.99 140.32 M793.95 137.62 L794.19 137.29 L799.15 130.48 L800.29 128.92 M802.26 126.22 L804.11 123.67 L808.61 117.52 M810.58 114.82 L814.05 110.07 L816.93 106.12 M818.91 103.42 L819.02 103.26 L823.99 96.46 L825.27 94.72 M827.25 92.02 L828.97 89.66 L833.62 83.32 M835.59 80.62 L838.94 76.05 L841.97 71.92 M843.95 69.22 L848.91 62.45 L850.34 60.52 M852.32 57.82 L853.91 55.66 L858.71 49.12 M860.7 46.42 L863.9 42.06 L867.1 37.72 M869.09 35.02 L873.91 28.47 L875.5 26.32 M877.49 23.62 L878.92 21.67 L883.91 14.92 M885.9 12.22 L888.95 8.08 L892.32 3.52 M894.32 0.82 L898.99 -5.5 L900.75 -7.88 M902.75 -10.58 L904.01 -12.3 L909.04 -19.09 L909.19 -19.28 M911.19 -21.98 L914.07 -25.88 L917.63 -30.68 M919.63 -33.38 L924.14 -39.46 L926.09 -42.08 M928.09 -44.78 L929.18 -46.25 L934.22 -53.04 L934.55 -53.48 M936.56 -56.18 L939.27 -59.83 L943.03 -64.88 M945.04 -67.58 L949.37 -73.4 L951.51 -76.28 M953.53 -78.98 L954.42 -80.19 L959.48 -86.97 L960.01 -87.68 M962.02 -90.38 L964.54 -93.76 L968.51 -99.08 M970.53 -101.78 L974.67 -107.33 L977.03 -110.48 M979.05 -113.18 L979.74 -114.11 L984.81 -120.89 L985.55 -121.88 M987.57 -124.58 L989.88 -127.67 L994.08 -133.28 M996.11 -135.98 L1000.04 -141.24 L1002.63 -144.68 M1004.65 -147.38 L1005.12 -148.02 L1010.21 -154.8 L1011.18 -156.08 M1013.2 -158.78 L1015.3 -161.58 L1019.74 -167.48 M1021.77 -170.18 L1025.49 -175.13 L1028.31 -178.88 M1030.34 -181.58 L1030.58 -181.91 L1035.68 -188.69 L1036.89 -190.28 M1038.92 -192.98 L1040.79 -195.46 L1045.48 -201.68 M1047.51 -204.38 L1051 -209.02 L1054.07 -213.08 M1056.11 -215.78 L1056.11 -215.79 L1061.23 -222.56 L1062.68 -224.48 M1064.72 -227.18 L1066.35 -229.34 L1071.29 -235.88 M1073.34 -238.58 L1076.59 -242.88 L1079.92 -247.28 M1081.96 -249.98 L1086.84 -256.43 L1088.55 -258.68 M1090.6 -261.38 L1091.97 -263.2 L1097.11 -269.97 L1097.2 -270.08 M1099.24 -272.78 L1102.24 -276.74 L1105.85 -281.48 M1107.9 -284.18 L1112.53 -290.28 L1114.51 -292.88 M1116.56 -295.58 L1117.67 -297.05 L1122.82 -303.81 L1123.18 -304.28 M1125.23 -306.98 L1127.97 -310.58 L1131.85 -315.68 M1133.91 -318.38 L1138.28 -324.12 L1140.54 -327.08 M1142.6 -329.78 L1143.44 -330.88 L1148.6 -337.65 L1149.24 -338.48 M1151.3 -341.18 L1153.76 -344.41 L1157.94 -349.88 M1160 -352.58 L1164.1 -357.94 L1166.65 -361.28 M1168.72 -363.98 L1169.27 -364.7 L1174.44 -371.47 L1175.37 -372.68 M1177.44 -375.38 L1179.62 -378.23 L1184.1 -384.08 M1186.17 -386.78 L1189.98 -391.75 L1192.84 -395.48 M1194.91 -398.18 L1195.16 -398.52 L1200.35 -405.28 L1201.59 -406.88 M1203.66 -409.58 L1205.54 -412.04 L1210.34 -418.28 M1212.42 -420.98 L1215.93 -425.56 L1219.11 -429.68 M1221.18 -432.38 L1226.33 -439.07 L1227.88 -441.08 M1229.96 -443.78 L1231.53 -445.83 L1236.66 -452.48 M1238.74 -455.18 L1241.94 -459.34 L1245.44 -463.88 M1247.53 -466.58 L1252.37 -472.86 L1254.24 -475.28 M1256.33 -477.98 L1257.58 -479.61 L1262.8 -486.37 L1263.05 -486.68 M1265.13 -489.38 L1268.02 -493.12 L1271.86 -498.08 M1273.95 -500.78 L1278.47 -506.63 L1280.68 -509.48 M1282.77 -512.18 L1283.7 -513.39 L1288.93 -520.14 L1289.51 -520.88 M1291.6 -523.58 L1294.16 -526.89 L1298.34 -532.28 M1300.44 -534.98 L1304.64 -540.39 L1307.19 -543.68 M1309.29 -546.38 L1309.88 -547.15 L1315.12 -553.9 L1316.04 -555.08 M1318.14 -557.78 L1320.37 -560.65 L1324.9 -566.48 M1327 -569.18 L1330.86 -574.15 L1333.77 -577.88 M1335.87 -580.58 L1336.12 -580.9 L1341.37 -587.65 L1342.65 -589.28 M1344.75 -591.98 L1346.63 -594.39 L1351.53 -600.68 M439.49 752.15 L443.98 745.22 L445.13 743.45 M446.88 740.75 L448.46 738.3 L452.52 732.05 M454.28 729.35 L457.45 724.46 L459.93 720.65 M461.69 717.95 L461.96 717.54 L466.46 710.62 L467.36 709.25 M469.12 706.55 L470.97 703.7 L474.79 697.85 M476.56 695.15 L480.01 689.87 L482.25 686.45 M484.02 683.75 L484.53 682.96 L489.06 676.04 L489.72 675.05 M491.49 672.35 L493.6 669.13 L497.2 663.65 M498.97 660.95 L502.68 655.31 L504.7 652.25 M506.47 649.55 L507.23 648.41 L511.78 641.5 L512.21 640.85 M513.99 638.15 L516.33 634.6 L519.73 629.45 M521.52 626.75 L525.46 620.79 L527.27 618.05 M529.06 615.35 L530.03 613.89 L534.6 606.99 L534.83 606.65 M536.62 603.95 L539.18 600.09 L542.4 595.25 M544.19 592.55 L548.35 586.29 L549.98 583.85 M551.78 581.15 L552.94 579.4 L557.54 572.5 L557.57 572.45 M559.37 569.75 L562.14 565.61 L565.18 561.05 M566.99 558.35 L571.35 551.83 L572.81 549.65 M574.61 546.95 L575.96 544.94 L580.44 538.25 M582.26 535.55 L585.2 531.16 L588.1 526.85 M589.91 524.15 L594.45 517.39 L595.76 515.45 M597.58 512.75 L599.09 510.51 L603.44 504.05 M605.26 501.35 L608.37 496.74 L611.13 492.65 M612.95 489.95 L613.01 489.86 L617.66 482.98 L618.83 481.25 M620.66 478.55 L622.32 476.1 L626.55 469.85 M628.38 467.15 L631.64 462.35 L634.28 458.45 M636.12 455.75 L636.31 455.47 L640.98 448.6 L642.03 447.05 M643.86 444.35 L645.65 441.72 L649.79 435.65 M651.63 432.95 L655.01 427.98 L657.56 424.25 M659.4 421.55 L659.7 421.11 L664.39 414.24 L665.34 412.85 M667.19 410.15 L669.09 407.37 L673.14 401.45 M674.99 398.75 L678.49 393.64 L680.95 390.05 M682.8 387.35 L683.2 386.77 L687.91 379.91 L688.77 378.65 M690.62 375.95 L692.62 373.04 L696.61 367.25 M698.46 364.55 L702.06 359.32 L704.45 355.85 M706.31 353.15 L706.79 352.46 L711.52 345.6 L712.31 344.45 M714.18 341.75 L716.25 338.74 L720.19 333.05 M722.05 330.35 L725.73 325.02 L728.07 321.65 M729.94 318.95 L730.48 318.17 L735.23 311.31 L735.97 310.25 M737.84 307.55 L739.98 304.46 L743.88 298.85 M745.76 296.15 L749.5 290.76 L751.8 287.45 M753.68 284.75 L754.27 283.9 L759.04 277.05 L759.74 276.05 M761.62 273.35 L763.81 270.21 L767.69 264.65 M769.57 261.95 L773.37 256.51 L775.64 253.25 M777.53 250.55 L778.15 249.66 L782.94 242.82 L783.62 241.85 M785.51 239.15 L787.73 235.97 L791.6 230.45 M793.49 227.75 L797.32 222.29 L799.59 219.05 M801.49 216.35 L802.12 215.44 L806.93 208.6 L807.6 207.65 M809.5 204.95 L811.74 201.76 L815.62 196.25 M817.52 193.55 L821.37 188.09 L823.65 184.85 M825.56 182.15 L826.19 181.25 L831.01 174.41 L831.69 173.45 M833.6 170.75 L835.84 167.58 L839.75 162.05 M841.66 159.35 L845.51 153.91 L847.82 150.65 M849.73 147.95 L850.35 147.07 L855.19 140.24 L855.89 139.25 M857.81 136.55 L860.03 133.41 L863.98 127.85 M865.9 125.15 L869.74 119.75 L872.08 116.45 M874 113.75 L874.59 112.92 L879.45 106.09 L880.19 105.05 M882.12 102.35 L884.32 99.26 L888.32 93.65 M890.24 90.95 L894.05 85.61 L896.45 82.25 M898.38 79.55 L898.93 78.78 L903.8 71.96 L904.6 70.85 M906.53 68.15 L908.68 65.14 L912.75 59.45 M914.69 56.75 L918.45 51.49 L920.92 48.05 M922.86 45.35 L923.35 44.67 L928.24 37.85 L929.1 36.65 M931.04 33.95 L933.14 31.03 L937.29 25.25 M939.23 22.55 L942.94 17.39 L945.49 13.85 M947.44 11.15 L947.85 10.57 L952.76 3.76 L953.71 2.45 M955.65 -0.25 L957.68 -3.06 L961.93 -8.95 M963.88 -11.65 L967.51 -16.69 L970.16 -20.35 M972.11 -23.05 L972.44 -23.5 L977.37 -30.32 L978.41 -31.75 M980.36 -34.45 L982.3 -37.13 L986.66 -43.15 M988.62 -45.85 L992.17 -50.75 L994.93 -54.55 M996.89 -57.25 L997.11 -57.56 L1002.06 -64.37 L1003.21 -65.95 M1005.17 -68.65 L1007 -71.18 L1011.49 -77.35 M1013.46 -80.05 L1016.91 -84.79 L1019.79 -88.75 M1021.76 -91.45 L1021.86 -91.6 L1026.82 -98.41 L1028.1 -100.15 M1030.07 -102.85 L1031.79 -105.21 L1036.42 -111.55 M1038.39 -114.25 L1041.73 -118.82 L1044.75 -122.95 M1046.72 -125.65 L1051.67 -132.42 L1053.09 -134.35 M1055.06 -137.05 L1056.65 -139.23 L1061.44 -145.75 M1063.41 -148.45 L1066.62 -152.83 L1069.8 -157.15 M1071.78 -159.85 L1076.6 -166.43 L1078.17 -168.55 M1080.15 -171.25 L1081.6 -173.22 L1086.55 -179.95 M1088.53 -182.65 L1091.6 -186.82 L1094.94 -191.35 M1096.92 -194.05 L1101.61 -200.41 L1103.34 -202.75 M1105.33 -205.45 L1106.62 -207.21 L1111.64 -214 L1111.75 -214.15 M1113.74 -216.85 L1116.65 -220.8 L1120.17 -225.55 M1122.16 -228.25 L1126.69 -234.38 L1128.6 -236.95 M1130.6 -239.65 L1131.72 -241.17 L1136.75 -247.96 L1137.04 -248.35 M1139.04 -251.05 L1141.78 -254.76 L1145.49 -259.75 M1147.49 -262.45 L1151.85 -268.33 L1153.95 -271.15 M1155.95 -273.85 L1156.9 -275.12 L1161.94 -281.91 L1162.42 -282.55 M1164.42 -285.25 L1166.99 -288.7 L1170.9 -293.95 M1172.9 -296.65 L1177.09 -302.27 L1179.38 -305.35 M1181.4 -308.05 L1182.15 -309.06 L1187.2 -315.84 L1187.88 -316.75 M1189.9 -319.45 L1192.27 -322.63 L1196.39 -328.15 M1198.41 -330.85 L1202.4 -336.2 L1204.91 -339.55 M1206.93 -342.25 L1207.47 -342.98 L1212.54 -349.76 L1213.43 -350.95 M1215.45 -353.65 L1217.62 -356.54 L1221.97 -362.35 M1223.99 -365.05 L1227.78 -370.1 L1230.52 -373.75 M1232.54 -376.45 L1232.86 -376.88 L1237.95 -383.66 L1239.07 -385.15 M1241.1 -387.85 L1243.04 -390.44 L1247.63 -396.55 M1249.66 -399.25 L1253.23 -404 L1256.21 -407.95 M1258.24 -410.65 L1258.33 -410.78 L1263.43 -417.55 L1264.79 -419.35 M1266.82 -422.05 L1268.54 -424.33 L1273.38 -430.75 M1275.42 -433.45 L1278.76 -437.88 L1281.98 -442.15 M1284.02 -444.85 L1288.99 -451.43 L1290.59 -453.55 M1292.63 -456.25 L1294.11 -458.2 L1299.21 -464.95 M1301.25 -467.65 L1304.35 -471.75 L1307.84 -476.35 M1309.88 -479.05 L1314.61 -485.29 L1316.48 -487.75 M1318.52 -490.45 L1319.74 -492.06 L1324.88 -498.83 L1325.12 -499.15 M1327.17 -501.85 L1330.02 -505.6 L1333.78 -510.55 M1335.83 -513.25 L1340.3 -519.14 L1342.44 -521.95 M1344.49 -524.65 L1345.45 -525.91 L1350.6 -532.67 L1351.11 -533.35 M1353.17 -536.05 L1355.75 -539.44 L1359.79 -544.75 M1361.85 -547.45 L1366.06 -552.97 L1368.48 -556.15 M1370.54 -558.85 L1371.22 -559.74 L1376.38 -566.5 L1377.18 -567.55 M1379.24 -570.25 L1381.55 -573.27 L1385.89 -578.95 M1387.95 -581.65 L1391.89 -586.8 L1394.61 -590.35 M1396.67 -593.05 L1397.06 -593.56 L1402.23 -600.32 L1403.33 -601.75 M1405.4 -604.45 L1407.41 -607.09 M521.41 752.45 L525.73 745.48 L526.8 743.75 M528.48 741.05 L530.06 738.51 L533.88 732.35 M535.56 729.65 L538.72 724.58 L540.98 720.95 M542.67 718.25 L543.07 717.61 L547.41 710.65 L548.1 709.55 M549.79 706.85 L551.76 703.69 L555.23 698.15 M556.92 695.45 L560.48 689.77 L562.38 686.75 M564.07 684.05 L564.85 682.81 L569.22 675.86 L569.54 675.35 M571.24 672.65 L573.6 668.9 L576.72 663.95 M578.42 661.25 L582.37 655 L583.92 652.55 M585.62 649.85 L586.77 648.05 L591.13 641.15 M592.84 638.45 L595.57 634.15 L598.36 629.75 M600.07 627.05 L604.39 620.26 L605.6 618.35 M607.32 615.65 L608.8 613.32 L612.86 606.95 M614.58 604.25 L617.65 599.44 L620.13 595.55 M621.86 592.85 L622.09 592.5 L626.52 585.56 L627.42 584.15 M629.15 581.45 L630.96 578.62 L634.73 572.75 M636.46 570.05 L639.86 564.76 L642.05 561.35 M643.79 558.65 L644.32 557.82 L648.78 550.89 L649.39 549.95 M651.13 547.25 L653.25 543.96 L656.74 538.55 M658.48 535.85 L662.19 530.11 L664.1 527.15 M665.85 524.45 L666.67 523.18 L671.16 516.26 L671.48 515.75 M673.24 513.05 L675.65 509.34 L678.88 504.35 M680.63 501.65 L684.64 495.5 L686.29 492.95 M688.05 490.25 L689.14 488.58 L693.65 481.66 L693.72 481.55 M695.48 478.85 L698.16 474.74 L701.16 470.15 M702.92 467.45 L707.2 460.91 L708.61 458.75 M710.38 456.05 L711.73 454 L716.08 447.35 M717.86 444.65 L720.79 440.18 L723.57 435.95 M725.34 433.25 L729.88 426.36 L731.07 424.55 M732.85 421.85 L734.43 419.46 L738.58 413.15 M740.36 410.45 L743.54 405.65 L746.11 401.75 M747.89 399.05 L748.1 398.74 L752.66 391.84 L753.65 390.35 M755.44 387.65 L757.24 384.94 L761.21 378.95 M763 376.25 L766.39 371.15 L768.78 367.55 M770.57 364.85 L770.97 364.25 L775.56 357.35 L776.36 356.15 M778.16 353.45 L780.16 350.46 L783.96 344.75 M785.76 342.05 L789.35 336.67 L791.57 333.35 M793.38 330.65 L793.96 329.78 L798.57 322.89 L799.2 321.95 M801.01 319.25 L803.18 316 L806.84 310.55 M808.65 307.85 L812.43 302.23 L814.49 299.15 M816.31 296.45 L817.05 295.34 L821.68 288.46 L822.16 287.75 M823.98 285.05 L826.32 281.57 L829.84 276.35 M831.66 273.65 L835.6 267.81 L837.53 264.95 M839.36 262.25 L840.25 260.93 L844.9 254.05 L845.24 253.55 M847.07 250.85 L849.56 247.17 L852.96 242.15 M854.79 239.45 L858.88 233.42 L860.69 230.75 M862.53 228.05 L863.55 226.55 L868.22 219.67 L868.44 219.35 M870.28 216.65 L872.9 212.8 L876.2 207.95 M878.04 205.25 L882.27 199.06 L883.97 196.55 M885.82 193.85 L886.96 192.19 L891.65 185.32 L891.76 185.15 M893.61 182.45 L896.35 178.45 L899.56 173.75 M901.41 171.05 L905.75 164.72 L907.37 162.35 M909.22 159.65 L910.46 157.85 L915.17 150.99 L915.2 150.95 M917.05 148.25 L919.89 144.13 L923.04 139.55 M924.89 136.85 L929.33 130.4 L930.89 128.15 M932.75 125.45 L934.06 123.54 L938.75 116.75 M940.61 114.05 L943.53 109.83 L946.62 105.35 M948.49 102.65 L953.02 96.12 L954.51 93.95 M956.38 91.25 L957.76 89.26 L962.41 82.55 M964.29 79.85 L967.27 75.55 L970.33 71.15 M972.2 68.45 L976.79 61.85 L978.25 59.75 M980.13 57.05 L981.56 55 L986.19 48.35 M988.07 45.65 L991.11 41.3 L994.14 36.95 M996.02 34.25 L1000.67 27.61 L1002.1 25.55 M1003.99 22.85 L1005.45 20.76 L1010.08 14.15 M1011.97 11.45 L1015.03 7.07 L1018.06 2.75 M1019.95 0.05 L1024.63 -6.61 L1026.06 -8.65 M1027.96 -11.35 L1029.44 -13.45 L1034.07 -20.05 M1035.97 -22.75 L1039.05 -27.13 L1042.09 -31.45 M1043.99 -34.15 L1048.69 -40.81 L1050.13 -42.85 M1052.03 -45.55 L1053.51 -47.65 L1058.17 -54.25 M1060.08 -56.95 L1063.17 -61.32 L1066.23 -65.65 M1068.14 -68.35 L1072.84 -74.99 L1074.3 -77.05 M1076.21 -79.75 L1077.68 -81.82 L1082.38 -88.45 M1084.29 -91.15 L1087.37 -95.48 L1090.47 -99.85 M1092.39 -102.55 L1097.07 -109.14 L1098.57 -111.25 M1100.49 -113.95 L1101.93 -115.97 L1106.69 -122.65 M1108.61 -125.35 L1111.66 -129.62 L1114.81 -134.05 M1116.74 -136.75 L1121.4 -143.28 L1122.95 -145.45 M1124.88 -148.15 L1126.28 -150.1 L1131.1 -156.85 M1133.03 -159.55 L1136.04 -163.75 L1139.26 -168.25 M1141.19 -170.95 L1145.81 -177.39 L1147.43 -179.65 M1149.37 -182.35 L1150.71 -184.21 L1155.6 -191.03 L1155.61 -191.05 M1157.55 -193.75 L1160.5 -197.85 L1163.81 -202.45 M1165.75 -205.15 L1170.31 -211.49 L1172.01 -213.85 M1173.96 -216.55 L1175.22 -218.3 L1180.13 -225.12 L1180.23 -225.25 M1182.17 -227.95 L1185.05 -231.93 L1188.45 -236.65 M1190.4 -239.35 L1194.89 -245.56 L1196.69 -248.05 M1198.64 -250.75 L1199.82 -252.38 L1204.75 -259.19 L1204.94 -259.45 M1206.89 -262.15 L1209.68 -266 L1213.19 -270.85 M1215.15 -273.55 L1219.56 -279.62 L1221.46 -282.25 M1223.42 -284.95 L1224.5 -286.43 L1229.45 -293.24 L1229.74 -293.65 M1231.71 -296.35 L1234.4 -300.05 L1238.03 -305.05 M1240 -307.75 L1244.3 -313.66 L1246.33 -316.45 M1248.3 -319.15 L1249.26 -320.47 L1254.23 -327.27 L1254.64 -327.85 M1256.61 -330.55 L1259.19 -334.08 L1262.97 -339.25 M1264.94 -341.95 L1269.13 -347.68 L1271.3 -350.65 M1273.27 -353.35 L1274.11 -354.49 L1279.09 -361.29 L1279.64 -362.05 M1281.62 -364.75 L1284.07 -368.09 L1287.99 -373.45 M1289.97 -376.15 L1294.04 -381.69 L1296.36 -384.85 M1298.34 -387.55 L1299.03 -388.49 L1304.02 -395.29 L1304.73 -396.25 M1306.71 -398.95 L1309.02 -402.09 L1313.11 -407.65 M1315.1 -410.35 L1319.03 -415.68 L1321.51 -419.05 M1323.49 -421.75 L1324.03 -422.48 L1329.04 -429.27 L1329.91 -430.45 M1331.9 -433.15 L1334.05 -436.07 L1338.32 -441.85 M1340.32 -444.55 L1344.09 -449.65 L1346.75 -453.25 M1348.74 -455.95 L1349.11 -456.44 L1354.13 -463.24 L1355.18 -464.65 M1357.18 -467.35 L1359.16 -470.03 L1363.62 -476.05 M1365.62 -478.75 L1369.23 -483.61 L1372.07 -487.45 M1374.08 -490.15 L1374.26 -490.4 L1379.3 -497.19 L1380.54 -498.85 M1382.54 -501.55 L1384.35 -503.98 L1389.01 -510.25 M1391.02 -512.95 L1394.44 -517.55 L1397.49 -521.65 M1399.5 -524.35 L1404.55 -531.12 L1405.98 -533.05 M1407.99 -535.75 L1409.61 -537.91 L1414.48 -544.45 M1416.5 -547.15 L1419.73 -551.48 L1422.99 -555.85 M1425.01 -558.55 L1429.87 -565.04 L1431.51 -567.25 M1433.53 -569.95 L1434.94 -571.83 L1440.02 -578.61 L1440.04 -578.65 M1442.07 -581.35 L1445.09 -585.39 L1448.58 -590.05 M1450.61 -592.75 L1455.26 -598.95 L1457.13 -601.45 M1459.16 -604.15 L1460.35 -605.73 L1465.44 -612.51 M608.38 754.37 L612.52 747.35 L613.5 745.67 M615.1 742.97 L616.66 740.32 L620.23 734.27 M621.83 731.57 L624.96 726.28 L626.98 722.87 M628.59 720.17 L629.12 719.26 L633.29 712.25 L633.75 711.47 M635.36 708.77 L637.46 705.23 L640.54 700.07 M642.15 697.37 L645.83 691.21 L647.34 688.67 M648.96 685.97 L650.02 684.2 L654.16 677.27 M655.78 674.57 L658.41 670.18 L661 665.87 M662.62 663.17 L666.83 656.18 L667.86 654.47 M669.49 651.77 L671.05 649.18 L674.74 643.07 M676.37 640.37 L679.5 635.18 L681.63 631.67 M683.26 628.97 L683.74 628.19 L687.98 621.19 L688.54 620.27 M690.18 617.57 L692.23 614.2 L695.47 608.87 M697.11 606.17 L700.74 600.22 L702.41 597.47 M704.06 594.77 L705 593.23 L709.27 586.25 L709.38 586.07 M711.03 583.37 L713.54 579.26 L716.36 574.67 M718.01 571.97 L722.1 565.3 L723.35 563.27 M725.01 560.57 L726.4 558.32 L730.37 551.87 M732.03 549.17 L734.99 544.37 L737.4 540.47 M739.06 537.77 L739.3 537.39 L743.61 530.42 L744.44 529.07 M746.12 526.37 L747.93 523.45 L751.51 517.67 M753.18 514.97 L756.58 509.51 L758.59 506.27 M760.27 503.57 L760.91 502.55 L765.25 495.58 L765.69 494.87 M767.37 492.17 L769.59 488.62 L772.8 483.47 M774.49 480.77 L778.29 474.69 L779.93 472.07 M781.62 469.37 L782.65 467.74 L787.01 460.78 L787.08 460.67 M788.78 457.97 L791.38 453.82 L794.24 449.27 M795.94 446.57 L800.13 439.91 L801.42 437.87 M803.13 435.17 L804.52 432.96 L808.62 426.47 M810.32 423.77 L813.3 419.06 L815.83 415.07 M817.54 412.37 L817.7 412.12 L822.1 405.17 L823.06 403.67 M824.77 400.97 L826.51 398.23 L830.3 392.27 M832.02 389.57 L835.35 384.34 L837.56 380.87 M839.28 378.17 L839.77 377.4 L844.2 370.46 L844.83 369.47 M846.56 366.77 L848.63 363.53 L852.12 358.07 M853.85 355.37 L857.51 349.65 L859.43 346.67 M861.16 343.97 L861.96 342.72 L866.42 335.79 L866.75 335.27 M868.49 332.57 L870.87 328.86 L874.09 323.87 M875.83 321.17 L879.8 315 L881.44 312.47 M883.18 309.77 L884.28 308.07 L888.75 301.15 L888.8 301.07 M890.55 298.37 L893.23 294.23 L896.19 289.67 M897.94 286.97 L902.21 280.38 L903.58 278.27 M905.34 275.57 L906.71 273.46 L910.99 266.87 M912.75 264.17 L915.71 259.62 L918.42 255.47 M920.18 252.77 L920.22 252.71 L924.74 245.79 L925.86 244.07 M927.63 241.37 L929.26 238.88 L933.32 232.67 M935.09 229.97 L938.31 225.06 L940.79 221.27 M942.56 218.57 L942.84 218.15 L947.38 211.24 L948.28 209.87 M950.05 207.17 L951.92 204.33 L955.78 198.47 M957.55 195.77 L961.02 190.52 L963.29 187.07 M965.07 184.37 L965.57 183.61 L970.13 176.71 L970.82 175.67 M972.6 172.97 L974.7 169.81 L978.36 164.27 M980.15 161.57 L983.84 156.01 L985.92 152.87 M987.71 150.17 L988.41 149.11 L993 142.21 L993.49 141.47 M995.29 138.77 L997.58 135.32 L1001.08 130.07 M1002.87 127.37 L1006.77 121.53 L1008.68 118.67 M1010.48 115.97 L1011.37 114.64 L1015.97 107.75 L1016.29 107.27 M1018.09 104.57 L1020.58 100.86 L1023.92 95.87 M1025.72 93.17 L1029.81 87.08 L1031.56 84.47 M1033.37 81.77 L1034.43 80.19 L1039.05 73.31 L1039.21 73.07 M1041.03 70.37 L1043.68 66.42 L1046.88 61.67 M1048.7 58.97 L1052.95 52.66 L1054.56 50.27 M1056.38 47.57 L1057.59 45.78 L1062.24 38.9 L1062.26 38.87 M1064.08 36.17 L1066.89 32.02 L1069.97 27.47 M1071.79 24.77 L1076.2 18.26 L1077.69 16.07 M1079.52 13.37 L1080.87 11.39 L1085.42 4.67 M1087.26 1.97 L1090.2 -2.36 L1093.17 -6.73 M1095.01 -9.43 L1099.56 -16.11 L1100.94 -18.13 M1102.78 -20.83 L1104.24 -22.98 L1108.71 -29.53 M1110.56 -32.23 L1113.62 -36.72 L1116.5 -40.93 M1118.35 -43.63 L1123.01 -50.45 L1124.3 -52.33 M1126.15 -55.03 L1127.72 -57.31 L1132.12 -63.73 M1133.97 -66.43 L1137.14 -71.04 L1139.94 -75.13 M1141.8 -77.83 L1141.85 -77.91 L1146.57 -84.77 L1147.78 -86.53 M1149.64 -89.23 L1151.29 -91.63 L1155.63 -97.93 M1157.5 -100.63 L1160.75 -105.35 L1163.5 -109.33 M1165.36 -112.03 L1165.49 -112.2 L1170.22 -119.06 L1171.38 -120.73 M1173.25 -123.43 L1174.97 -125.92 L1179.27 -132.13 M1181.14 -134.83 L1184.46 -139.62 L1187.17 -143.53 M1189.04 -146.23 L1189.22 -146.48 L1193.98 -153.33 L1195.09 -154.93 M1196.96 -157.63 L1198.74 -160.18 L1203.01 -166.33 M1204.89 -169.03 L1208.27 -173.88 L1210.95 -177.73 M1212.84 -180.43 L1213.05 -180.73 L1217.82 -187.58 L1218.91 -189.13 M1220.79 -191.83 L1222.6 -194.42 L1226.87 -200.53 M1228.76 -203.23 L1232.18 -208.11 L1234.85 -211.93 M1236.74 -214.63 L1236.97 -214.96 L1241.76 -221.8 L1242.84 -223.33 M1244.73 -226.03 L1246.56 -228.64 L1250.84 -234.73 M1252.73 -237.43 L1256.17 -242.32 L1258.85 -246.13 M1260.75 -248.83 L1260.98 -249.16 L1265.8 -256 L1266.87 -257.53 M1268.78 -260.23 L1270.61 -262.84 L1274.91 -268.93 M1276.81 -271.63 L1280.26 -276.51 L1282.96 -280.33 M1284.86 -283.03 L1285.09 -283.35 L1289.92 -290.18 L1291.02 -291.73 M1292.93 -294.43 L1294.76 -297.01 L1299.09 -303.13 M1301 -305.83 L1304.44 -310.68 L1307.17 -314.53 M1309.09 -317.23 L1309.29 -317.51 L1314.14 -324.34 L1315.27 -325.93 M1317.18 -328.63 L1318.99 -331.17 L1323.37 -337.33 M1325.29 -340.03 L1328.71 -344.83 L1331.49 -348.73 M1333.41 -351.43 L1333.57 -351.65 L1338.44 -358.48 L1339.62 -360.13 M1341.54 -362.83 L1343.31 -365.3 L1347.76 -371.53 M1349.69 -374.23 L1353.06 -378.95 L1355.91 -382.93 M1357.84 -385.63 L1357.95 -385.77 L1362.83 -392.6 L1364.07 -394.33 M1366.01 -397.03 L1367.72 -399.42 L1372.25 -405.73 M1374.18 -408.43 L1377.51 -413.06 L1380.43 -417.13 M1382.37 -419.83 L1382.4 -419.88 L1387.31 -426.7 L1388.63 -428.53 M1390.57 -431.23 L1392.21 -433.51 L1396.83 -439.93 M1398.78 -442.63 L1402.03 -447.15 L1405.05 -451.33 M1407 -454.03 L1411.87 -460.78 L1413.28 -462.73 M1415.23 -465.43 L1416.79 -467.59 L1421.52 -474.13 M1423.47 -476.83 L1426.65 -481.21 L1429.77 -485.53 M1431.72 -488.23 L1436.51 -494.84 L1438.03 -496.93 M1439.99 -499.63 L1441.45 -501.65 L1446.3 -508.33 M1448.26 -511.03 L1451.34 -515.26 L1454.58 -519.73 M1456.55 -522.43 L1461.24 -528.88 L1462.88 -531.13 M1464.84 -533.83 L1466.2 -535.69 L1471.15 -542.49 L1471.18 -542.53 M1473.15 -545.23 L1476.12 -549.3 L1479.49 -553.93 M1481.47 -556.63 L1486.05 -562.91 L1487.82 -565.33 M1489.79 -568.03 L1491.02 -569.71 L1495.99 -576.51 L1496.15 -576.73 M1498.13 -579.43 L1500.97 -583.31 L1504.5 -588.13 M1506.48 -590.83 L1510.94 -596.91 L1512.85 -599.53 M1514.84 -602.23 L1515.92 -603.71 L1520.91 -610.51 L1521.22 -610.93 M1523.2 -613.63 L1525.91 -617.31 M700.57 758.16 L704.49 751.07 L705.39 749.46 M706.88 746.76 L708.43 743.98 L711.72 738.06 M713.22 735.36 L716.31 729.81 L718.07 726.66 M719.58 723.96 L720.26 722.73 L724.22 715.65 L724.44 715.26 M725.96 712.56 L728.19 708.57 L730.84 703.86 M732.35 701.16 L736.14 694.42 L737.25 692.46 M738.77 689.76 L740.13 687.35 L743.68 681.06 M745.21 678.36 L748.12 673.22 L750.14 669.66 M751.67 666.96 L752.13 666.15 L756.14 659.09 L756.61 658.26 M758.15 655.56 L760.16 652.03 L763.11 646.86 M764.65 644.16 L768.22 637.91 L769.62 635.46 M771.17 632.76 L772.26 630.86 L776.16 624.06 M777.71 621.36 L780.35 616.76 L782.71 612.66 M784.26 609.96 L784.41 609.71 L788.47 602.66 L789.28 601.26 M790.84 598.56 L792.54 595.62 L795.88 589.86 M797.44 587.16 L800.7 581.54 L802.49 578.46 M804.06 575.76 L804.79 574.5 L808.88 567.46 L809.12 567.06 M810.69 564.36 L812.98 560.43 L815.77 555.66 M817.35 552.96 L821.21 546.36 L822.44 544.26 M824.02 541.56 L825.32 539.33 L829.13 532.86 M830.71 530.16 L833.58 525.28 L835.83 521.46 M837.42 518.76 L837.72 518.26 L841.86 511.24 L842.56 510.06 M844.15 507.36 L846.01 504.22 L849.3 498.66 M850.9 495.96 L854.33 490.18 L856.07 487.26 M857.67 484.56 L858.5 483.17 L862.67 476.16 L862.85 475.86 M864.46 473.16 L866.85 469.15 L869.65 464.46 M871.26 461.76 L875.22 455.13 L876.46 453.06 M878.08 450.36 L879.42 448.12 L883.3 441.66 M884.92 438.96 L887.83 434.12 L890.15 430.26 M891.78 427.56 L892.04 427.12 L896.26 420.12 L897.03 418.86 M898.66 416.16 L900.49 413.12 L903.91 407.46 M905.55 404.76 L908.96 399.14 L910.82 396.06 M912.46 393.36 L913.2 392.14 L917.45 385.15 L917.75 384.66 M919.39 381.96 L921.7 378.17 L924.69 373.26 M926.34 370.56 L930.22 364.19 L931.65 361.86 M933.3 359.16 L934.49 357.21 L938.63 350.46 M940.28 347.76 L943.05 343.25 L945.62 339.06 M947.28 336.36 L947.33 336.27 L951.63 329.29 L952.63 327.66 M954.3 324.96 L955.92 322.32 L959.66 316.26 M961.33 313.56 L964.53 308.37 L966.71 304.86 M968.38 302.16 L968.85 301.4 L973.17 294.43 L973.77 293.46 M975.45 290.76 L977.49 287.47 L980.85 282.06 M982.53 279.36 L986.15 273.53 L987.95 270.66 M989.63 267.96 L990.49 266.57 L994.84 259.61 L995.06 259.26 M996.75 256.56 L999.19 252.65 L1002.19 247.86 M1003.88 245.16 L1007.91 238.74 L1009.33 236.46 M1011.03 233.76 L1012.27 231.78 L1016.5 225.06 M1018.19 222.36 L1021.02 217.87 L1023.67 213.66 M1025.38 210.96 L1025.4 210.92 L1029.79 203.97 L1030.87 202.26 M1032.58 199.56 L1034.18 197.03 L1038.08 190.86 M1039.79 188.16 L1042.98 183.13 L1045.31 179.46 M1047.02 176.76 L1047.38 176.19 L1051.79 169.25 L1052.55 168.06 M1054.27 165.36 L1056.21 162.31 L1059.81 156.66 M1061.53 153.96 L1065.06 148.43 L1067.08 145.26 M1068.81 142.56 L1069.49 141.49 L1073.93 134.56 L1074.37 133.86 M1076.1 131.16 L1078.37 127.62 L1081.68 122.46 M1083.41 119.76 L1087.26 113.76 L1089 111.06 M1090.74 108.36 L1091.72 106.83 L1096.18 99.9 L1096.34 99.66 M1098.08 96.96 L1100.65 92.97 L1103.69 88.26 M1105.43 85.56 L1109.59 79.12 L1111.06 76.86 M1112.8 74.16 L1114.07 72.2 L1118.44 65.46 M1120.19 62.76 L1123.05 58.36 L1125.84 54.06 M1127.59 51.36 L1132.04 44.52 L1133.25 42.66 M1135.01 39.96 L1136.54 37.6 L1140.68 31.26 M1142.44 28.56 L1145.56 23.77 L1148.12 19.86 M1149.88 17.16 L1150.08 16.86 L1154.6 9.95 L1155.58 8.46 M1157.34 5.76 L1159.13 3.03 L1163.05 -2.94 M1164.82 -5.64 L1168.2 -10.78 L1170.53 -14.34 M1172.31 -17.04 L1172.74 -17.69 L1177.28 -24.6 L1178.04 -25.74 M1179.81 -28.44 L1181.83 -31.5 L1185.55 -37.14 M1187.33 -39.84 L1190.94 -45.31 L1193.08 -48.54 M1194.87 -51.24 L1195.51 -52.21 L1200.07 -59.11 L1200.63 -59.94 M1202.42 -62.64 L1204.64 -66.01 L1208.19 -71.34 M1209.98 -74.04 L1213.8 -79.8 L1215.76 -82.74 M1217.55 -85.44 L1218.39 -86.69 L1222.98 -93.59 L1223.35 -94.14 M1225.14 -96.84 L1227.57 -100.48 L1230.95 -105.54 M1232.75 -108.24 L1236.77 -114.26 L1238.56 -116.94 M1240.37 -119.64 L1241.38 -121.15 L1245.99 -128.04 L1246.19 -128.34 M1248 -131.04 L1250.61 -134.93 L1253.83 -139.74 M1255.65 -142.44 L1259.85 -148.7 L1261.49 -151.14 M1263.31 -153.84 L1264.48 -155.58 L1269.11 -162.46 L1269.16 -162.54 M1270.98 -165.24 L1273.75 -169.35 L1276.85 -173.94 M1278.67 -176.64 L1283.03 -183.11 L1284.54 -185.34 M1286.37 -188.04 L1287.68 -189.98 L1292.26 -196.74 M1294.08 -199.44 L1297 -203.74 L1299.98 -208.14 M1301.81 -210.84 L1306.32 -217.49 L1307.72 -219.54 M1309.55 -222.24 L1310.99 -224.36 L1315.47 -230.94 M1317.31 -233.64 L1320.35 -238.1 L1323.24 -242.34 M1325.08 -245.04 L1329.72 -251.84 L1331.01 -253.74 M1332.86 -256.44 L1334.41 -258.71 L1338.8 -265.14 M1340.65 -267.84 L1343.8 -272.44 L1346.61 -276.54 M1348.46 -279.24 L1348.5 -279.31 L1353.21 -286.17 L1354.42 -287.94 M1356.28 -290.64 L1357.92 -293.04 L1362.25 -299.34 M1364.11 -302.04 L1367.36 -306.76 L1370.1 -310.74 M1371.96 -313.44 L1372.08 -313.62 L1376.81 -320.48 L1377.95 -322.14 M1379.82 -324.84 L1381.54 -327.33 L1385.82 -333.54 M1387.69 -336.24 L1391.01 -341.05 L1393.7 -344.94 M1395.57 -347.64 L1395.75 -347.9 L1400.5 -354.76 L1401.6 -356.34 M1403.47 -359.04 L1405.25 -361.61 L1409.5 -367.74 M1411.38 -370.44 L1414.76 -375.31 L1417.42 -379.14 M1419.3 -381.84 L1419.52 -382.16 L1424.29 -389.01 L1425.35 -390.54 M1427.23 -393.24 L1429.06 -395.86 L1433.29 -401.94 M1435.18 -404.64 L1438.61 -409.56 L1441.25 -413.34 M1443.13 -416.04 L1443.39 -416.4 L1448.17 -423.25 L1449.22 -424.74 M1451.11 -427.44 L1452.96 -430.09 L1457.2 -436.14 M1459.09 -438.84 L1462.55 -443.78 L1465.19 -447.54 M1467.08 -450.24 L1467.35 -450.62 L1472.15 -457.46 L1473.19 -458.94 M1475.09 -461.64 L1476.96 -464.3 L1481.21 -470.34 M1483.11 -473.04 L1486.58 -477.98 L1489.24 -481.74 M1491.14 -484.44 L1491.4 -484.81 L1496.22 -491.65 L1497.28 -493.14 M1499.18 -495.84 L1501.05 -498.49 L1505.33 -504.54 M1507.24 -507.24 L1510.71 -512.15 L1513.39 -515.94 M1515.3 -518.64 L1515.55 -518.99 L1520.39 -525.82 L1521.47 -527.34 M1523.38 -530.04 L1525.23 -532.65 L1529.55 -538.74 M1531.47 -541.44 L1534.93 -546.31 L1537.65 -550.14 M1539.57 -552.84 L1539.78 -553.14 L1544.64 -559.97 L1545.76 -561.54 M1547.68 -564.24 L1549.5 -566.79 L1553.88 -572.94 M1555.81 -575.64 L1559.23 -580.44 L1562.01 -584.34 M1563.94 -587.04 L1564.1 -587.27 L1568.98 -594.09 L1570.16 -595.74 M1572.09 -598.44 L1573.86 -600.92 L1578.31 -607.14 M1580.25 -609.84 L1583.63 -614.56 L1586.48 -618.54 M1588.41 -621.24 L1588.51 -621.38 M797.74 764.07 L801.42 756.9 L802.21 755.37 M803.6 752.67 L805.11 749.73 L808.08 743.97 M809.47 741.27 L812.5 735.41 L813.98 732.57 M815.38 729.87 L816.21 728.25 L819.89 721.17 M821.3 718.47 L823.65 713.95 L825.84 709.77 M827.25 707.07 L827.39 706.8 L831.13 699.65 L831.8 698.37 M833.22 695.67 L834.88 692.5 L837.79 686.97 M839.21 684.27 L842.4 678.22 L843.8 675.57 M845.23 672.87 L846.17 671.09 L849.84 664.17 M851.27 661.47 L853.74 656.82 L855.9 652.77 M857.33 650.07 L857.53 649.69 L861.33 642.57 L861.98 641.37 M863.42 638.67 L865.14 635.44 L868.08 629.97 M869.53 627.27 L872.78 621.2 L874.2 618.57 M875.66 615.87 L876.62 614.08 L880.35 607.17 M881.81 604.47 L884.3 599.86 L886.52 595.77 M887.98 593.07 L888.16 592.75 L892.02 585.64 L892.71 584.37 M894.18 581.67 L895.89 578.54 L898.93 572.97 M900.4 570.27 L903.64 564.33 L905.16 561.57 M906.64 558.87 L907.53 557.24 L911.42 550.17 M912.9 547.47 L915.33 543.05 L917.7 538.77 M919.18 536.07 L919.25 535.96 L923.16 528.87 L923.99 527.37 M925.49 524.67 L927.09 521.78 L930.32 515.97 M931.82 513.27 L934.96 507.61 L936.66 504.57 M938.16 501.87 L938.91 500.53 L942.86 493.46 L943.02 493.17 M944.53 490.47 L946.82 486.38 L949.41 481.77 M950.92 479.07 L954.76 472.24 L955.81 470.37 M957.33 467.67 L958.74 465.17 L962.23 458.97 M963.76 456.27 L966.72 451.03 L968.68 447.57 M970.21 444.87 L970.72 443.97 L974.72 436.91 L975.15 436.17 M976.68 433.47 L978.74 429.85 L981.63 424.77 M983.17 422.07 L986.78 415.74 L988.14 413.37 M989.69 410.67 L990.82 408.69 L994.67 401.97 M996.22 399.27 L998.9 394.59 L1001.22 390.57 M1002.77 387.87 L1002.95 387.54 L1007.01 380.5 L1007.78 379.17 M1009.34 376.47 L1011.08 373.46 L1014.37 367.77 M1015.93 365.07 L1019.23 359.38 L1020.98 356.37 M1022.54 353.67 L1023.31 352.34 L1027.4 345.31 L1027.6 344.97 M1029.17 342.27 L1031.5 338.27 L1034.25 333.57 M1035.82 330.87 L1039.71 324.21 L1040.91 322.17 M1042.49 319.47 L1043.83 317.19 L1047.59 310.77 M1049.18 308.07 L1052.08 303.14 L1054.3 299.37 M1055.89 296.67 L1056.21 296.12 L1060.35 289.1 L1061.02 287.97 M1062.61 285.27 L1064.5 282.08 L1067.76 276.57 M1069.36 273.87 L1072.81 268.05 L1074.52 265.17 M1076.12 262.47 L1076.97 261.04 L1081.14 254.03 L1081.3 253.77 M1082.91 251.07 L1085.32 247.02 L1088.09 242.37 M1089.71 239.67 L1093.69 233.01 L1094.91 230.97 M1096.53 228.27 L1097.88 226 L1101.74 219.57 M1103.36 216.87 L1106.28 212 L1108.59 208.17 M1110.22 205.47 L1110.5 205.01 L1114.71 198.01 L1115.46 196.77 M1117.09 194.07 L1118.94 191.01 L1122.35 185.37 M1123.99 182.67 L1127.4 177.03 L1129.26 173.97 M1130.9 171.27 L1131.64 170.04 L1135.89 163.05 L1136.18 162.57 M1137.82 159.87 L1140.14 156.07 L1143.12 151.17 M1144.77 148.47 L1148.66 142.1 L1150.08 139.77 M1151.73 137.07 L1152.92 135.12 L1157.06 128.37 M1158.72 125.67 L1161.48 121.16 L1164.05 116.97 M1165.71 114.27 L1165.76 114.18 L1170.05 107.21 L1171.07 105.57 M1172.73 102.87 L1174.35 100.24 L1178.09 94.17 M1179.76 91.47 L1182.96 86.29 L1185.14 82.77 M1186.81 80.07 L1187.27 79.33 L1191.59 72.36 L1192.2 71.37 M1193.88 68.67 L1195.91 65.39 L1199.28 59.97 M1200.96 57.27 L1204.57 51.47 L1206.38 48.57 M1208.07 45.87 L1208.91 44.51 L1213.26 37.55 L1213.5 37.17 M1215.18 34.47 L1217.61 30.59 L1220.63 25.77 M1222.32 23.07 L1226.32 16.68 L1227.77 14.37 M1229.47 11.67 L1230.69 9.72 L1234.94 2.97 M1236.64 0.27 L1239.44 -4.18 L1242.12 -8.43 M1243.82 -11.13 L1248.2 -18.07 L1249.32 -19.83 M1251.02 -22.53 L1252.59 -25.02 L1256.53 -31.23 M1258.24 -33.93 L1261.39 -38.91 L1263.76 -42.63 M1265.47 -45.33 L1265.8 -45.85 L1270.21 -52.79 L1271 -54.03 M1272.72 -56.73 L1274.63 -59.73 L1278.26 -65.43 M1279.99 -68.13 L1283.48 -73.6 L1285.54 -76.83 M1287.27 -79.53 L1287.91 -80.54 L1292.34 -87.47 L1292.83 -88.23 M1294.56 -90.93 L1296.79 -94.4 L1300.14 -99.63 M1301.88 -102.33 L1305.69 -108.26 L1307.47 -111.03 M1309.2 -113.73 L1310.14 -115.19 L1314.6 -122.12 L1314.81 -122.43 M1316.55 -125.13 L1319.07 -129.04 L1322.16 -133.83 M1323.91 -136.53 L1328.02 -142.89 L1329.53 -145.23 M1331.28 -147.93 L1332.5 -149.81 L1336.92 -156.63 M1338.67 -159.33 L1341.47 -163.65 L1344.32 -168.03 M1346.08 -170.73 L1350.47 -177.48 L1351.74 -179.43 M1353.5 -182.13 L1354.97 -184.4 L1359.17 -190.83 M1360.93 -193.53 L1364 -198.23 L1366.62 -202.23 M1368.38 -204.93 L1368.52 -205.14 L1373.04 -212.05 L1374.08 -213.63 M1375.85 -216.33 L1377.57 -218.96 L1381.55 -225.03 M1383.33 -227.73 L1386.64 -232.77 L1389.05 -236.43 M1390.82 -239.13 L1391.18 -239.67 L1395.72 -246.58 L1396.55 -247.83 M1398.33 -250.53 L1400.28 -253.48 L1404.07 -259.23 M1405.86 -261.93 L1409.39 -267.28 L1411.61 -270.63 M1413.39 -273.33 L1413.96 -274.18 L1418.53 -281.08 L1419.16 -282.03 M1420.95 -284.73 L1423.1 -287.98 L1426.72 -293.43 M1428.52 -296.13 L1432.26 -301.77 L1434.3 -304.83 M1436.1 -307.53 L1436.85 -308.66 L1441.44 -315.55 L1441.89 -316.23 M1443.69 -318.93 L1446.03 -322.44 L1449.5 -327.63 M1451.3 -330.33 L1455.24 -336.22 L1457.12 -339.03 M1458.93 -341.73 L1459.85 -343.11 L1464.46 -350 L1464.76 -350.43 M1466.57 -353.13 L1469.08 -356.88 L1472.4 -361.83 M1474.22 -364.53 L1478.33 -370.65 L1480.07 -373.23 M1481.88 -375.93 L1482.96 -377.53 L1487.59 -384.41 L1487.74 -384.63 M1489.56 -387.33 L1492.23 -391.29 L1495.43 -396.03 M1497.26 -398.73 L1501.52 -405.05 L1503.14 -407.43 M1504.96 -410.13 L1506.17 -411.92 L1510.83 -418.8 L1510.85 -418.83 M1512.68 -421.53 L1515.49 -425.67 L1518.59 -430.23 M1520.42 -432.93 L1524.82 -439.42 L1526.33 -441.63 M1528.17 -444.33 L1529.5 -446.29 L1534.09 -453.03 M1535.93 -455.73 L1538.85 -460.03 L1541.86 -464.43 M1543.7 -467.13 L1548.23 -473.77 L1549.64 -475.83 M1551.49 -478.53 L1552.92 -480.63 L1557.44 -487.23 M1559.29 -489.93 L1562.32 -494.36 L1565.25 -498.63 M1567.1 -501.33 L1571.74 -508.09 L1573.07 -510.03 M1574.93 -512.73 L1576.45 -514.95 L1580.91 -521.43 M1582.77 -524.13 L1585.89 -528.67 L1588.76 -532.83 M1590.62 -535.53 L1595.34 -542.38 L1596.62 -544.23 M1598.49 -546.93 L1600.08 -549.24 L1604.5 -555.63 M1606.36 -558.33 L1609.56 -562.95 L1612.39 -567.03 M1614.25 -569.73 L1614.3 -569.8 L1619.05 -576.66 L1620.29 -578.43 M1622.16 -581.13 L1623.8 -583.51 L1628.2 -589.83 M1630.07 -592.53 L1633.32 -597.21 L1636.12 -601.23 M1638 -603.93 L1638.09 -604.06 L1642.86 -610.9 L1644.06 -612.63 M1645.94 -615.33 L1647.63 -617.75 L1652.01 -624.03" stroke="#cbcbcb" stroke-width="1" fill="none"/>
<path d="M428.24 752.22 L435.54 744.92 M439.29 741.17 L446.59 733.87 M450.34 730.12 L457.64 722.82 M461.39 719.07 L468.69 711.77 M472.44 708.02 L479.74 700.72 M483.49 696.97 L490.79 689.67 M494.54 685.92 L501.84 678.62 M505.59 674.87 L512.89 667.57 M516.64 663.82 L523.94 656.52 M527.69 652.77 L534.99 645.47 M538.74 641.72 L546.04 634.42 M549.79 630.67 L557.09 623.37 M560.84 619.62 L568.14 612.32 M571.89 608.57 L579.19 601.27 M582.94 597.52 L590.24 590.22 M593.99 586.47 L601.29 579.17 M605.04 575.42 L612.34 568.12 M616.09 564.37 L623.39 557.07 M627.14 553.32 L634.44 546.02 M638.19 542.27 L645.49 534.97 M649.24 531.22 L656.54 523.92 M660.29 520.17 L667.59 512.87 M671.34 509.12 L678.64 501.82 M682.39 498.07 L689.69 490.77 M693.44 487.02 L700.74 479.72 M704.49 475.97 L711.79 468.67 M715.54 464.92 L722.84 457.62 M726.59 453.87 L733.89 446.57 M737.64 442.82 L744.94 435.52 M748.69 431.77 L755.99 424.47 M759.74 420.72 L767.04 413.42 M770.79 409.67 L778.09 402.37 M781.84 398.62 L789.14 391.32 M792.89 387.57 L800.19 380.27 M803.94 376.52 L811.24 369.22 M814.99 365.47 L822.29 358.17 M826.04 354.42 L833.34 347.12 M837.09 343.37 L844.39 336.07 M848.14 332.32 L855.44 325.02 M859.19 321.27 L866.49 313.97 M870.24 310.22 L877.54 302.92 M881.29 299.17 L888.59 291.87 M892.34 288.12 L899.64 280.82 M903.39 277.07 L910.69 269.77 M914.44 266.02 L921.74 258.72 M925.49 254.97 L932.79 247.67 M936.54 243.92 L943.84 236.62 M947.59 232.87 L954.89 225.57 M958.64 221.82 L965.94 214.52 M969.69 210.77 L976.99 203.47 M980.74 199.72 L988.04 192.42 M991.79 188.67 L999.09 181.37 M1002.84 177.62 L1010.14 170.32 M1013.89 166.57 L1021.19 159.27 M1024.94 155.52 L1032.24 148.22 M1035.99 144.47 L1043.29 137.17 M1047.04 133.42 L1054.34 126.12 M1058.09 122.37 L1065.39 115.07 M1069.14 111.32 L1076.44 104.02 M1080.19 100.27 L1087.49 92.97 M1091.24 89.22 L1098.54 81.92 M1102.29 78.17 L1109.59 70.87 M1113.34 67.12 L1120.64 59.82 M1124.39 56.07 L1131.69 48.77 M1135.44 45.02 L1142.74 37.72 M1146.49 33.97 L1153.79 26.67 M1157.54 22.92 L1164.84 15.62 M1168.59 11.87 L1175.89 4.57 M1179.64 0.82 L1186.94 -6.48 M1190.69 -10.23 L1197.99 -17.53 M1201.74 -21.28 L1209.04 -28.58 M1212.79 -32.33 L1220.09 -39.63 M1223.84 -43.38 L1231.14 -50.68 M1234.89 -54.43 L1242.19 -61.73 M1245.94 -65.48 L1253.24 -72.78 M1256.99 -76.53 L1264.29 -83.83 M1268.04 -87.58 L1275.34 -94.88 M1279.09 -98.63 L1286.39 -105.93 M1290.14 -109.68 L1297.44 -116.98 M1301.19 -120.73 L1308.49 -128.03 M1312.24 -131.78 L1319.54 -139.08 M1323.29 -142.83 L1328.24 -147.78" stroke="#8686e2" stroke-width="1" fill="none"/>
<path d="M39 324.19 L46.24 322.52 L46.4 322.49 M50.1 321.65 L53.47 320.88 L57.5 319.97 M61.2 319.13 L67.94 317.62 L68.6 317.48 M72.3 316.65 L75.18 316.02 L79.7 315.02 M83.4 314.21 L89.65 312.84 L90.8 312.59 M94.5 311.79 L96.88 311.27 L101.9 310.2 M105.6 309.4 L111.35 308.18 L113 307.83 M116.7 307.05 L118.59 306.65 L124.1 305.5 M127.8 304.73 L133.06 303.64 L135.2 303.2 M138.9 302.44 L140.29 302.15 L146.3 300.93 M150 300.18 L154.76 299.22 L157.4 298.69 M161.1 297.95 L162 297.77 L168.5 296.48 M172.2 295.75 L176.47 294.91 L179.6 294.3 M183.3 293.58 L183.71 293.51 L190.7 292.16 M194.4 291.45 L198.18 290.73 L201.8 290.04 M205.5 289.34 L212.65 288.01 L212.9 287.96 M216.6 287.27 L219.88 286.66 L224 285.91 M227.7 285.23 L234.35 284.02 L235.1 283.89 M238.8 283.22 L241.59 282.72 L246.2 281.9 M249.9 281.24 L256.06 280.15 L257.3 279.94 M261 279.29 L263.29 278.89 L268.4 278.01 M272.1 277.37 L277.76 276.4 L279.5 276.11 M283.2 275.48 L285 275.18 L290.6 274.24 M294.3 273.63 L299.47 272.77 L301.7 272.41 M305.4 271.8 L306.71 271.59 L312.8 270.6 M316.5 270.01 L321.18 269.26 L323.9 268.83 M327.6 268.24 L328.41 268.11 L335 267.08 M338.7 266.51 L342.88 265.86 L346.1 265.37 M349.8 264.8 L350.12 264.75 L357.2 263.68 M360.9 263.13 L364.59 262.58 L368.3 262.03 M372 261.48 L379.06 260.45 L379.4 260.41 M383.1 259.87 L386.29 259.41 L390.5 258.81 M394.2 258.29 L400.76 257.37 L401.6 257.25 M405.3 256.74 L408 256.36 L412.7 255.72 M416.4 255.22 L422.47 254.4 L423.8 254.22 M427.5 253.72 L429.71 253.43 L434.9 252.75 M438.6 252.26 L444.18 251.54 L446 251.31 M449.7 250.83 L451.41 250.61 L457.1 249.89 M460.8 249.43 L465.88 248.8 L468.2 248.51 M471.9 248.06 L473.12 247.91 L479.3 247.16 M483 246.72 L487.59 246.17 L490.4 245.84 M494.1 245.41 L494.82 245.32 L501.5 244.55 M505.2 244.12 L509.29 243.66 L512.6 243.29 M516.3 242.87 L516.53 242.85 L523.7 242.05 M527.4 241.65 L531 241.26 L534.8 240.85 M538.5 240.46 L545.47 239.72 L545.9 239.68 M549.6 239.3 L552.71 238.97 L557 238.54 M560.7 238.16 L567.18 237.51 L568.1 237.42 M571.8 237.06 L574.41 236.8 L579.2 236.34 M582.9 235.98 L588.88 235.41 L590.3 235.28 M594 234.94 L596.12 234.74 L601.4 234.26 M605.1 233.92 L610.59 233.43 L612.5 233.26 M616.2 232.94 L617.82 232.79 L623.6 232.29 M627.3 231.98 L632.29 231.56 L634.7 231.36 M638.4 231.05 L639.53 230.96 L645.8 230.45 M649.5 230.15 L654 229.79 L656.9 229.57 M660.6 229.28 L661.24 229.23 L668 228.72 M671.7 228.44 L675.71 228.14 L679.1 227.9 M682.8 227.63 L682.94 227.62 L690.18 227.1 L690.2 227.1 M693.9 226.85 L697.41 226.6 L701.3 226.34 M705 226.09 L711.88 225.64 L712.4 225.6 M716.1 225.37 L719.12 225.17 L723.5 224.9 M727.2 224.67 L733.59 224.28 L734.6 224.22 M738.3 224 L740.82 223.85 L745.7 223.57 M749.4 223.36 L755.29 223.03 L756.8 222.95 M760.5 222.75 L762.53 222.64 L767.9 222.36 M771.6 222.17 L777 221.89 L779 221.79 M782.7 221.61 L784.24 221.54 L790.1 221.26 M793.8 221.09 L798.71 220.86 L801.2 220.75 M804.9 220.59 L805.94 220.54 L812.3 220.27 M816 220.12 L820.41 219.94 L823.4 219.82 M827.1 219.68 L827.65 219.66 L834.5 219.4 M838.2 219.27 L842.12 219.13 L845.6 219.01 M849.3 218.88 L849.35 218.88 L856.59 218.64 L856.7 218.64 M860.4 218.52 L863.82 218.42 L867.8 218.3 M871.5 218.19 L878.29 218 L878.9 217.99 M882.6 217.89 L885.53 217.82 L890 217.71 M893.7 217.62 L900 217.47" stroke="#e67c7c" stroke-width="1.15" fill="none"/>
<path d="M574.66 776.79 L573.26 772.86 L571.86 768.93 L570.46 765 L569.07 761.06 L567.68 757.12 L566.29 753.18 L564.9 749.24 L563.52 745.29 L562.14 741.34 L431.69 285.41 L431.69 285.41 L469.45 247.64 L507.21 209.88 L544.97 172.12 L582.74 134.36 L620.5 96.59 L658.26 58.83 L696.03 21.07 L733.79 -16.7 L771.55 -54.46 L809.31 -92.22 L847.08 -129.98 L884.84 -167.75 L922.6 -205.51 L960.36 -243.27 L998.13 -281.03 L1035.89 -318.8 L1073.65 -356.56 L1111.42 -394.32 L1149.18 -432.09" stroke="#808080" stroke-width="1.6" fill="none"/>
<path d="M712 0 L684.4 23.1 L666.7 39.1 L639 59.3 L621.2 72.8 L585.1 110.7 L566.2 130 L554.3 143.3 L527 172.5 L500 190.4 L482.5 201.9 L449.5 228.8 L388.3 258.1 C387.4 259.65 384.87 264 382.9 267.4 C380.93 270.8 378.05 275.58 376.5 278.5 C374.95 281.42 374.67 281.9 373.6 284.9 C372.53 287.9 371.27 292.63 370.1 296.5 C368.93 300.37 367.47 304.8 366.6 308.1 C365.73 311.4 365.28 313.58 364.9 316.3 C364.52 319.02 364.3 320.47 364.3 324.4 C364.3 328.33 364.68 335.63 364.9 339.9 C365.12 344.17 365.08 344.72 365.6 350 C366.12 355.28 366.83 364.9 368 371.6 C369.17 378.3 370.27 383.22 372.6 390.2 C374.93 397.18 378.88 405.33 382 413.5 C385.12 421.67 388.97 432.58 391.3 439.2 C393.63 445.82 394.83 448.03 396 453.2 C397.17 458.37 397.2 465.18 398.3 470.2 C399.4 475.22 401.1 477.23 402.6 483.3 C404.1 489.37 405.55 499.22 407.3 506.6 C409.05 513.98 411.62 521.38 413.1 527.6 C414.58 533.82 415.68 538.07 416.2 543.9 C416.72 549.73 415.93 557.15 416.2 562.6 C416.47 568.05 416.18 570.78 417.8 576.6 C419.42 582.42 423.38 591.3 425.9 597.5 C428.42 603.7 431.03 608.75 432.9 613.8 C434.77 618.85 436.17 623.52 437.1 627.8 C438.03 632.08 438.43 636.03 438.5 639.5 C438.57 642.97 438.13 645 437.5 648.6 C436.87 652.2 435.23 657.73 434.7 661.1 C434.17 664.47 433.97 666.22 434.3 668.8 C434.63 671.38 435.53 674.02 436.7 676.6 C437.87 679.18 439.88 681.2 441.3 684.3 C442.72 687.4 444.03 691.32 445.2 695.2 C446.37 699.08 447.65 703.97 448.3 707.6 C448.95 711.23 449.23 714.67 449.1 717 C448.97 719.33 448.67 720.05 447.5 721.6 C446.33 723.15 444.03 724.73 442.1 726.3 C440.17 727.87 437.32 729.58 435.9 731 C434.48 732.42 434.38 733.83 433.6 734.8 C432.82 735.77 434.95 736.15 431.2 736.8 C427.45 737.45 416.65 738 411.1 738.7 C405.55 739.4 400.1 740.62 397.9 741" stroke="#000" stroke-width="2.2" fill="none" stroke-linejoin="round"/>
<path d="M475.4 0 L421.5 62.3 L387.8 101 L354.2 141.4 L330.6 171.7 L302 207.1 L291.9 232.3 L280.1 255.9 L279.3 256 L285.4 273.7 L274.3 295.6 C272.05 298.97 265.3 309.07 260.8 315.8 C256.3 322.53 250.38 330.12 247.3 336 C244.22 341.88 243.98 345.77 242.3 351.1 C240.62 356.43 238.6 361.27 237.2 368 C235.8 374.73 235.58 383.65 233.9 391.5 C232.22 399.35 229.92 406.68 227.1 415.1 C224.28 423.52 220.37 432.47 217 442 C213.63 451.53 209.4 464.97 206.9 472.3 C204.4 479.63 203.73 481.38 202 486 C200.27 490.62 197.5 495.83 196.5 500 C195.5 504.17 194.87 507.87 196 511 C197.13 514.13 200.15 516.2 203.3 518.8 C206.45 521.4 211.67 524.1 214.9 526.6 C218.13 529.1 221.18 531.22 222.7 533.8 C224.22 536.38 223.35 539.63 224 542.1 C224.65 544.57 224.23 546.37 226.6 548.6 C228.97 550.83 233.03 553.13 238.2 555.5 C243.37 557.87 250.05 560.2 257.6 562.8 C265.15 565.4 274.87 568.73 283.5 571.1 C292.13 573.47 301.63 575.15 309.4 577 C317.17 578.85 324.5 580.25 330.1 582.2 C335.7 584.15 340.63 586.55 343 588.7 C345.37 590.85 345.6 592.73 344.3 595.1 C343 597.47 339.08 599.88 335.2 602.9 C331.32 605.92 324.53 610.05 321 613.2 C317.47 616.35 315.08 619.2 314 621.8 C312.92 624.4 312.68 626.57 314.5 628.8 C316.32 631.03 319.28 631.97 324.9 635.2 C330.52 638.43 341.3 644.32 348.2 648.2 C355.1 652.08 361 655.9 366.3 658.5 C371.6 661.1 376.17 662.47 380 663.8 C383.83 665.13 385.93 665.28 389.3 666.5 C392.67 667.72 396.97 669.55 400.2 671.1 C403.43 672.65 407.15 674.12 408.7 675.8 C410.25 677.48 409.88 679.25 409.5 681.2 C409.12 683.15 406.92 685.68 406.4 687.5 C405.88 689.32 405.62 690.3 406.4 692.1 C407.18 693.9 409.03 695.72 411.1 698.3 C413.17 700.88 416.95 704.88 418.8 707.6 C420.65 710.32 421.82 712.27 422.2 714.6 C422.58 716.93 422.18 719.4 421.1 721.6 C420.02 723.8 417.88 725.98 415.7 727.8 C413.52 729.62 410.07 730.95 408 732.5 C405.93 734.05 404.98 735.93 403.3 737.1 C401.62 738.27 399.45 738.92 397.9 739.5 C396.35 740.08 394.65 740.42 394 740.6" stroke="#dd1111" stroke-width="2.2" fill="none" stroke-linejoin="round"/>
<defs><linearGradient id="gg" x1="440.2" y1="739.4" x2="525.1" y2="654.5" gradientUnits="userSpaceOnUse"><stop offset="0" stop-color="#8a7030"/><stop offset="0.05" stop-color="#58c234"/><stop offset="0.3" stop-color="#5fba32"/><stop offset="0.5" stop-color="#799c32"/><stop offset="0.7" stop-color="#8a8a2e"/><stop offset="0.84" stop-color="#68b83a"/><stop offset="0.95" stop-color="#86d866"/><stop offset="1" stop-color="#b8f0a8"/></linearGradient></defs>
<path d="M440.2 739.4 L525.1 654.5" stroke="#b0eca0" stroke-width="7" stroke-linecap="round" fill="none" opacity="0.6"/>
<path d="M440.2 739.4 L525.1 654.5" stroke="url(#gg)" stroke-width="5.2" stroke-linecap="round" fill="none"/>
</g>
<g font-family="Liberation Sans, sans-serif" font-size="10" fill="#000"><g transform="translate(101.83 756.56) rotate(-53.17)"><rect x="-12.82" y="-4.18" width="25.63" height="8.36" fill="#fff"/><text x="0" y="3.58" text-anchor="middle">0.125</text></g><g transform="translate(161.99 753.97) rotate(-53.78)"><rect x="-10.03" y="-4.18" width="20.07" height="8.36" fill="#fff"/><text x="0" y="3.58" text-anchor="middle">0.25</text></g><g transform="translate(225.51 752.14) rotate(-54.47)"><rect x="-7.25" y="-4.18" width="14.51" height="8.36" fill="#fff"/><text x="0" y="3.58" text-anchor="middle">0.5</text></g><g transform="translate(291.9 752.32) rotate(-55.24)"><rect x="-3.08" y="-4.18" width="6.16" height="8.36" fill="#fff"/><text x="0" y="3.58" text-anchor="middle">1</text></g><g transform="translate(364.68 750.11) rotate(-56.1)"><rect x="-3.08" y="-4.18" width="6.16" height="8.36" fill="#fff"/><text x="0" y="3.58" text-anchor="middle">2</text></g><g transform="translate(441.8 749.07) rotate(-57.09)"><rect x="-3.08" y="-4.18" width="6.16" height="8.36" fill="#fff"/><text x="0" y="3.58" text-anchor="middle">4</text></g><g transform="translate(523.63 749.4) rotate(-58.22)"><rect x="-3.08" y="-4.18" width="6.16" height="8.36" fill="#fff"/><text x="0" y="3.58" text-anchor="middle">8</text></g><g transform="translate(611.92 748.96) rotate(-59.52)"><rect x="-5.86" y="-4.18" width="11.72" height="8.36" fill="#fff"/><text x="0" y="3.58" text-anchor="middle">16</text></g><g transform="translate(703.93 752.76) rotate(-61.04)"><rect x="-5.86" y="-4.18" width="11.72" height="8.36" fill="#fff"/><text x="0" y="3.58" text-anchor="middle">32</text></g><g transform="translate(800.89 758.68) rotate(-62.86)"><rect x="-5.86" y="-4.18" width="11.72" height="8.36" fill="#fff"/><text x="0" y="3.58" text-anchor="middle">64</text></g><g transform="translate(891.27 43.92)"><rect x="-7.53" y="-4.18" width="15.05" height="8.36" fill="#fff"/><text x="0" y="3.58" text-anchor="middle">-30</text></g><g transform="translate(891.27 125.32)"><rect x="-7.53" y="-4.18" width="15.05" height="8.36" fill="#fff"/><text x="0" y="3.58" text-anchor="middle">-20</text></g><g transform="translate(891.27 207.82)"><rect x="-7.53" y="-4.18" width="15.05" height="8.36" fill="#fff"/><text x="0" y="3.58" text-anchor="middle">-10</text></g><g transform="translate(895.72 285.32)"><rect x="-3.08" y="-4.18" width="6.16" height="8.36" fill="#fff"/><text x="0" y="3.58" text-anchor="middle">0</text></g><g transform="translate(892.94 370.92)"><rect x="-5.86" y="-4.18" width="11.72" height="8.36" fill="#fff"/><text x="0" y="3.58" text-anchor="middle">10</text></g><g transform="translate(892.94 453.32)"><rect x="-5.86" y="-4.18" width="11.72" height="8.36" fill="#fff"/><text x="0" y="3.58" text-anchor="middle">20</text></g><g transform="translate(892.94 535.12)"><rect x="-5.86" y="-4.18" width="11.72" height="8.36" fill="#fff"/><text x="0" y="3.58" text-anchor="middle">30</text></g><g transform="translate(892.94 616.62)"><rect x="-5.86" y="-4.18" width="11.72" height="8.36" fill="#fff"/><text x="0" y="3.58" text-anchor="middle">40</text></g><g transform="translate(892.94 698.82)"><rect x="-5.86" y="-4.18" width="11.72" height="8.36" fill="#fff"/><text x="0" y="3.58" text-anchor="middle">50</text></g><g transform="translate(87 768.32)"><rect x="-7.53" y="-4.18" width="15.05" height="8.36" fill="#fff"/><text x="0" y="3.58" text-anchor="middle">-40</text></g><g transform="translate(172.87 761.55)"><rect x="-7.53" y="-4.18" width="15.05" height="8.36" fill="#fff"/><text x="0" y="3.58" text-anchor="middle">-30</text></g><g transform="translate(259.73 756.71)"><rect x="-7.53" y="-4.18" width="15.05" height="8.36" fill="#fff"/><text x="0" y="3.58" text-anchor="middle">-20</text></g><g transform="translate(344.81 753.64)"><rect x="-7.53" y="-4.18" width="15.05" height="8.36" fill="#fff"/><text x="0" y="3.58" text-anchor="middle">-10</text></g><g transform="translate(428.24 752.22)"><rect x="-3.08" y="-4.18" width="6.16" height="8.36" fill="#fff"/><text x="0" y="3.58" text-anchor="middle">0</text></g><g transform="translate(510.15 752.32)"><rect x="-5.86" y="-4.18" width="11.72" height="8.36" fill="#fff"/><text x="0" y="3.58" text-anchor="middle">10</text></g><g transform="translate(590.64 753.85)"><rect x="-5.86" y="-4.18" width="11.72" height="8.36" fill="#fff"/><text x="0" y="3.58" text-anchor="middle">20</text></g><g transform="translate(669.8 756.7)"><rect x="-5.86" y="-4.18" width="11.72" height="8.36" fill="#fff"/><text x="0" y="3.58" text-anchor="middle">30</text></g><g transform="translate(747.73 760.78)"><rect x="-5.86" y="-4.18" width="11.72" height="8.36" fill="#fff"/><text x="0" y="3.58" text-anchor="middle">40</text></g><g transform="translate(824.49 766.03)"><rect x="-5.86" y="-4.18" width="11.72" height="8.36" fill="#fff"/><text x="0" y="3.58" text-anchor="middle">50</text></g><g transform="translate(64.1 715.97) rotate(45)"><rect x="-7.53" y="-4.18" width="15.05" height="8.36" fill="#fff"/><text x="0" y="3.58" text-anchor="middle">-40</text></g><g transform="translate(113.66 666.83) rotate(45)"><rect x="-7.53" y="-4.18" width="15.05" height="8.36" fill="#fff"/><text x="0" y="3.58" text-anchor="middle">-30</text></g><g transform="translate(163.93 616.32) rotate(45)"><rect x="-7.53" y="-4.18" width="15.05" height="8.36" fill="#fff"/><text x="0" y="3.58" text-anchor="middle">-20</text></g><g transform="translate(219.14 561.34) rotate(45)"><rect x="-7.53" y="-4.18" width="15.05" height="8.36" fill="#fff"/><text x="0" y="3.58" text-anchor="middle">-10</text></g><g transform="translate(283.24 491.91) rotate(45)"><rect x="-3.08" y="-4.18" width="6.16" height="8.36" fill="#fff"/><text x="0" y="3.58" text-anchor="middle">0</text></g><g transform="translate(364.24 414.57) rotate(45)"><rect x="-5.86" y="-4.18" width="11.72" height="8.36" fill="#fff"/><text x="0" y="3.58" text-anchor="middle">10</text></g><g transform="translate(471.93 306.76) rotate(45)"><rect x="-5.86" y="-4.18" width="11.72" height="8.36" fill="#fff"/><text x="0" y="3.58" text-anchor="middle">20</text></g><g transform="translate(626.76 148.99) rotate(45)"><rect x="-5.86" y="-4.18" width="11.72" height="8.36" fill="#fff"/><text x="0" y="3.58" text-anchor="middle">30</text></g><g transform="translate(19.81 6.02)"><text x="0" y="3.58" text-anchor="middle">63705ft</text></g><g transform="translate(19.81 75.63)"><text x="0" y="3.58" text-anchor="middle">57095ft</text></g><g transform="translate(19.81 156.01)"><text x="0" y="3.58" text-anchor="middle">50060ft</text></g><g transform="translate(19.81 251.61)"><text x="0" y="3.58" text-anchor="middle">42095ft</text></g><g transform="translate(19.81 322.14)"><text x="0" y="3.58" text-anchor="middle">36425ft</text></g><g transform="translate(19.81 378.4)"><text x="0" y="3.58" text-anchor="middle">32050ft</text></g><g transform="translate(19.81 425.35)"><text x="0" y="3.58" text-anchor="middle">28350ft</text></g><g transform="translate(19.81 501.23)"><text x="0" y="3.58" text-anchor="middle">22235ft</text></g><g transform="translate(19.81 561.59)"><text x="0" y="3.58" text-anchor="middle">17240ft</text></g><g transform="translate(19.81 611.87)"><text x="0" y="3.58" text-anchor="middle">12980ft</text></g><g transform="translate(22.59 655.06)"><text x="0" y="3.58" text-anchor="middle">9260ft</text></g><g transform="translate(22.59 710.32)"><text x="0" y="3.58" text-anchor="middle">4450ft</text></g><g transform="translate(25.38 757.31)"><text x="0" y="3.58" text-anchor="middle">345ft</text></g><g transform="translate(60.32 149.22)"><rect x="-19.62" y="-4.18" width="39.25" height="9.96" fill="#fff"/><text x="0" y="3.58" text-anchor="middle" textLength="38.65" lengthAdjust="spacingAndGlyphs">100[hPa]</text></g><g transform="translate(60.32 247.97)"><rect x="-19.62" y="-4.18" width="39.25" height="9.96" fill="#fff"/><text x="0" y="3.58" text-anchor="middle" textLength="38.65" lengthAdjust="spacingAndGlyphs">150[hPa]</text></g><g transform="translate(60.32 318.72)"><rect x="-19.62" y="-4.18" width="39.25" height="9.96" fill="#fff"/><text x="0" y="3.58" text-anchor="middle" textLength="38.65" lengthAdjust="spacingAndGlyphs">200[hPa]</text></g><g transform="translate(60.32 375.14)"><rect x="-19.62" y="-4.18" width="39.25" height="9.96" fill="#fff"/><text x="0" y="3.58" text-anchor="middle" textLength="38.65" lengthAdjust="spacingAndGlyphs">250[hPa]</text></g><g transform="translate(60.32 422.23)"><rect x="-19.62" y="-4.18" width="39.25" height="9.96" fill="#fff"/><text x="0" y="3.58" text-anchor="middle" textLength="38.65" lengthAdjust="spacingAndGlyphs">300[hPa]</text></g><g transform="translate(60.32 498.34)"><rect x="-19.62" y="-4.18" width="39.25" height="9.96" fill="#fff"/><text x="0" y="3.58" text-anchor="middle" textLength="38.65" lengthAdjust="spacingAndGlyphs">400[hPa]</text></g><g transform="translate(60.32 558.89)"><rect x="-19.62" y="-4.18" width="39.25" height="9.96" fill="#fff"/><text x="0" y="3.58" text-anchor="middle" textLength="38.65" lengthAdjust="spacingAndGlyphs">500[hPa]</text></g><g transform="translate(60.32 609.32)"><rect x="-19.62" y="-4.18" width="39.25" height="9.96" fill="#fff"/><text x="0" y="3.58" text-anchor="middle" textLength="38.65" lengthAdjust="spacingAndGlyphs">600[hPa]</text></g><g transform="translate(60.32 652.64)"><rect x="-19.62" y="-4.18" width="39.25" height="9.96" fill="#fff"/><text x="0" y="3.58" text-anchor="middle" textLength="38.65" lengthAdjust="spacingAndGlyphs">700[hPa]</text></g><g transform="translate(60.32 708.07)"><rect x="-19.62" y="-4.18" width="39.25" height="9.96" fill="#fff"/><text x="0" y="3.58" text-anchor="middle" textLength="38.65" lengthAdjust="spacingAndGlyphs">850[hPa]</text></g><g transform="translate(63.01 755.21)"><rect x="-22.31" y="-4.18" width="44.61" height="9.96" fill="#fff"/><text x="0" y="3.58" text-anchor="middle" textLength="44.01" lengthAdjust="spacingAndGlyphs">1000[hPa]</text></g><g transform="translate(63.01 764.72)"><rect x="-22.31" y="-4.18" width="44.61" height="9.96" fill="#fff"/><text x="0" y="3.58" text-anchor="middle" textLength="44.01" lengthAdjust="spacingAndGlyphs">1050[hPa]</text></g><g transform="translate(816.62 7.52)"><rect x="-19.62" y="-4.18" width="39.25" height="9.96" fill="#fff"/><text x="0" y="3.58" text-anchor="middle" textLength="38.65" lengthAdjust="spacingAndGlyphs">100[hPa]</text></g></g>
<path d="M799.1 8.4 L783.6 14.7 M783.6 14.7 L776 8.2 M786.8 13.4 L779.3 6.8 M790.2 12.1 L786 8.6 M804.7 211.2 L812.6 219.3 L804.7 227.3 L796.8 219.3 L804.7 211.2 M803.5 217.2 L822.4 210.3 M805.5 219.4 L826.3 210.6 M822.4 210.3 L826.8 217 M826.3 210.6 L833.6 217.6 M803.9 345.4 L827.6 343.4 M811.4 344.8 L814.4 349.2 M815.6 344.6 L820.9 352.9 M819.7 344.23 L825 352.53 M823.8 343.86 L829.1 352.16 M827.6 343.52 L832.9 351.82 M803.9 438.9 L827.2 436.9 M819.4 437.6 L821.7 441.5 M804.2 512.5 L827.8 513.2 M816.1 512.9 L820.8 521.5 M820 512.9 L824.7 521.5 M823.9 512.9 L828.6 521.5 M827.8 512.9 L832.5 521.5 M803.6 625.3 L823.3 638.3 M816.5 634.8 L816.5 644.8 M819.9 637 L819.9 646.9 M823.2 638.4 L823.2 648.6 M804.1 692.1 L814.8 713.5 M813.3 711 L807.5 717.9 M814.8 713.5 L808.9 720.8 M804.1 722.2 L818.6 740.7 M813.3 736.3 L809.9 743.6 M816 738.3 L812.3 746.5 M818.6 740.7 L814.8 749.4 M804.7 749.2 L802.4 775 M801.8 768.5 L797.5 771.5" stroke="#111" stroke-width="1" fill="none"/>
<path d="M822.2 437.5 L827.4 436.7 L827.9 444.9 Z" fill="#000"/>
<path d="M897.3 4.3 L899.6 9.8" stroke="#d46a7a" stroke-width="1.3" fill="none"/>
<g font-family="DejaVu Sans Condensed, Liberation Sans, sans-serif" fill="#000"><rect x="39.5" y="0.5" width="296.5" height="121" fill="#fff" stroke="#222" stroke-width="1"/><path d="M337 1.5 V122.5 H40.5" stroke="#c8c8c8" stroke-width="1" fill="none"/><text x="41.8" y="18.5" font-size="11.5" font-weight="bold" textLength="97.2" lengthAdjust="spacingAndGlyphs">Sounding Indices</text><text x="43.4" y="34.6" font-size="10.5" textLength="283.2" lengthAdjust="spacingAndGlyphs">UWC/IG 5km/01.02.2026 06:00/+69 h/Húsavíkurflugvöllur</text><text x="43.3" y="50.7" font-size="10.5" textLength="36.7" lengthAdjust="spacingAndGlyphs">Position</text><text x="188.5" y="50.7" font-size="10.8" font-weight="bold" textLength="83.1" lengthAdjust="spacingAndGlyphs">65°57'N 17°26'W</text><text x="43.3" y="66.7" font-size="10.5" textLength="43" lengthAdjust="spacingAndGlyphs">Elevation</text><text x="188.5" y="66.7" font-size="10.8" font-weight="bold" textLength="19.1" lengthAdjust="spacingAndGlyphs">80ft</text><text x="43.3" y="82.7" font-size="10.5" textLength="27.8" lengthAdjust="spacingAndGlyphs">Name</text><text x="188.5" y="82.7" font-size="10.8" font-weight="bold" textLength="91.9" lengthAdjust="spacingAndGlyphs">Húsavíkurflugvöllur</text><text x="43.3" y="98.4" font-size="10.5" textLength="30.8" lengthAdjust="spacingAndGlyphs">TH850</text><text x="188.5" y="98.4" font-size="10.8" font-weight="bold" textLength="31" lengthAdjust="spacingAndGlyphs">4110ft</text><text x="43.3" y="114.4" font-size="10.5" textLength="30.8" lengthAdjust="spacingAndGlyphs">TH500</text><text x="188.5" y="114.4" font-size="10.8" font-weight="bold" textLength="36.8" lengthAdjust="spacingAndGlyphs">16895ft</text></g>
</svg>

</body></html>
